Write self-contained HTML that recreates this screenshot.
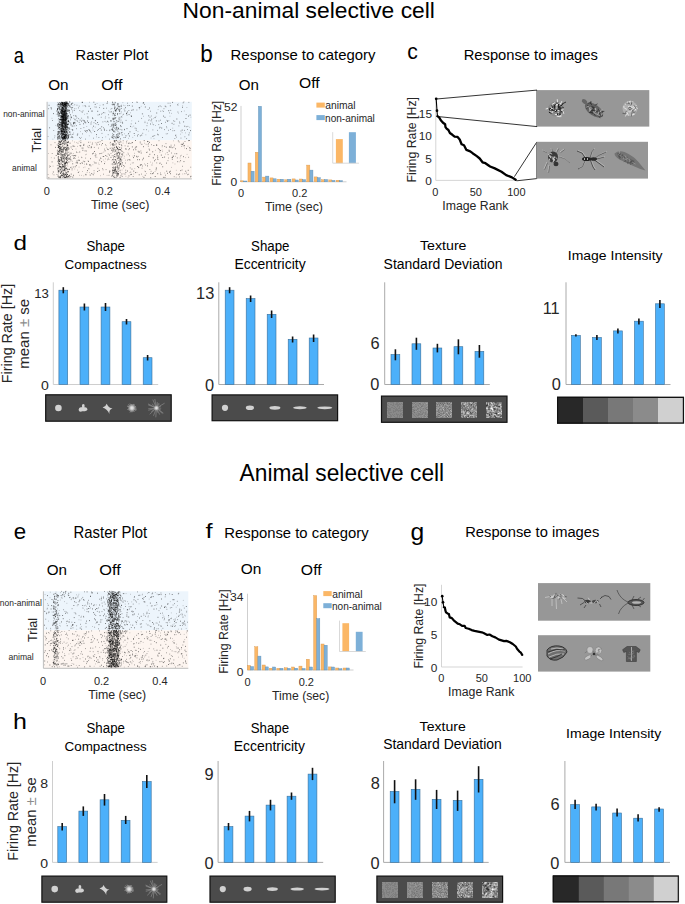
<!DOCTYPE html>
<html><head><meta charset="utf-8"><style>
html,body{margin:0;padding:0;background:#fff;}
body{width:685px;height:904px;overflow:hidden;font-family:"Liberation Sans", sans-serif;}
svg{display:block;}
svg text{font-family:"Liberation Sans", sans-serif;}
</style></head><body>
<svg width="685" height="904" viewBox="0 0 685 904" font-family='"Liberation Sans", sans-serif'>
<defs><radialGradient id="fz"><stop offset="0" stop-color="#f0f0f0"/><stop offset="0.5" stop-color="#c8c8c8"/><stop offset="1" stop-color="#8a8a8a" stop-opacity="0.6"/></radialGradient></defs>
<rect width="685" height="904" fill="#fff"/>
<text x="182.57" y="17.50" font-size="22.55" textLength="252.32" lengthAdjust="spacingAndGlyphs" fill="#000">Non-animal selective cell</text>
<text x="13.77" y="62.70" font-size="22.78" textLength="10.15" lengthAdjust="spacingAndGlyphs" fill="#000">a</text>
<text x="75.62" y="59.90" font-size="15.22" textLength="72.67" lengthAdjust="spacingAndGlyphs" fill="#000">Raster Plot</text>
<text x="48.21" y="90.40" font-size="15.00" textLength="20.36" lengthAdjust="spacingAndGlyphs" fill="#000">On</text>
<text x="101.28" y="90.40" font-size="14.94" textLength="21.15" lengthAdjust="spacingAndGlyphs" fill="#000">Off</text>
<text x="200.34" y="62.00" font-size="23.45" textLength="12.48" lengthAdjust="spacingAndGlyphs" fill="#000">b</text>
<text x="230.61" y="59.80" font-size="15.34" textLength="144.86" lengthAdjust="spacingAndGlyphs" fill="#000">Response to category</text>
<text x="238.82" y="90.20" font-size="14.57" textLength="20.15" lengthAdjust="spacingAndGlyphs" fill="#000">On</text>
<text x="299.09" y="88.10" font-size="13.89" textLength="20.63" lengthAdjust="spacingAndGlyphs" fill="#000">Off</text>
<text x="407.35" y="58.80" font-size="22.96" textLength="10.57" lengthAdjust="spacingAndGlyphs" fill="#000">c</text>
<text x="463.72" y="60.00" font-size="14.91" textLength="134.11" lengthAdjust="spacingAndGlyphs" fill="#000">Response to images</text>
<rect x="47.1" y="101.8" width="144.70000000000002" height="38.500000000000014" fill="#edf5fc"/>
<rect x="47.1" y="140.3" width="144.70000000000002" height="38.599999999999994" fill="#fdf5f0"/>
<path d="M48.7 105.3h0.75M49.3 127.8h0.75M50.7 107.7h0.75M50.9 108.9h0.75M53.2 113.6h0.75M56.4 111.0h0.75M56.9 125.9h0.75M57.1 109.8h0.75M57.3 131.9h0.75M57.3 125.9h0.75M57.3 109.8h0.75M57.2 114.1h0.75M57.1 134.3h0.75M57.4 137.9h0.75M57.6 112.8h0.75M57.7 104.4h0.75M57.5 136.2h0.75M57.7 123.7h0.75M57.7 137.9h0.75M57.5 139.3h0.75M58.2 136.3h0.75M58.0 126.8h0.75M58.3 112.2h0.75M58.1 112.1h0.75M58.1 104.6h0.75M57.9 132.9h0.75M58.8 127.5h0.75M58.6 108.5h0.75M58.6 128.6h0.75M58.6 126.2h0.75M58.8 114.9h0.75M58.4 131.8h0.75M58.5 131.3h0.75M58.6 137.4h0.75M59.3 135.6h0.75M59.1 124.5h0.75M59.0 119.5h0.75M59.1 113.7h0.75M59.2 136.5h0.75M59.2 102.7h0.75M59.0 127.6h0.75M59.0 125.0h0.75M59.1 107.8h0.75M59.6 131.4h0.75M59.6 127.5h0.75M59.4 104.4h0.75M59.6 107.3h0.75M59.8 105.4h0.75M59.6 124.3h0.75M59.7 133.5h0.75M59.8 132.0h0.75M60.1 128.9h0.75M60.0 119.4h0.75M59.9 119.5h0.75M60.1 124.7h0.75M60.1 115.5h0.75M60.2 122.8h0.75M60.2 112.9h0.75M60.0 103.4h0.75M60.6 109.4h0.75M60.7 118.9h0.75M60.7 110.7h0.75M60.7 108.9h0.75M60.4 104.1h0.75M60.6 125.2h0.75M60.6 104.5h0.75M60.5 119.7h0.75M60.7 130.6h0.75M60.4 134.6h0.75M60.7 112.4h0.75M60.6 131.9h0.75M61.2 132.0h0.75M61.1 131.4h0.75M60.9 125.6h0.75M61.2 126.1h0.75M61.2 116.6h0.75M61.0 108.1h0.75M60.9 113.4h0.75M61.2 130.9h0.75M61.3 103.2h0.75M60.9 110.0h0.75M61.2 124.1h0.75M60.9 112.3h0.75M61.3 119.8h0.75M61.3 136.1h0.75M61.2 110.7h0.75M61.2 124.5h0.75M60.9 113.9h0.75M60.9 130.7h0.75M60.9 133.0h0.75M61.0 104.7h0.75M61.4 107.1h0.75M61.7 128.4h0.75M61.4 110.3h0.75M61.4 117.1h0.75M61.7 102.5h0.75M61.5 126.2h0.75M61.8 124.7h0.75M61.5 120.6h0.75M61.7 133.1h0.75M61.8 125.3h0.75M61.5 119.2h0.75M61.8 124.4h0.75M61.4 122.3h0.75M61.8 126.5h0.75M61.6 131.9h0.75M61.4 119.4h0.75M61.5 123.2h0.75M61.5 125.9h0.75M61.8 113.8h0.75M61.6 130.0h0.75M61.6 104.4h0.75M61.6 132.0h0.75M61.4 131.5h0.75M61.6 137.5h0.75M61.5 113.0h0.75M61.8 119.5h0.75M61.4 134.8h0.75M61.4 129.0h0.75M61.6 104.8h0.75M61.5 128.4h0.75M61.8 123.9h0.75M61.5 125.8h0.75M62.0 122.4h0.75M62.3 138.8h0.75M62.3 120.5h0.75M62.1 137.5h0.75M62.2 131.5h0.75M61.9 107.5h0.75M62.0 131.7h0.75M62.2 110.7h0.75M62.0 103.4h0.75M62.2 121.5h0.75M61.9 111.4h0.75M62.0 138.2h0.75M61.9 116.5h0.75M62.1 104.7h0.75M62.2 104.0h0.75M62.0 114.8h0.75M62.1 107.9h0.75M62.0 119.3h0.75M62.0 102.5h0.75M61.9 134.9h0.75M62.2 121.3h0.75M62.0 110.7h0.75M61.9 124.1h0.75M61.9 128.3h0.75M62.2 126.8h0.75M62.0 112.8h0.75M62.0 103.3h0.75M62.0 125.5h0.75M62.1 116.5h0.75M62.0 105.3h0.75M61.9 117.0h0.75M62.0 111.3h0.75M62.0 126.9h0.75M62.1 117.4h0.75M62.4 109.0h0.75M62.7 110.6h0.75M62.6 116.6h0.75M62.8 114.3h0.75M62.5 111.1h0.75M62.4 121.1h0.75M62.4 104.4h0.75M62.7 119.8h0.75M62.8 134.4h0.75M62.5 128.6h0.75M62.7 114.1h0.75M62.5 108.7h0.75M62.4 103.4h0.75M62.7 139.1h0.75M62.6 115.8h0.75M62.8 133.3h0.75M62.6 131.8h0.75M62.5 120.1h0.75M62.4 125.2h0.75M62.5 103.7h0.75M62.8 113.4h0.75M62.8 129.0h0.75M62.4 108.1h0.75M62.5 121.1h0.75M62.5 137.8h0.75M62.4 123.4h0.75M62.5 105.3h0.75M62.6 127.3h0.75M62.5 130.1h0.75M62.8 113.9h0.75M62.5 138.9h0.75M62.6 116.2h0.75M63.1 136.7h0.75M63.1 134.3h0.75M63.3 120.2h0.75M63.3 131.7h0.75M63.0 105.6h0.75M62.9 138.8h0.75M62.9 114.5h0.75M63.2 108.6h0.75M63.2 119.3h0.75M63.0 117.1h0.75M63.0 123.5h0.75M63.0 117.2h0.75M63.1 122.3h0.75M63.0 119.2h0.75M63.1 126.4h0.75M63.2 129.6h0.75M62.9 119.4h0.75M63.0 120.8h0.75M63.1 106.7h0.75M63.0 117.3h0.75M63.1 133.7h0.75M63.2 128.5h0.75M63.1 102.9h0.75M62.9 111.6h0.75M63.5 120.0h0.75M63.7 120.1h0.75M63.6 138.0h0.75M63.6 115.6h0.75M63.7 123.9h0.75M63.4 105.3h0.75M63.8 116.9h0.75M63.8 114.1h0.75M63.4 130.4h0.75M63.7 123.5h0.75M63.8 136.2h0.75M63.7 122.4h0.75M63.6 136.4h0.75M63.4 129.6h0.75M63.6 109.4h0.75M63.6 138.6h0.75M63.7 110.6h0.75M63.7 123.4h0.75M63.6 120.1h0.75M63.7 105.6h0.75M63.6 122.5h0.75M63.7 111.7h0.75M63.4 121.9h0.75M63.5 111.3h0.75M63.6 112.0h0.75M63.7 111.5h0.75M63.6 114.9h0.75M63.4 123.0h0.75M63.4 126.8h0.75M63.6 120.0h0.75M63.6 106.9h0.75M63.8 136.9h0.75M64.2 132.1h0.75M64.3 117.1h0.75M64.0 134.9h0.75M64.2 114.3h0.75M64.0 134.7h0.75M64.0 113.1h0.75M64.1 132.5h0.75M64.1 116.1h0.75M64.3 107.2h0.75M64.0 136.7h0.75M64.2 137.3h0.75M64.0 106.3h0.75M64.3 104.5h0.75M64.0 103.6h0.75M64.1 137.3h0.75M64.0 104.7h0.75M64.1 103.7h0.75M63.9 129.4h0.75M63.9 102.4h0.75M64.3 112.6h0.75M63.9 137.3h0.75M63.9 127.6h0.75M64.1 116.0h0.75M64.2 119.1h0.75M63.9 131.8h0.75M64.3 131.7h0.75M64.1 114.6h0.75M63.9 121.0h0.75M64.3 126.0h0.75M64.3 113.4h0.75M64.5 102.7h0.75M64.5 112.0h0.75M64.8 130.8h0.75M64.6 129.7h0.75M64.4 123.6h0.75M64.5 104.4h0.75M64.8 135.6h0.75M64.4 130.5h0.75M64.4 122.5h0.75M64.7 129.1h0.75M64.6 118.0h0.75M64.4 104.5h0.75M64.7 118.2h0.75M64.5 138.7h0.75M64.6 118.8h0.75M64.7 117.2h0.75M64.6 138.5h0.75M64.4 136.0h0.75M64.6 138.8h0.75M64.6 120.4h0.75M64.8 111.2h0.75M64.5 119.6h0.75M64.7 138.8h0.75M64.5 125.0h0.75M65.0 115.5h0.75M65.1 105.4h0.75M65.3 104.1h0.75M64.9 127.9h0.75M65.0 119.3h0.75M65.0 112.8h0.75M65.1 121.0h0.75M65.2 135.3h0.75M64.9 113.1h0.75M65.2 125.1h0.75M65.3 104.6h0.75M65.1 123.6h0.75M64.9 125.7h0.75M64.9 109.4h0.75M65.0 132.7h0.75M65.3 110.8h0.75M65.3 127.1h0.75M64.9 110.7h0.75M65.2 120.3h0.75M65.0 114.2h0.75M65.1 136.1h0.75M65.1 110.8h0.75M65.2 128.9h0.75M65.3 107.3h0.75M65.0 105.0h0.75M64.9 106.0h0.75M64.9 106.0h0.75M65.2 108.1h0.75M65.1 115.9h0.75M64.9 114.4h0.75M65.1 137.0h0.75M65.2 135.9h0.75M65.7 137.8h0.75M65.6 123.0h0.75M65.4 122.7h0.75M65.4 101.8h0.75M65.5 116.7h0.75M65.5 124.9h0.75M65.4 117.3h0.75M65.8 104.0h0.75M65.4 110.4h0.75M65.7 119.4h0.75M65.6 120.9h0.75M65.8 131.5h0.75M65.4 127.2h0.75M65.7 118.5h0.75M65.5 135.1h0.75M65.4 136.9h0.75M65.4 131.1h0.75M65.8 131.5h0.75M65.5 136.2h0.75M65.8 125.0h0.75M65.4 120.7h0.75M65.5 122.5h0.75M65.7 119.2h0.75M65.5 125.9h0.75M65.8 104.9h0.75M65.5 119.6h0.75M65.5 117.7h0.75M65.8 114.0h0.75M65.6 113.8h0.75M65.9 132.1h0.75M66.1 105.4h0.75M66.2 126.9h0.75M66.2 132.7h0.75M65.9 103.6h0.75M66.1 123.0h0.75M65.9 134.9h0.75M66.0 119.1h0.75M66.2 105.8h0.75M66.3 136.9h0.75M65.9 108.0h0.75M65.9 115.0h0.75M66.0 103.0h0.75M66.3 116.1h0.75M65.9 108.9h0.75M66.2 129.4h0.75M66.0 132.0h0.75M66.3 120.9h0.75M66.0 110.3h0.75M66.0 123.0h0.75M65.9 127.1h0.75M66.1 116.0h0.75M65.9 112.9h0.75M66.6 102.7h0.75M66.8 134.0h0.75M66.5 137.4h0.75M66.6 129.4h0.75M66.8 102.1h0.75M66.5 127.0h0.75M66.7 124.5h0.75M66.8 113.5h0.75M66.8 103.4h0.75M66.5 125.8h0.75M66.8 109.7h0.75M67.3 103.4h0.75M67.1 105.9h0.75M67.0 111.0h0.75M67.3 127.2h0.75M67.2 115.1h0.75M66.9 126.7h0.75M67.3 116.7h0.75M67.5 127.7h0.75M67.5 116.6h0.75M67.5 138.4h0.75M67.6 110.3h0.75M67.5 135.4h0.75M67.6 121.4h0.75M67.6 104.3h0.75M67.7 103.9h0.75M67.7 124.5h0.75M67.8 120.9h0.75M67.8 116.2h0.75M67.7 111.5h0.75M67.5 124.6h0.75M67.8 136.4h0.75M67.9 137.4h0.75M68.2 121.6h0.75M67.9 128.0h0.75M68.1 121.5h0.75M68.0 135.1h0.75M68.2 115.6h0.75M68.3 123.9h0.75M68.2 137.6h0.75M68.0 110.1h0.75M68.6 105.7h0.75M68.7 134.6h0.75M68.8 129.1h0.75M68.8 122.1h0.75M68.5 135.9h0.75M69.1 132.1h0.75M69.2 110.2h0.75M69.5 102.0h0.75M70.0 114.8h0.75M70.5 124.9h0.75M70.4 123.1h0.75M71.1 117.1h0.75M71.1 104.2h0.75M70.9 117.7h0.75M71.1 107.8h0.75M71.6 136.7h0.75M72.3 107.6h0.75M72.3 129.8h0.75M72.5 126.1h0.75M72.4 130.1h0.75M73.2 123.6h0.75M73.0 123.2h0.75M73.6 122.5h0.75M73.9 110.3h0.75M75.7 116.2h0.75M76.9 135.1h0.75M77.4 134.0h0.75M79.7 120.1h0.75M79.6 124.4h0.75M81.8 102.4h0.75M81.8 112.1h0.75M81.9 102.3h0.75M83.0 123.8h0.75M84.1 120.9h0.75M84.7 105.7h0.75M84.4 122.1h0.75M85.3 131.3h0.75M85.4 122.8h0.75M87.0 130.8h0.75M87.1 121.0h0.75M87.5 116.9h0.75M88.2 122.5h0.75M88.1 111.3h0.75M88.6 129.5h0.75M88.7 106.2h0.75M89.4 130.5h0.75M90.1 108.7h0.75M91.6 111.1h0.75M92.2 117.9h0.75M93.1 126.2h0.75M93.5 102.2h0.75M94.3 131.5h0.75M94.8 104.4h0.75M94.9 120.7h0.75M95.7 107.1h0.75M96.1 134.6h0.75M97.3 122.5h0.75M97.4 111.3h0.75M100.9 130.1h0.75M101.4 126.8h0.75M102.8 104.8h0.75M103.4 108.4h0.75M103.4 112.6h0.75M104.1 130.2h0.75M103.9 129.1h0.75M106.7 103.4h0.75M107.2 121.3h0.75M107.0 101.9h0.75M109.5 130.1h0.75M110.9 111.8h0.75M111.7 124.3h0.75M111.7 125.7h0.75M111.5 129.3h0.75M112.3 128.1h0.75M112.2 102.2h0.75M112.0 137.7h0.75M112.7 130.3h0.75M112.7 118.2h0.75M112.6 113.8h0.75M112.7 104.2h0.75M112.9 118.7h0.75M113.1 113.2h0.75M113.1 127.1h0.75M113.0 125.3h0.75M113.5 113.8h0.75M113.4 134.5h0.75M113.4 136.2h0.75M113.7 104.8h0.75M113.8 121.7h0.75M114.1 108.2h0.75M113.9 118.0h0.75M114.0 114.9h0.75M114.5 128.2h0.75M114.8 118.6h0.75M114.5 125.3h0.75M114.7 107.2h0.75M115.0 110.7h0.75M114.9 123.6h0.75M115.3 137.8h0.75M115.3 125.2h0.75M115.0 115.3h0.75M114.9 110.9h0.75M115.4 117.5h0.75M116.4 109.8h0.75M116.8 136.5h0.75M116.4 138.0h0.75M116.7 130.0h0.75M116.9 108.3h0.75M117.1 113.9h0.75M117.3 104.1h0.75M117.2 137.5h0.75M117.7 103.7h0.75M117.6 129.0h0.75M117.5 108.2h0.75M118.3 137.6h0.75M117.9 135.1h0.75M118.0 121.3h0.75M118.2 128.7h0.75M118.7 136.6h0.75M118.5 109.7h0.75M119.1 111.3h0.75M118.9 110.7h0.75M119.3 106.8h0.75M119.3 134.0h0.75M119.5 117.9h0.75M119.5 113.7h0.75M120.3 125.6h0.75M120.7 126.6h0.75M120.8 108.4h0.75M120.9 116.8h0.75M121.5 129.9h0.75M121.8 122.2h0.75M121.8 134.9h0.75M124.2 129.4h0.75M124.5 110.9h0.75M125.1 107.7h0.75M125.6 135.8h0.75M126.2 113.6h0.75M126.6 128.6h0.75M127.3 112.0h0.75M127.5 105.6h0.75M128.3 133.6h0.75M128.7 114.6h0.75M129.2 136.0h0.75M129.6 131.8h0.75M130.1 126.4h0.75M130.8 115.9h0.75M131.2 116.4h0.75M131.9 106.1h0.75M132.6 110.0h0.75M133.8 133.5h0.75M135.3 123.2h0.75M135.8 130.2h0.75M136.8 102.3h0.75M137.2 135.9h0.75M138.8 107.7h0.75M139.9 135.8h0.75M141.4 135.1h0.75M142.8 103.1h0.75M143.3 102.7h0.75M144.9 107.0h0.75M148.4 115.8h0.75M149.1 108.0h0.75M150.2 124.0h0.75M150.7 120.8h0.75M151.4 119.2h0.75M152.5 136.4h0.75M155.9 120.9h0.75M156.4 113.0h0.75M157.8 134.8h0.75M159.7 106.0h0.75M159.6 127.3h0.75M161.1 123.5h0.75M161.4 128.0h0.75M163.1 116.1h0.75M164.8 106.2h0.75M164.6 117.3h0.75M167.2 121.2h0.75M168.4 110.7h0.75M169.9 105.8h0.75M171.7 123.3h0.75M172.3 102.4h0.75M176.5 119.0h0.75M181.8 130.1h0.75M182.2 107.3h0.75M183.3 121.9h0.75M184.4 126.2h0.75M185.6 118.5h0.75M188.0 116.1h0.75M188.5 134.9h0.75M189.7 115.1h0.75M190.0 130.6h0.75M48.5 177.8h0.75M51.7 161.9h0.75M52.9 172.0h0.75M55.0 147.4h0.75M55.8 155.5h0.75M57.2 153.7h0.75M56.9 150.9h0.75M57.5 154.3h0.75M57.5 168.6h0.75M57.6 145.3h0.75M57.6 176.1h0.75M57.8 172.2h0.75M57.7 161.8h0.75M57.5 152.7h0.75M58.2 154.1h0.75M57.9 171.4h0.75M58.1 147.0h0.75M58.3 159.3h0.75M57.9 143.5h0.75M57.9 151.4h0.75M58.2 147.6h0.75M58.3 156.7h0.75M58.2 145.3h0.75M58.7 167.3h0.75M58.7 146.5h0.75M58.4 162.2h0.75M58.6 141.5h0.75M58.4 163.6h0.75M58.7 151.3h0.75M58.5 165.3h0.75M58.4 168.7h0.75M59.0 148.2h0.75M59.0 142.0h0.75M59.2 144.3h0.75M59.1 159.9h0.75M59.3 163.9h0.75M59.1 150.5h0.75M59.1 166.5h0.75M59.7 159.4h0.75M59.6 141.2h0.75M59.7 144.5h0.75M59.5 176.7h0.75M59.6 160.3h0.75M59.6 142.9h0.75M59.5 152.7h0.75M59.5 148.9h0.75M59.7 151.5h0.75M59.8 166.9h0.75M59.6 163.8h0.75M59.9 177.9h0.75M60.1 148.2h0.75M59.9 153.9h0.75M60.0 169.8h0.75M60.2 173.0h0.75M60.0 166.5h0.75M60.1 176.0h0.75M60.2 142.2h0.75M60.0 173.3h0.75M60.5 169.9h0.75M60.8 153.7h0.75M60.8 141.2h0.75M60.8 171.8h0.75M60.4 149.3h0.75M60.5 160.8h0.75M60.5 144.5h0.75M60.4 177.3h0.75M60.7 141.9h0.75M60.6 166.7h0.75M60.6 144.4h0.75M61.0 151.8h0.75M61.2 158.7h0.75M61.0 159.4h0.75M60.9 154.6h0.75M61.2 171.2h0.75M61.6 160.6h0.75M61.4 149.3h0.75M61.6 175.7h0.75M61.4 168.1h0.75M61.4 149.9h0.75M61.7 162.5h0.75M62.1 175.3h0.75M62.0 164.8h0.75M62.0 164.7h0.75M62.2 161.5h0.75M62.3 154.6h0.75M62.1 155.9h0.75M62.3 170.9h0.75M62.7 149.5h0.75M62.6 150.3h0.75M62.6 145.0h0.75M62.4 173.7h0.75M62.4 166.6h0.75M62.7 157.0h0.75M62.8 166.4h0.75M62.9 152.1h0.75M63.0 154.8h0.75M63.2 143.1h0.75M62.9 166.5h0.75M63.0 174.4h0.75M63.0 173.0h0.75M63.1 158.5h0.75M62.9 159.1h0.75M63.6 161.0h0.75M63.4 148.5h0.75M63.8 165.5h0.75M63.8 174.1h0.75M63.4 170.6h0.75M63.8 163.9h0.75M64.3 175.8h0.75M64.1 163.8h0.75M64.1 143.9h0.75M64.2 148.9h0.75M64.3 167.1h0.75M63.9 168.7h0.75M64.2 169.7h0.75M64.3 170.4h0.75M64.3 147.7h0.75M64.3 177.0h0.75M64.4 169.3h0.75M64.6 164.0h0.75M64.6 166.3h0.75M64.6 155.2h0.75M64.5 174.6h0.75M64.4 177.6h0.75M64.6 153.4h0.75M64.4 163.0h0.75M64.5 167.3h0.75M64.5 140.5h0.75M64.5 144.6h0.75M64.5 154.1h0.75M64.8 147.4h0.75M64.9 158.5h0.75M65.0 140.9h0.75M65.2 149.9h0.75M65.1 163.1h0.75M65.1 168.9h0.75M65.2 163.0h0.75M65.1 150.9h0.75M65.2 163.7h0.75M65.4 177.5h0.75M65.6 163.2h0.75M65.7 168.5h0.75M65.4 174.4h0.75M65.4 171.0h0.75M65.4 140.4h0.75M65.6 168.2h0.75M65.5 153.8h0.75M66.0 157.7h0.75M66.0 149.2h0.75M66.0 168.3h0.75M66.2 162.1h0.75M66.1 157.6h0.75M66.3 177.0h0.75M66.1 176.2h0.75M66.2 158.9h0.75M66.5 148.6h0.75M66.6 144.8h0.75M66.5 154.1h0.75M66.6 162.5h0.75M66.5 172.7h0.75M66.5 177.2h0.75M67.2 145.0h0.75M67.1 142.6h0.75M66.9 160.5h0.75M66.9 174.5h0.75M67.1 174.5h0.75M67.3 155.8h0.75M67.0 163.1h0.75M67.8 149.6h0.75M67.6 152.4h0.75M67.5 169.2h0.75M67.8 171.8h0.75M67.4 171.3h0.75M67.8 141.7h0.75M67.8 147.7h0.75M67.4 145.3h0.75M67.9 142.5h0.75M68.3 176.3h0.75M68.1 176.2h0.75M68.7 169.5h0.75M68.4 148.3h0.75M69.0 175.3h0.75M69.1 169.2h0.75M69.0 175.8h0.75M69.0 158.9h0.75M69.5 154.1h0.75M69.7 143.2h0.75M70.0 159.2h0.75M70.1 156.9h0.75M70.8 174.1h0.75M70.5 153.1h0.75M70.5 176.4h0.75M71.7 168.9h0.75M72.6 146.0h0.75M72.4 163.8h0.75M73.2 175.3h0.75M73.4 158.3h0.75M73.5 146.2h0.75M73.4 155.8h0.75M73.9 155.5h0.75M73.9 157.9h0.75M74.8 166.8h0.75M75.8 162.8h0.75M75.9 165.6h0.75M76.0 152.1h0.75M76.6 161.0h0.75M77.3 163.0h0.75M77.9 172.5h0.75M77.9 160.2h0.75M79.0 160.3h0.75M79.7 145.6h0.75M79.4 152.0h0.75M80.5 142.6h0.75M82.6 148.1h0.75M82.5 150.3h0.75M83.4 145.5h0.75M84.7 150.9h0.75M85.5 174.4h0.75M86.4 164.3h0.75M87.2 170.6h0.75M88.1 161.4h0.75M88.5 168.8h0.75M88.9 145.6h0.75M89.2 164.9h0.75M89.8 164.9h0.75M90.2 158.7h0.75M90.9 146.8h0.75M91.4 173.6h0.75M92.0 153.8h0.75M93.3 153.2h0.75M94.0 151.5h0.75M94.8 155.7h0.75M94.5 162.9h0.75M95.7 163.0h0.75M96.6 144.8h0.75M97.3 171.5h0.75M98.8 170.4h0.75M99.4 160.1h0.75M100.5 158.4h0.75M100.6 153.5h0.75M101.0 161.7h0.75M101.6 140.4h0.75M102.1 143.5h0.75M103.4 156.5h0.75M104.0 163.6h0.75M104.7 150.8h0.75M105.4 155.5h0.75M107.1 149.2h0.75M109.0 171.1h0.75M109.0 172.2h0.75M109.2 155.1h0.75M109.8 148.3h0.75M110.6 157.4h0.75M111.3 150.3h0.75M111.4 176.1h0.75M112.3 144.8h0.75M112.0 159.6h0.75M112.3 175.2h0.75M112.1 173.1h0.75M112.4 170.2h0.75M112.5 143.5h0.75M112.5 150.3h0.75M112.5 167.5h0.75M112.6 164.7h0.75M112.8 168.8h0.75M112.9 173.2h0.75M113.2 144.1h0.75M113.0 176.7h0.75M113.3 170.5h0.75M113.4 172.3h0.75M113.6 159.5h0.75M114.2 156.6h0.75M114.2 170.3h0.75M114.1 140.7h0.75M114.2 171.7h0.75M114.1 141.5h0.75M114.8 163.5h0.75M114.4 169.9h0.75M114.6 164.5h0.75M114.5 144.8h0.75M114.4 154.5h0.75M114.5 177.4h0.75M115.0 169.3h0.75M114.9 169.7h0.75M115.2 167.1h0.75M114.9 151.2h0.75M115.0 167.8h0.75M115.0 159.6h0.75M115.2 170.9h0.75M115.7 172.2h0.75M115.4 157.0h0.75M115.8 173.5h0.75M115.8 143.9h0.75M116.3 146.4h0.75M116.2 161.7h0.75M116.3 147.2h0.75M116.3 171.4h0.75M116.3 147.3h0.75M116.1 140.4h0.75M116.4 153.0h0.75M116.7 155.5h0.75M116.8 153.9h0.75M116.5 175.1h0.75M116.8 167.5h0.75M117.3 173.3h0.75M116.9 173.9h0.75M116.9 163.9h0.75M117.2 153.0h0.75M117.3 148.0h0.75M117.1 148.5h0.75M117.0 166.8h0.75M117.8 171.6h0.75M117.4 175.1h0.75M117.4 165.8h0.75M117.7 174.8h0.75M117.9 169.1h0.75M118.2 162.9h0.75M117.9 156.9h0.75M118.2 173.6h0.75M118.3 152.7h0.75M118.7 157.6h0.75M118.5 162.6h0.75M118.5 155.7h0.75M118.7 149.7h0.75M119.1 154.3h0.75M118.9 165.7h0.75M119.3 149.5h0.75M119.6 158.4h0.75M119.4 153.6h0.75M119.5 159.2h0.75M119.5 164.2h0.75M119.7 177.4h0.75M119.7 170.3h0.75M120.2 149.5h0.75M120.0 163.5h0.75M120.2 164.3h0.75M120.8 161.1h0.75M120.6 175.8h0.75M120.5 142.0h0.75M120.4 158.8h0.75M121.3 148.1h0.75M121.2 145.0h0.75M121.3 154.2h0.75M121.3 166.4h0.75M121.4 159.9h0.75M121.5 174.0h0.75M121.6 163.0h0.75M123.4 165.5h0.75M124.6 174.0h0.75M125.2 148.9h0.75M125.5 172.4h0.75M127.2 171.0h0.75M127.6 146.2h0.75M128.1 143.3h0.75M128.7 159.6h0.75M128.6 175.9h0.75M129.1 148.7h0.75M129.6 160.0h0.75M131.0 174.4h0.75M131.6 169.1h0.75M132.2 142.6h0.75M131.9 146.9h0.75M133.1 157.6h0.75M133.2 149.8h0.75M133.4 171.1h0.75M134.0 155.8h0.75M135.3 172.6h0.75M135.1 140.5h0.75M135.5 149.7h0.75M135.4 147.2h0.75M136.3 156.3h0.75M136.3 146.8h0.75M137.1 166.5h0.75M137.3 159.7h0.75M137.8 151.3h0.75M138.8 174.8h0.75M138.4 167.6h0.75M139.1 159.7h0.75M139.1 152.0h0.75M139.8 142.1h0.75M140.1 164.9h0.75M140.8 153.0h0.75M141.3 164.7h0.75M141.5 144.3h0.75M143.1 146.7h0.75M143.0 158.2h0.75M143.8 140.6h0.75M143.6 177.4h0.75M144.8 175.3h0.75M147.2 165.9h0.75M147.5 141.6h0.75M147.4 141.4h0.75M148.0 143.9h0.75M148.5 156.4h0.75M149.3 150.0h0.75M149.2 142.4h0.75M149.5 154.3h0.75M150.4 177.8h0.75M152.3 173.6h0.75M152.4 151.8h0.75M153.2 172.9h0.75M153.5 145.5h0.75M154.2 160.8h0.75M154.2 154.7h0.75M154.8 176.5h0.75M155.7 169.8h0.75M156.1 168.1h0.75M156.3 144.9h0.75M156.4 145.3h0.75M157.3 159.1h0.75M157.4 173.7h0.75M157.4 157.3h0.75M157.9 148.7h0.75M159.1 149.8h0.75M159.7 163.1h0.75M160.2 150.5h0.75M160.5 174.6h0.75M160.9 155.1h0.75M162.4 166.8h0.75M162.4 157.5h0.75M163.6 177.4h0.75M164.3 157.1h0.75M166.2 163.1h0.75M166.4 171.2h0.75M167.0 173.3h0.75M168.8 151.2h0.75M169.2 172.2h0.75M169.0 146.9h0.75M169.7 171.6h0.75M170.1 173.7h0.75M170.6 146.9h0.75M171.8 157.8h0.75M171.8 147.7h0.75M171.9 157.3h0.75M175.2 148.8h0.75M176.4 174.2h0.75M176.4 153.7h0.75M177.4 161.7h0.75M177.9 140.9h0.75M179.3 174.0h0.75M180.3 160.7h0.75M180.4 170.6h0.75M180.9 144.3h0.75M182.2 144.6h0.75M183.0 156.7h0.75M182.9 143.2h0.75M183.6 145.8h0.75M183.6 161.6h0.75M185.4 171.2h0.75M186.1 148.6h0.75M187.8 170.3h0.75M188.4 140.6h0.75M189.2 147.8h0.75M188.9 140.5h0.75M189.6 150.3h0.75M190.6 176.3h0.75" stroke="#000" stroke-opacity="0.85" stroke-width="0.75" fill="none"/>
<path d="M47.6 136.5h0.75M48.1 108.7h0.75M52.2 120.5h0.75M53.4 130.5h0.75M54.5 135.9h0.75M57.2 108.5h0.75M57.3 109.7h0.75M56.9 105.2h0.75M57.0 124.3h0.75M57.1 137.8h0.75M57.3 124.4h0.75M57.6 133.8h0.75M57.4 111.9h0.75M57.4 108.4h0.75M57.6 106.7h0.75M57.8 138.6h0.75M57.8 115.0h0.75M57.8 134.5h0.75M57.7 134.2h0.75M57.7 116.1h0.75M57.7 104.8h0.75M58.2 123.6h0.75M57.9 124.3h0.75M58.0 128.0h0.75M57.9 113.1h0.75M58.3 116.2h0.75M58.0 106.9h0.75M58.1 125.3h0.75M57.9 106.9h0.75M57.9 103.6h0.75M58.5 114.8h0.75M58.4 118.8h0.75M58.8 115.9h0.75M58.7 132.5h0.75M58.8 138.5h0.75M59.1 113.5h0.75M59.3 138.1h0.75M59.1 109.3h0.75M59.3 121.2h0.75M59.3 122.9h0.75M59.2 104.3h0.75M59.2 106.4h0.75M59.0 109.2h0.75M59.1 115.9h0.75M59.2 125.7h0.75M59.8 106.1h0.75M59.7 120.7h0.75M59.4 122.5h0.75M59.5 119.3h0.75M59.6 129.5h0.75M59.4 108.0h0.75M59.7 134.1h0.75M59.6 124.3h0.75M60.0 125.8h0.75M60.0 137.2h0.75M60.0 126.5h0.75M60.3 102.7h0.75M60.2 111.4h0.75M59.9 109.1h0.75M60.1 139.1h0.75M60.3 104.7h0.75M60.3 117.6h0.75M60.7 106.1h0.75M60.6 106.5h0.75M60.8 131.2h0.75M60.5 112.0h0.75M60.6 124.0h0.75M60.7 122.4h0.75M60.8 117.8h0.75M60.4 123.0h0.75M60.4 109.8h0.75M60.5 129.0h0.75M60.4 128.4h0.75M61.0 115.4h0.75M61.0 116.6h0.75M61.1 133.2h0.75M61.0 102.6h0.75M61.0 130.5h0.75M61.3 127.0h0.75M61.3 117.6h0.75M60.9 119.0h0.75M61.2 113.5h0.75M61.1 137.7h0.75M61.3 116.2h0.75M61.3 121.2h0.75M61.3 111.8h0.75M60.9 119.8h0.75M61.0 131.4h0.75M61.0 122.2h0.75M61.1 128.6h0.75M61.2 105.8h0.75M61.2 102.3h0.75M61.2 110.7h0.75M61.2 109.6h0.75M61.0 115.9h0.75M61.5 116.5h0.75M61.5 137.2h0.75M61.6 133.2h0.75M61.8 117.8h0.75M61.5 114.2h0.75M61.4 116.8h0.75M61.8 131.4h0.75M61.7 135.7h0.75M61.7 138.8h0.75M61.4 111.0h0.75M61.6 122.8h0.75M61.7 129.5h0.75M61.6 111.7h0.75M61.7 119.4h0.75M61.8 133.9h0.75M61.6 121.5h0.75M61.6 120.6h0.75M61.4 127.9h0.75M61.5 113.3h0.75M61.5 115.2h0.75M61.4 133.2h0.75M61.8 109.4h0.75M61.4 110.6h0.75M61.7 115.8h0.75M61.5 136.6h0.75M61.8 118.3h0.75M61.6 103.5h0.75M62.1 129.9h0.75M62.1 126.0h0.75M62.2 131.2h0.75M62.1 133.5h0.75M62.2 108.0h0.75M62.1 110.1h0.75M62.1 103.1h0.75M62.1 118.1h0.75M62.3 123.1h0.75M61.9 117.2h0.75M62.0 111.3h0.75M62.2 103.3h0.75M62.2 134.2h0.75M62.3 119.1h0.75M62.1 139.0h0.75M62.3 109.5h0.75M61.9 127.7h0.75M62.2 111.9h0.75M61.9 136.9h0.75M61.9 113.9h0.75M62.0 117.7h0.75M62.3 113.0h0.75M62.3 109.9h0.75M62.0 114.1h0.75M62.0 107.7h0.75M62.1 108.1h0.75M62.1 107.5h0.75M61.9 116.5h0.75M62.1 123.8h0.75M62.0 135.2h0.75M62.2 125.3h0.75M62.3 134.8h0.75M62.4 106.9h0.75M62.6 126.2h0.75M62.8 107.8h0.75M62.6 122.9h0.75M62.5 129.9h0.75M62.7 106.0h0.75M62.4 115.9h0.75M62.4 127.6h0.75M62.5 102.8h0.75M62.8 116.4h0.75M62.5 102.5h0.75M62.5 119.9h0.75M62.5 134.3h0.75M62.6 132.1h0.75M62.4 122.4h0.75M62.8 139.1h0.75M62.4 137.4h0.75M62.5 115.6h0.75M62.8 115.5h0.75M62.4 107.2h0.75M62.6 102.2h0.75M62.6 113.9h0.75M62.4 112.1h0.75M62.7 116.0h0.75M62.8 125.4h0.75M62.7 118.8h0.75M62.7 123.3h0.75M63.2 118.6h0.75M63.3 131.7h0.75M62.9 112.3h0.75M63.3 130.7h0.75M62.9 108.6h0.75M62.9 126.9h0.75M63.2 112.2h0.75M62.9 137.1h0.75M63.2 129.4h0.75M63.1 118.9h0.75M63.0 129.7h0.75M63.1 104.2h0.75M63.0 127.9h0.75M63.3 111.2h0.75M63.3 105.1h0.75M63.0 128.9h0.75M62.9 125.5h0.75M63.3 139.0h0.75M63.3 104.3h0.75M63.3 109.7h0.75M62.9 108.1h0.75M62.9 115.0h0.75M63.0 118.7h0.75M63.1 117.0h0.75M63.3 137.9h0.75M63.0 138.0h0.75M63.3 103.5h0.75M63.3 114.1h0.75M63.0 115.6h0.75M63.1 115.2h0.75M62.9 121.6h0.75M63.5 105.5h0.75M63.6 137.8h0.75M63.5 131.6h0.75M63.8 131.4h0.75M63.7 117.5h0.75M63.5 118.6h0.75M63.4 134.6h0.75M63.4 118.0h0.75M63.7 136.6h0.75M63.4 114.9h0.75M63.6 116.4h0.75M63.8 115.2h0.75M63.4 132.7h0.75M63.7 118.0h0.75M63.8 103.1h0.75M63.5 109.3h0.75M63.5 118.8h0.75M63.7 137.2h0.75M63.6 104.7h0.75M63.4 121.6h0.75M63.6 123.9h0.75M64.2 121.3h0.75M64.0 123.8h0.75M64.0 127.1h0.75M63.9 111.3h0.75M64.2 111.6h0.75M64.0 110.0h0.75M64.3 115.7h0.75M64.3 138.9h0.75M64.0 131.4h0.75M64.2 137.4h0.75M63.9 106.4h0.75M64.2 136.5h0.75M63.9 114.2h0.75M64.1 126.3h0.75M63.9 111.6h0.75M64.0 119.5h0.75M64.1 117.4h0.75M64.3 107.9h0.75M64.2 110.6h0.75M64.1 111.9h0.75M64.1 119.9h0.75M64.3 112.3h0.75M64.3 120.7h0.75M64.1 137.3h0.75M64.3 136.2h0.75M64.2 134.6h0.75M64.3 125.8h0.75M64.7 110.4h0.75M64.7 127.8h0.75M64.5 137.5h0.75M64.5 121.4h0.75M64.4 134.1h0.75M64.7 117.3h0.75M64.4 118.0h0.75M64.7 122.6h0.75M64.6 139.2h0.75M64.6 126.2h0.75M64.4 103.9h0.75M64.4 104.5h0.75M64.8 120.0h0.75M64.6 117.2h0.75M64.7 118.6h0.75M64.7 118.9h0.75M64.8 118.8h0.75M64.7 126.9h0.75M64.7 102.4h0.75M64.7 111.5h0.75M64.7 129.8h0.75M64.5 128.2h0.75M64.8 112.1h0.75M64.7 135.3h0.75M64.5 132.0h0.75M64.4 124.5h0.75M64.6 139.0h0.75M64.4 113.1h0.75M64.7 132.9h0.75M64.5 115.2h0.75M64.4 115.8h0.75M64.7 111.7h0.75M64.6 132.3h0.75M64.8 114.6h0.75M64.7 108.2h0.75M65.2 103.6h0.75M64.9 133.3h0.75M65.0 138.7h0.75M65.0 126.8h0.75M65.1 115.1h0.75M64.9 113.4h0.75M65.3 130.1h0.75M65.2 127.8h0.75M65.1 116.4h0.75M65.1 121.6h0.75M65.1 116.7h0.75M65.3 122.2h0.75M65.0 134.1h0.75M64.9 107.4h0.75M65.2 105.9h0.75M65.1 135.6h0.75M65.0 118.6h0.75M65.0 123.5h0.75M64.9 110.1h0.75M65.0 137.7h0.75M64.9 125.6h0.75M65.3 103.4h0.75M65.2 108.7h0.75M65.2 125.3h0.75M65.1 116.2h0.75M64.9 108.9h0.75M65.1 120.8h0.75M65.1 103.3h0.75M65.3 123.8h0.75M65.0 128.4h0.75M65.2 134.3h0.75M65.7 104.1h0.75M65.5 113.9h0.75M65.8 111.6h0.75M65.8 136.9h0.75M65.7 119.2h0.75M65.7 123.3h0.75M65.5 106.0h0.75M65.4 104.2h0.75M65.5 106.3h0.75M65.7 134.9h0.75M65.6 134.2h0.75M65.6 111.7h0.75M65.4 124.6h0.75M65.5 136.3h0.75M65.5 119.8h0.75M65.8 103.5h0.75M65.4 117.7h0.75M65.4 135.0h0.75M65.7 104.2h0.75M65.5 118.5h0.75M65.4 126.2h0.75M65.4 124.4h0.75M65.5 117.6h0.75M65.6 126.0h0.75M65.6 126.1h0.75M65.6 115.5h0.75M65.8 113.2h0.75M65.4 107.1h0.75M65.7 102.9h0.75M65.7 102.4h0.75M66.0 138.3h0.75M66.3 134.4h0.75M66.2 126.0h0.75M66.1 117.3h0.75M66.2 127.6h0.75M66.3 113.4h0.75M66.3 101.8h0.75M66.0 130.6h0.75M66.2 117.3h0.75M65.9 121.8h0.75M66.3 135.9h0.75M66.1 118.9h0.75M66.0 118.9h0.75M66.2 114.0h0.75M65.9 103.5h0.75M65.9 113.7h0.75M66.0 106.9h0.75M66.1 115.1h0.75M66.0 112.8h0.75M65.9 117.3h0.75M65.9 102.9h0.75M65.9 134.8h0.75M66.7 122.7h0.75M66.5 130.0h0.75M66.7 127.1h0.75M66.6 123.5h0.75M66.7 124.9h0.75M66.8 103.7h0.75M66.6 103.1h0.75M66.8 106.5h0.75M66.5 117.2h0.75M66.5 111.0h0.75M66.8 128.7h0.75M66.7 130.6h0.75M66.5 121.5h0.75M67.3 118.6h0.75M67.2 127.8h0.75M67.2 131.9h0.75M67.0 118.7h0.75M67.0 117.4h0.75M67.2 136.0h0.75M67.3 138.9h0.75M66.9 124.8h0.75M67.3 124.8h0.75M66.9 132.9h0.75M67.2 139.0h0.75M67.7 107.7h0.75M67.8 105.2h0.75M68.3 120.4h0.75M68.1 136.5h0.75M68.0 130.7h0.75M67.9 103.6h0.75M67.9 120.3h0.75M68.7 110.5h0.75M68.5 104.9h0.75M68.5 118.1h0.75M68.7 105.4h0.75M69.3 111.0h0.75M69.2 101.9h0.75M69.1 112.4h0.75M68.9 127.8h0.75M69.4 131.9h0.75M69.6 106.1h0.75M69.4 106.8h0.75M70.0 107.2h0.75M69.9 134.3h0.75M70.7 137.5h0.75M70.6 104.8h0.75M71.6 126.0h0.75M71.4 109.3h0.75M71.8 137.2h0.75M71.5 103.5h0.75M72.1 111.0h0.75M72.0 134.4h0.75M72.5 137.6h0.75M72.4 103.3h0.75M73.4 115.6h0.75M73.8 122.3h0.75M73.7 122.5h0.75M74.0 123.4h0.75M74.4 104.8h0.75M74.4 125.9h0.75M74.7 119.8h0.75M74.5 119.2h0.75M75.0 115.8h0.75M76.1 128.7h0.75M76.2 125.6h0.75M76.6 105.2h0.75M76.9 121.0h0.75M78.3 118.6h0.75M78.1 107.9h0.75M78.8 106.1h0.75M79.0 137.6h0.75M79.4 110.5h0.75M80.0 138.4h0.75M80.5 128.5h0.75M81.3 118.2h0.75M81.1 121.4h0.75M82.2 133.9h0.75M82.7 110.8h0.75M83.4 120.8h0.75M83.5 127.6h0.75M84.5 130.6h0.75M85.2 139.1h0.75M85.4 106.6h0.75M86.1 130.6h0.75M86.7 113.7h0.75M87.6 118.0h0.75M90.1 131.8h0.75M90.6 124.2h0.75M90.7 122.9h0.75M91.7 111.1h0.75M92.5 118.6h0.75M93.2 138.2h0.75M93.6 122.7h0.75M95.4 123.6h0.75M97.0 130.4h0.75M97.6 115.0h0.75M98.1 129.5h0.75M98.3 124.6h0.75M98.5 137.5h0.75M99.2 107.6h0.75M99.0 114.4h0.75M99.5 128.5h0.75M100.8 117.3h0.75M101.0 114.1h0.75M101.6 133.4h0.75M102.1 137.6h0.75M102.5 121.9h0.75M103.1 127.7h0.75M104.6 121.4h0.75M104.9 118.0h0.75M106.1 108.2h0.75M106.4 130.4h0.75M107.8 134.7h0.75M107.8 122.0h0.75M108.1 124.7h0.75M108.2 114.7h0.75M108.6 117.8h0.75M109.1 139.1h0.75M109.6 112.0h0.75M110.3 120.8h0.75M110.6 121.0h0.75M110.9 120.9h0.75M111.4 126.0h0.75M111.5 137.5h0.75M111.6 136.6h0.75M112.1 133.8h0.75M112.3 135.9h0.75M111.9 129.6h0.75M112.3 130.3h0.75M112.3 119.1h0.75M112.5 102.9h0.75M112.7 137.8h0.75M112.9 124.5h0.75M113.1 104.4h0.75M112.9 119.9h0.75M113.3 131.5h0.75M113.4 126.2h0.75M113.8 132.0h0.75M113.4 138.6h0.75M113.4 119.5h0.75M114.1 131.1h0.75M114.0 124.1h0.75M114.2 115.7h0.75M114.3 104.6h0.75M114.0 136.8h0.75M114.6 102.3h0.75M114.4 107.0h0.75M114.6 109.8h0.75M114.8 110.1h0.75M114.4 108.5h0.75M115.0 102.8h0.75M115.0 113.4h0.75M115.2 125.3h0.75M115.5 129.6h0.75M115.7 111.2h0.75M115.7 136.3h0.75M115.7 122.4h0.75M116.0 108.9h0.75M116.0 128.6h0.75M115.9 109.6h0.75M116.0 127.3h0.75M115.9 124.9h0.75M116.2 120.8h0.75M116.3 134.5h0.75M116.8 105.3h0.75M117.2 114.7h0.75M117.6 131.4h0.75M117.4 113.6h0.75M117.7 137.6h0.75M117.8 106.6h0.75M117.5 133.6h0.75M118.1 105.0h0.75M118.0 128.0h0.75M118.2 106.6h0.75M118.5 118.7h0.75M118.6 133.2h0.75M118.8 119.5h0.75M119.0 109.2h0.75M118.9 133.1h0.75M119.8 106.0h0.75M119.7 129.4h0.75M119.9 122.2h0.75M120.0 138.7h0.75M120.6 120.1h0.75M120.8 133.1h0.75M121.3 132.5h0.75M121.0 105.3h0.75M121.1 106.5h0.75M122.2 123.1h0.75M123.2 114.3h0.75M123.6 137.5h0.75M123.8 109.1h0.75M125.0 137.4h0.75M125.7 120.4h0.75M126.7 115.1h0.75M126.4 113.7h0.75M127.1 103.2h0.75M128.5 110.5h0.75M129.0 105.5h0.75M130.8 123.9h0.75M131.0 110.3h0.75M132.1 102.5h0.75M134.7 128.1h0.75M135.8 128.4h0.75M136.5 110.0h0.75M137.8 134.5h0.75M138.3 121.3h0.75M139.4 107.6h0.75M141.3 118.4h0.75M142.3 113.9h0.75M142.4 133.3h0.75M143.5 129.6h0.75M144.2 104.4h0.75M144.6 122.6h0.75M146.0 129.7h0.75M146.6 125.7h0.75M146.9 123.1h0.75M147.7 109.5h0.75M148.3 120.2h0.75M149.6 117.2h0.75M150.1 111.2h0.75M150.9 116.0h0.75M152.5 129.9h0.75M153.3 124.7h0.75M154.4 135.6h0.75M155.2 117.6h0.75M157.1 134.2h0.75M157.2 130.4h0.75M158.0 106.7h0.75M158.4 124.6h0.75M158.6 121.0h0.75M160.0 120.2h0.75M160.4 111.2h0.75M162.0 137.5h0.75M162.9 111.5h0.75M163.6 108.7h0.75M164.1 129.6h0.75M165.0 122.3h0.75M165.6 106.8h0.75M166.1 126.8h0.75M167.7 103.2h0.75M167.5 120.8h0.75M168.1 130.3h0.75M169.0 112.9h0.75M169.7 103.2h0.75M170.2 129.5h0.75M170.4 110.4h0.75M172.5 130.7h0.75M173.1 120.8h0.75M174.3 130.6h0.75M174.5 138.5h0.75M174.4 121.3h0.75M175.0 135.7h0.75M175.5 135.1h0.75M176.1 137.1h0.75M177.0 104.7h0.75M177.5 112.0h0.75M178.5 125.9h0.75M179.0 122.0h0.75M179.5 123.2h0.75M180.6 138.1h0.75M180.6 131.0h0.75M181.2 111.6h0.75M182.7 102.9h0.75M184.2 130.4h0.75M184.5 136.8h0.75M185.8 114.6h0.75M186.3 138.6h0.75M185.9 126.7h0.75M187.2 129.5h0.75M187.5 126.4h0.75M188.5 102.4h0.75M188.9 132.9h0.75M47.6 174.5h0.75M49.2 167.0h0.75M50.2 166.5h0.75M50.6 144.8h0.75M51.8 153.5h0.75M53.6 174.8h0.75M53.9 158.1h0.75M54.6 142.6h0.75M56.9 165.4h0.75M57.5 147.4h0.75M57.7 167.5h0.75M57.7 170.4h0.75M57.6 161.4h0.75M57.7 160.1h0.75M57.5 154.1h0.75M57.9 176.1h0.75M58.0 157.2h0.75M58.3 160.5h0.75M58.1 171.0h0.75M58.3 153.8h0.75M58.2 147.1h0.75M58.1 151.7h0.75M58.1 159.0h0.75M58.3 170.8h0.75M58.7 154.6h0.75M58.7 146.0h0.75M58.5 177.1h0.75M58.5 160.9h0.75M58.4 146.1h0.75M58.6 141.0h0.75M58.4 160.1h0.75M58.4 177.4h0.75M58.7 171.7h0.75M59.0 165.9h0.75M59.3 161.4h0.75M59.2 161.4h0.75M58.9 170.4h0.75M59.1 177.5h0.75M59.2 146.5h0.75M59.1 161.6h0.75M59.0 146.6h0.75M58.9 150.0h0.75M58.9 166.3h0.75M59.5 177.8h0.75M59.4 152.2h0.75M59.8 176.7h0.75M59.5 147.1h0.75M59.4 148.4h0.75M59.8 144.6h0.75M60.3 167.2h0.75M60.3 147.7h0.75M59.9 157.7h0.75M60.3 169.1h0.75M60.3 149.3h0.75M60.0 142.7h0.75M60.2 150.6h0.75M60.2 177.1h0.75M60.7 147.2h0.75M60.8 155.3h0.75M60.7 167.4h0.75M60.5 147.0h0.75M60.6 157.4h0.75M60.8 157.6h0.75M60.8 156.8h0.75M60.5 150.6h0.75M61.1 147.7h0.75M61.0 175.0h0.75M61.1 141.2h0.75M60.9 158.3h0.75M60.9 171.8h0.75M61.0 160.6h0.75M61.3 172.4h0.75M61.0 152.2h0.75M61.2 163.6h0.75M61.2 140.5h0.75M61.8 155.3h0.75M61.4 175.6h0.75M61.8 166.2h0.75M61.5 151.5h0.75M61.4 143.8h0.75M61.6 161.5h0.75M61.7 159.2h0.75M61.9 152.4h0.75M62.2 151.8h0.75M62.1 177.3h0.75M62.1 151.1h0.75M62.0 140.4h0.75M62.3 166.1h0.75M62.1 167.8h0.75M62.2 146.2h0.75M62.2 142.9h0.75M62.8 176.6h0.75M62.6 158.1h0.75M62.6 156.7h0.75M62.4 143.5h0.75M62.6 173.1h0.75M62.7 149.0h0.75M62.5 169.4h0.75M63.3 175.9h0.75M63.2 177.0h0.75M62.9 147.8h0.75M63.1 141.5h0.75M62.9 151.1h0.75M63.0 167.0h0.75M63.3 161.4h0.75M63.1 175.9h0.75M63.2 157.0h0.75M63.7 167.2h0.75M63.5 155.8h0.75M63.5 147.3h0.75M63.7 161.8h0.75M63.6 140.9h0.75M63.9 142.2h0.75M63.9 162.2h0.75M64.3 141.4h0.75M64.2 160.7h0.75M64.1 157.0h0.75M64.2 154.8h0.75M64.0 158.9h0.75M64.5 175.7h0.75M64.7 155.4h0.75M64.4 157.1h0.75M65.3 174.8h0.75M65.1 149.7h0.75M65.2 157.1h0.75M65.2 152.3h0.75M64.9 147.4h0.75M65.2 166.1h0.75M65.1 177.0h0.75M65.1 177.5h0.75M65.0 174.3h0.75M65.8 162.2h0.75M65.7 148.2h0.75M65.4 165.4h0.75M65.4 172.6h0.75M65.6 158.9h0.75M65.8 149.0h0.75M66.0 176.2h0.75M66.2 162.1h0.75M66.2 147.2h0.75M66.3 150.2h0.75M66.0 175.3h0.75M66.3 173.8h0.75M66.1 162.6h0.75M66.3 159.7h0.75M66.2 142.0h0.75M66.4 175.5h0.75M66.4 172.7h0.75M66.5 159.6h0.75M66.5 156.7h0.75M66.8 149.9h0.75M66.6 150.4h0.75M66.8 158.7h0.75M66.6 151.3h0.75M67.0 169.4h0.75M67.0 176.5h0.75M67.3 156.2h0.75M67.3 142.5h0.75M67.1 176.7h0.75M67.0 145.5h0.75M66.9 148.0h0.75M67.3 147.6h0.75M67.1 158.0h0.75M67.2 145.9h0.75M67.6 145.9h0.75M67.4 177.8h0.75M67.4 154.9h0.75M67.7 159.2h0.75M67.9 155.2h0.75M68.3 158.1h0.75M68.1 171.7h0.75M68.3 159.1h0.75M67.9 155.2h0.75M68.8 155.2h0.75M68.5 162.2h0.75M69.5 177.3h0.75M69.4 158.1h0.75M70.5 160.9h0.75M70.5 167.4h0.75M71.8 155.4h0.75M72.2 149.5h0.75M72.3 177.2h0.75M73.2 167.0h0.75M75.1 156.0h0.75M75.4 155.4h0.75M76.8 162.6h0.75M77.6 143.2h0.75M80.3 146.0h0.75M80.2 163.6h0.75M80.5 140.8h0.75M81.6 148.1h0.75M81.5 157.6h0.75M81.9 163.4h0.75M82.9 161.2h0.75M83.3 144.4h0.75M84.0 161.7h0.75M85.3 158.1h0.75M85.6 175.0h0.75M86.0 151.0h0.75M88.0 142.3h0.75M88.5 147.6h0.75M89.7 175.0h0.75M90.6 165.9h0.75M91.2 147.6h0.75M91.8 144.3h0.75M92.2 143.0h0.75M93.1 174.8h0.75M93.7 170.7h0.75M93.7 173.1h0.75M93.9 147.4h0.75M95.1 154.0h0.75M95.4 157.0h0.75M97.8 142.3h0.75M97.5 168.3h0.75M98.1 148.1h0.75M99.1 144.4h0.75M99.0 153.7h0.75M99.7 141.7h0.75M101.1 145.0h0.75M102.3 168.6h0.75M102.7 169.8h0.75M102.7 156.5h0.75M103.1 174.2h0.75M104.1 149.1h0.75M105.1 144.8h0.75M105.7 169.6h0.75M106.6 156.4h0.75M107.7 159.1h0.75M107.8 154.0h0.75M108.0 149.6h0.75M108.6 175.3h0.75M110.0 142.4h0.75M110.6 153.4h0.75M111.8 155.7h0.75M112.3 148.2h0.75M112.1 170.2h0.75M112.3 171.7h0.75M112.4 163.6h0.75M112.5 174.7h0.75M112.6 170.6h0.75M112.4 144.5h0.75M113.2 162.3h0.75M113.1 157.3h0.75M113.1 155.9h0.75M112.9 151.1h0.75M113.3 145.3h0.75M113.4 148.8h0.75M113.8 161.8h0.75M113.4 172.7h0.75M113.7 172.8h0.75M113.4 162.7h0.75M113.8 169.0h0.75M113.6 149.4h0.75M113.7 150.0h0.75M113.9 170.5h0.75M114.2 140.8h0.75M113.9 177.3h0.75M114.3 147.7h0.75M114.2 167.7h0.75M114.0 162.0h0.75M114.7 173.4h0.75M114.6 142.6h0.75M114.8 164.1h0.75M115.0 141.0h0.75M114.9 160.6h0.75M115.3 150.4h0.75M115.1 168.6h0.75M115.8 162.6h0.75M115.6 153.9h0.75M115.6 171.2h0.75M116.3 177.0h0.75M116.6 151.1h0.75M116.8 172.5h0.75M117.3 176.3h0.75M117.2 148.2h0.75M117.2 158.8h0.75M116.9 154.0h0.75M116.9 158.4h0.75M117.6 149.1h0.75M117.7 173.5h0.75M117.8 174.0h0.75M117.7 142.1h0.75M117.4 168.9h0.75M117.9 149.4h0.75M118.1 150.9h0.75M117.9 158.5h0.75M118.6 152.3h0.75M118.8 167.1h0.75M118.4 167.7h0.75M118.7 144.1h0.75M118.5 152.6h0.75M119.3 161.7h0.75M119.3 144.4h0.75M118.9 156.2h0.75M119.1 142.3h0.75M118.9 160.6h0.75M119.0 147.5h0.75M119.6 164.3h0.75M120.1 159.5h0.75M120.1 160.2h0.75M120.6 150.3h0.75M121.1 151.1h0.75M121.5 145.8h0.75M122.1 162.7h0.75M122.3 151.4h0.75M122.2 154.3h0.75M121.9 176.4h0.75M122.4 155.7h0.75M122.4 153.9h0.75M122.8 140.7h0.75M124.3 166.6h0.75M124.7 145.8h0.75M125.2 163.0h0.75M125.4 170.2h0.75M126.1 141.8h0.75M126.2 149.1h0.75M127.1 160.1h0.75M128.2 154.1h0.75M128.4 149.7h0.75M129.1 155.8h0.75M129.1 143.1h0.75M129.8 167.9h0.75M130.1 174.6h0.75M130.5 143.5h0.75M130.4 172.1h0.75M132.8 162.8h0.75M132.8 176.5h0.75M134.7 148.3h0.75M136.8 157.1h0.75M137.8 156.4h0.75M138.1 167.1h0.75M139.8 165.3h0.75M140.5 151.0h0.75M141.2 174.1h0.75M141.7 168.2h0.75M142.2 166.0h0.75M142.0 159.9h0.75M145.2 171.6h0.75M145.3 165.1h0.75M146.2 152.5h0.75M146.8 152.1h0.75M147.3 163.6h0.75M147.9 146.2h0.75M148.7 149.0h0.75M149.5 169.5h0.75M150.2 173.6h0.75M150.7 171.3h0.75M151.1 144.7h0.75M151.6 165.0h0.75M152.8 157.4h0.75M152.9 158.1h0.75M155.1 159.7h0.75M156.4 162.9h0.75M157.2 155.8h0.75M158.6 140.7h0.75M159.5 152.1h0.75M160.2 173.0h0.75M161.3 164.4h0.75M161.9 145.7h0.75M164.1 146.4h0.75M164.8 177.4h0.75M165.1 175.2h0.75M165.6 143.6h0.75M166.0 147.3h0.75M166.8 152.6h0.75M167.6 160.6h0.75M167.7 154.6h0.75M168.1 158.0h0.75M168.7 150.2h0.75M169.7 147.4h0.75M170.7 145.2h0.75M171.1 153.0h0.75M171.9 159.5h0.75M172.8 156.0h0.75M172.9 156.4h0.75M173.5 147.1h0.75M173.8 176.7h0.75M174.5 153.7h0.75M178.4 174.7h0.75M178.8 142.0h0.75M179.0 176.9h0.75M180.0 156.0h0.75M181.4 146.4h0.75M181.7 170.0h0.75M182.0 166.3h0.75M182.6 144.1h0.75M184.1 145.6h0.75M184.5 173.7h0.75M184.6 141.5h0.75M186.3 173.0h0.75M187.0 174.7h0.75M188.3 174.3h0.75M188.3 157.3h0.75M190.0 148.3h0.75M190.1 176.9h0.75M190.4 167.2h0.75" stroke="#000" stroke-opacity="0.6" stroke-width="0.75" fill="none"/>
<path d="M51.6 118.3h0.75M52.5 139.2h0.75M54.0 137.7h0.75M55.4 125.4h0.75M55.9 114.3h0.75M57.1 109.0h0.75M56.9 135.9h0.75M57.0 108.9h0.75M57.3 109.2h0.75M57.7 111.4h0.75M57.4 102.5h0.75M57.7 119.9h0.75M57.6 129.4h0.75M57.7 128.2h0.75M57.8 134.8h0.75M58.3 104.9h0.75M58.0 108.2h0.75M58.2 118.4h0.75M58.1 132.0h0.75M58.3 133.6h0.75M58.0 133.3h0.75M58.3 103.4h0.75M58.1 113.4h0.75M58.7 126.4h0.75M58.6 124.8h0.75M58.5 131.5h0.75M58.4 136.8h0.75M58.8 131.7h0.75M58.7 109.8h0.75M58.7 113.8h0.75M58.6 122.4h0.75M58.6 102.9h0.75M58.4 121.2h0.75M58.8 127.7h0.75M59.1 112.7h0.75M59.2 121.4h0.75M59.1 137.7h0.75M59.1 132.4h0.75M59.3 124.7h0.75M59.0 129.6h0.75M59.5 113.6h0.75M59.5 139.2h0.75M59.4 110.8h0.75M59.5 105.4h0.75M59.5 127.4h0.75M59.5 133.3h0.75M59.8 119.1h0.75M59.4 135.3h0.75M59.8 129.7h0.75M59.8 117.0h0.75M60.2 130.6h0.75M60.1 116.4h0.75M60.2 128.1h0.75M59.9 111.2h0.75M60.1 120.8h0.75M60.2 103.5h0.75M60.2 116.4h0.75M60.2 103.7h0.75M60.3 104.6h0.75M60.1 119.7h0.75M60.6 136.9h0.75M60.6 138.5h0.75M60.6 117.5h0.75M60.6 139.2h0.75M60.8 136.1h0.75M60.5 129.7h0.75M60.4 106.3h0.75M60.6 111.5h0.75M60.5 126.3h0.75M60.5 122.4h0.75M60.7 113.0h0.75M60.4 113.2h0.75M60.8 137.0h0.75M60.5 116.8h0.75M60.9 122.9h0.75M60.9 130.3h0.75M61.1 123.1h0.75M60.9 129.4h0.75M61.1 128.8h0.75M61.3 117.2h0.75M61.2 133.8h0.75M61.3 135.1h0.75M61.2 121.4h0.75M60.9 129.6h0.75M61.1 112.8h0.75M61.0 103.7h0.75M61.1 112.1h0.75M61.1 115.7h0.75M61.3 133.5h0.75M60.9 111.9h0.75M61.3 123.8h0.75M61.3 105.2h0.75M61.1 138.1h0.75M61.1 102.2h0.75M61.5 109.3h0.75M61.7 114.2h0.75M61.7 130.6h0.75M61.5 120.9h0.75M61.7 114.1h0.75M61.8 106.9h0.75M61.5 135.9h0.75M61.8 112.6h0.75M61.5 123.3h0.75M61.4 108.6h0.75M61.7 107.2h0.75M61.7 127.6h0.75M61.7 120.0h0.75M61.6 123.0h0.75M61.7 135.6h0.75M61.5 104.4h0.75M61.8 126.8h0.75M61.7 123.1h0.75M61.4 135.4h0.75M61.4 103.0h0.75M61.5 120.5h0.75M61.5 136.4h0.75M61.6 108.2h0.75M61.8 134.4h0.75M61.4 127.9h0.75M61.5 111.2h0.75M61.4 112.5h0.75M62.0 118.3h0.75M62.2 123.3h0.75M62.1 105.1h0.75M62.2 133.0h0.75M62.1 130.3h0.75M61.9 118.9h0.75M61.9 110.8h0.75M62.3 130.4h0.75M62.0 119.1h0.75M62.0 114.4h0.75M62.3 116.1h0.75M62.0 116.5h0.75M62.2 128.9h0.75M62.0 112.3h0.75M62.1 116.3h0.75M62.2 123.0h0.75M62.2 137.6h0.75M62.2 122.5h0.75M62.1 124.9h0.75M62.0 123.4h0.75M62.5 115.3h0.75M62.7 122.8h0.75M62.8 113.6h0.75M62.7 127.5h0.75M62.5 120.8h0.75M62.7 133.4h0.75M62.6 117.6h0.75M62.7 133.0h0.75M62.6 137.1h0.75M62.7 116.7h0.75M62.8 103.6h0.75M62.5 125.0h0.75M62.4 105.8h0.75M62.4 119.9h0.75M62.7 112.2h0.75M62.4 115.3h0.75M62.6 132.2h0.75M62.7 116.8h0.75M62.8 130.6h0.75M62.7 111.2h0.75M62.5 112.3h0.75M62.7 109.7h0.75M62.8 109.5h0.75M62.8 117.9h0.75M62.5 117.1h0.75M62.5 124.9h0.75M62.6 106.1h0.75M63.1 139.0h0.75M63.0 129.4h0.75M63.3 126.1h0.75M63.3 104.2h0.75M63.2 111.2h0.75M63.1 121.9h0.75M62.9 122.6h0.75M63.1 110.9h0.75M63.0 134.2h0.75M63.3 124.9h0.75M63.2 134.7h0.75M63.0 109.2h0.75M63.2 117.7h0.75M63.3 114.8h0.75M63.3 112.5h0.75M63.2 118.9h0.75M63.0 118.3h0.75M63.0 132.6h0.75M63.0 135.5h0.75M63.2 124.5h0.75M63.3 126.2h0.75M62.9 116.6h0.75M63.3 129.2h0.75M63.3 137.2h0.75M63.1 106.0h0.75M63.1 112.8h0.75M63.3 107.6h0.75M62.9 107.6h0.75M63.2 135.1h0.75M63.1 120.6h0.75M63.0 113.0h0.75M63.1 103.7h0.75M63.6 121.2h0.75M63.7 105.0h0.75M63.7 122.5h0.75M63.7 102.6h0.75M63.7 118.3h0.75M63.4 113.8h0.75M63.4 106.1h0.75M63.4 113.4h0.75M63.6 121.9h0.75M63.7 116.3h0.75M63.6 138.4h0.75M63.4 137.5h0.75M63.8 105.5h0.75M63.7 106.3h0.75M63.6 135.5h0.75M63.7 115.5h0.75M63.7 112.7h0.75M63.5 120.9h0.75M63.4 134.0h0.75M63.7 122.2h0.75M63.6 126.5h0.75M63.8 115.4h0.75M63.8 105.9h0.75M63.7 104.5h0.75M63.8 113.4h0.75M63.4 123.2h0.75M63.7 133.9h0.75M63.6 109.2h0.75M63.6 122.7h0.75M63.5 128.1h0.75M63.8 137.4h0.75M63.7 124.8h0.75M63.4 121.3h0.75M63.9 134.4h0.75M63.9 103.0h0.75M63.9 131.6h0.75M64.0 102.4h0.75M64.2 127.1h0.75M64.1 104.7h0.75M63.9 131.4h0.75M64.0 124.0h0.75M64.3 137.8h0.75M63.9 127.2h0.75M64.1 123.1h0.75M64.0 131.5h0.75M64.1 124.4h0.75M64.1 109.0h0.75M64.3 102.7h0.75M63.9 110.0h0.75M64.0 115.2h0.75M64.1 114.3h0.75M64.0 136.9h0.75M64.1 120.4h0.75M64.1 112.7h0.75M64.0 133.1h0.75M64.2 128.5h0.75M64.3 108.4h0.75M64.0 111.0h0.75M64.2 124.7h0.75M64.2 105.9h0.75M64.2 130.2h0.75M64.2 106.5h0.75M63.9 134.3h0.75M64.7 127.5h0.75M64.5 136.6h0.75M64.5 121.6h0.75M64.5 119.6h0.75M64.7 126.1h0.75M64.6 137.6h0.75M64.6 123.3h0.75M64.7 103.5h0.75M64.6 105.8h0.75M64.5 110.1h0.75M64.8 111.5h0.75M64.8 138.4h0.75M64.6 127.0h0.75M64.5 129.0h0.75M64.7 110.3h0.75M64.5 116.7h0.75M64.6 132.6h0.75M64.5 123.9h0.75M64.7 114.0h0.75M64.8 115.0h0.75M64.4 113.5h0.75M64.4 105.0h0.75M64.7 102.9h0.75M64.8 109.7h0.75M64.7 114.4h0.75M64.6 132.8h0.75M64.7 109.9h0.75M65.0 106.0h0.75M64.9 134.4h0.75M65.2 127.7h0.75M65.3 139.0h0.75M65.3 104.6h0.75M65.3 118.1h0.75M65.0 104.5h0.75M65.3 129.0h0.75M64.9 103.1h0.75M64.9 119.6h0.75M65.0 111.5h0.75M65.3 128.1h0.75M64.9 102.8h0.75M65.1 120.5h0.75M65.2 104.7h0.75M65.3 125.0h0.75M64.9 102.9h0.75M65.3 124.4h0.75M65.0 112.8h0.75M65.2 128.0h0.75M64.9 116.6h0.75M65.2 106.0h0.75M65.2 137.8h0.75M65.8 139.3h0.75M65.4 118.6h0.75M65.7 108.9h0.75M65.5 112.1h0.75M65.7 104.2h0.75M65.5 119.9h0.75M65.4 131.2h0.75M65.4 119.0h0.75M65.7 122.3h0.75M65.4 124.4h0.75M65.8 112.6h0.75M65.6 120.8h0.75M65.4 106.9h0.75M65.7 104.6h0.75M65.7 135.7h0.75M65.6 137.4h0.75M65.4 129.7h0.75M65.4 108.2h0.75M65.5 108.4h0.75M65.7 106.6h0.75M65.6 124.8h0.75M65.7 134.7h0.75M65.5 115.0h0.75M65.7 127.2h0.75M65.5 105.6h0.75M65.7 110.3h0.75M65.4 104.7h0.75M66.1 107.7h0.75M66.1 135.4h0.75M66.2 114.2h0.75M65.9 138.8h0.75M66.0 107.8h0.75M66.3 108.5h0.75M66.2 128.8h0.75M66.1 137.1h0.75M65.9 102.4h0.75M66.0 128.9h0.75M66.2 111.6h0.75M66.3 124.3h0.75M66.3 108.2h0.75M66.0 118.4h0.75M66.2 109.4h0.75M66.3 124.1h0.75M65.9 111.0h0.75M66.7 133.1h0.75M66.6 107.2h0.75M66.7 134.8h0.75M66.5 104.8h0.75M66.7 104.1h0.75M66.5 105.7h0.75M66.6 124.2h0.75M66.8 135.8h0.75M66.4 109.7h0.75M66.5 131.3h0.75M66.5 105.6h0.75M66.8 137.4h0.75M66.8 133.6h0.75M66.9 129.2h0.75M67.2 120.1h0.75M67.2 104.3h0.75M67.3 124.6h0.75M67.2 132.1h0.75M67.3 124.1h0.75M67.0 115.0h0.75M67.6 117.7h0.75M67.5 132.4h0.75M67.7 124.1h0.75M67.7 133.3h0.75M67.7 135.7h0.75M68.2 104.1h0.75M67.9 128.8h0.75M67.9 137.9h0.75M68.8 113.6h0.75M68.4 138.1h0.75M68.5 103.4h0.75M69.1 128.6h0.75M68.9 106.3h0.75M69.8 116.4h0.75M69.4 129.0h0.75M69.7 131.8h0.75M70.3 120.1h0.75M70.3 132.9h0.75M70.2 119.6h0.75M70.0 118.0h0.75M70.7 134.9h0.75M70.8 129.5h0.75M71.1 103.9h0.75M71.3 124.7h0.75M71.9 102.9h0.75M72.2 112.7h0.75M72.5 105.6h0.75M73.3 132.9h0.75M73.3 124.4h0.75M73.2 134.2h0.75M73.4 118.3h0.75M74.1 108.5h0.75M75.2 123.8h0.75M75.2 122.4h0.75M75.7 108.7h0.75M75.8 120.4h0.75M76.2 118.2h0.75M76.7 117.8h0.75M77.4 121.2h0.75M78.6 122.5h0.75M79.0 122.3h0.75M80.1 131.6h0.75M80.7 111.4h0.75M81.1 137.4h0.75M81.4 120.4h0.75M82.0 120.2h0.75M82.6 105.9h0.75M83.0 120.2h0.75M84.3 114.3h0.75M85.1 122.0h0.75M86.1 132.4h0.75M86.4 126.5h0.75M88.9 135.8h0.75M89.0 102.3h0.75M89.5 131.0h0.75M91.3 121.7h0.75M91.3 132.8h0.75M92.0 127.9h0.75M92.7 130.1h0.75M94.3 106.9h0.75M94.8 127.1h0.75M95.0 120.4h0.75M96.1 136.9h0.75M96.6 124.3h0.75M96.7 103.5h0.75M98.8 114.8h0.75M99.6 105.3h0.75M100.3 128.3h0.75M102.0 113.4h0.75M104.6 112.9h0.75M105.3 116.4h0.75M105.4 136.9h0.75M105.8 122.2h0.75M108.4 110.9h0.75M109.2 130.7h0.75M109.9 126.5h0.75M110.4 109.2h0.75M110.9 124.9h0.75M111.2 108.6h0.75M111.6 129.8h0.75M111.5 104.4h0.75M111.7 108.4h0.75M112.0 104.9h0.75M111.9 129.3h0.75M112.0 104.7h0.75M112.7 123.8h0.75M112.5 135.4h0.75M112.5 115.4h0.75M112.7 130.1h0.75M112.6 112.9h0.75M113.2 111.5h0.75M113.0 124.1h0.75M113.2 121.7h0.75M113.7 118.8h0.75M113.4 131.4h0.75M114.3 103.6h0.75M113.9 105.7h0.75M114.4 118.9h0.75M115.3 132.0h0.75M115.6 110.5h0.75M115.8 120.5h0.75M115.5 130.0h0.75M115.8 124.2h0.75M115.7 127.8h0.75M115.9 127.7h0.75M116.3 126.8h0.75M116.6 135.2h0.75M116.6 135.3h0.75M116.5 135.8h0.75M116.7 137.7h0.75M116.9 127.5h0.75M116.9 121.1h0.75M117.0 121.8h0.75M116.9 134.5h0.75M118.5 109.6h0.75M118.5 117.2h0.75M119.0 120.9h0.75M119.5 106.6h0.75M119.5 111.0h0.75M120.3 139.2h0.75M119.9 109.6h0.75M120.8 113.0h0.75M120.9 111.7h0.75M121.7 117.1h0.75M122.3 115.1h0.75M122.0 132.4h0.75M122.4 123.2h0.75M122.5 102.6h0.75M123.3 105.3h0.75M124.1 130.1h0.75M124.3 133.8h0.75M124.6 105.7h0.75M126.1 112.9h0.75M127.7 134.9h0.75M128.0 138.3h0.75M130.2 112.8h0.75M131.4 120.8h0.75M131.7 126.9h0.75M132.4 137.4h0.75M132.9 109.4h0.75M133.4 126.1h0.75M134.3 135.5h0.75M136.3 102.0h0.75M137.6 131.5h0.75M139.3 108.9h0.75M140.8 106.3h0.75M141.8 113.8h0.75M143.0 116.3h0.75M144.6 121.3h0.75M145.5 134.8h0.75M148.3 131.1h0.75M149.1 119.8h0.75M150.7 138.0h0.75M151.8 122.3h0.75M152.2 124.0h0.75M153.1 135.9h0.75M153.4 118.4h0.75M153.6 138.6h0.75M154.1 117.5h0.75M155.1 125.5h0.75M155.6 116.3h0.75M157.7 109.6h0.75M159.2 128.3h0.75M161.0 106.7h0.75M162.4 110.6h0.75M165.7 133.8h0.75M166.3 120.3h0.75M166.5 127.9h0.75M166.6 134.0h0.75M167.3 133.5h0.75M168.6 120.7h0.75M169.6 116.2h0.75M171.2 113.4h0.75M172.4 128.2h0.75M172.9 124.4h0.75M173.8 124.2h0.75M177.7 105.4h0.75M178.2 113.2h0.75M177.9 103.9h0.75M180.1 134.2h0.75M181.7 132.7h0.75M182.3 105.8h0.75M183.0 102.2h0.75M183.7 101.9h0.75M183.9 111.0h0.75M185.0 132.9h0.75M186.5 107.5h0.75M189.4 127.3h0.75M190.5 117.2h0.75M48.1 153.5h0.75M49.4 165.5h0.75M50.9 157.7h0.75M52.1 173.8h0.75M52.7 166.1h0.75M56.3 174.5h0.75M56.7 144.7h0.75M57.2 149.9h0.75M57.2 169.3h0.75M57.5 157.7h0.75M57.7 156.5h0.75M57.7 152.8h0.75M57.8 158.0h0.75M57.4 174.5h0.75M58.1 147.0h0.75M58.3 163.9h0.75M58.0 163.4h0.75M57.9 158.5h0.75M58.2 173.8h0.75M58.3 147.4h0.75M58.4 145.7h0.75M58.4 142.9h0.75M58.7 148.5h0.75M58.4 142.7h0.75M58.8 150.4h0.75M58.8 144.3h0.75M59.1 142.0h0.75M59.2 150.0h0.75M59.3 164.6h0.75M59.0 169.3h0.75M59.1 164.2h0.75M59.2 161.5h0.75M59.0 149.0h0.75M59.4 171.7h0.75M59.4 151.1h0.75M59.6 146.9h0.75M59.7 141.4h0.75M59.5 154.4h0.75M59.7 145.9h0.75M60.2 164.6h0.75M59.9 162.7h0.75M60.0 173.3h0.75M59.9 144.9h0.75M60.2 143.4h0.75M60.3 148.5h0.75M60.5 155.6h0.75M60.7 146.3h0.75M60.5 148.1h0.75M60.6 157.4h0.75M60.9 164.6h0.75M61.1 150.9h0.75M61.3 173.1h0.75M61.1 151.4h0.75M61.3 168.3h0.75M61.1 157.0h0.75M61.1 175.9h0.75M61.2 167.7h0.75M61.0 175.1h0.75M61.5 160.4h0.75M61.5 175.4h0.75M61.4 141.4h0.75M61.6 169.6h0.75M61.5 140.9h0.75M61.4 159.6h0.75M61.5 168.2h0.75M61.5 149.1h0.75M61.7 174.9h0.75M61.4 149.1h0.75M62.0 158.0h0.75M62.3 161.2h0.75M62.1 143.0h0.75M62.1 154.9h0.75M62.1 175.0h0.75M62.2 146.4h0.75M62.3 143.6h0.75M62.7 153.0h0.75M62.7 171.7h0.75M62.4 158.1h0.75M62.5 167.7h0.75M62.5 149.4h0.75M62.6 170.3h0.75M62.7 149.6h0.75M62.8 140.4h0.75M62.8 164.6h0.75M63.1 150.9h0.75M62.9 147.5h0.75M63.2 162.5h0.75M63.1 143.2h0.75M63.1 141.8h0.75M63.1 174.0h0.75M63.8 157.5h0.75M63.5 149.9h0.75M63.4 165.6h0.75M63.4 170.2h0.75M63.4 154.7h0.75M63.8 171.0h0.75M63.4 173.2h0.75M63.5 174.6h0.75M63.5 170.0h0.75M63.7 148.7h0.75M63.7 173.7h0.75M63.7 146.3h0.75M64.2 177.3h0.75M64.1 169.3h0.75M64.2 164.6h0.75M64.1 159.0h0.75M64.2 166.3h0.75M64.3 159.7h0.75M64.6 170.6h0.75M64.5 142.7h0.75M64.4 154.3h0.75M64.7 174.0h0.75M64.5 177.7h0.75M64.5 177.9h0.75M64.6 143.4h0.75M65.1 143.1h0.75M65.2 149.6h0.75M65.1 168.6h0.75M65.3 164.4h0.75M65.0 162.1h0.75M64.9 155.5h0.75M65.6 152.3h0.75M65.7 142.4h0.75M65.4 173.1h0.75M65.6 142.6h0.75M65.4 163.3h0.75M65.4 143.5h0.75M65.4 140.4h0.75M65.6 167.5h0.75M65.5 159.6h0.75M66.3 143.5h0.75M66.2 176.6h0.75M65.9 169.7h0.75M66.2 174.0h0.75M66.0 146.0h0.75M66.1 152.9h0.75M66.7 144.1h0.75M66.6 148.3h0.75M66.6 169.8h0.75M66.6 157.9h0.75M66.8 149.1h0.75M66.4 161.0h0.75M66.5 149.9h0.75M66.4 161.5h0.75M66.5 165.4h0.75M67.2 164.2h0.75M66.9 153.5h0.75M67.2 155.9h0.75M67.5 166.2h0.75M67.6 141.0h0.75M67.8 177.5h0.75M68.0 176.4h0.75M68.0 141.7h0.75M68.7 152.1h0.75M68.6 161.6h0.75M68.9 149.0h0.75M69.4 159.3h0.75M70.0 167.6h0.75M70.0 147.0h0.75M71.3 148.1h0.75M71.3 146.7h0.75M71.2 153.3h0.75M70.9 159.8h0.75M71.6 167.0h0.75M71.7 170.2h0.75M72.1 140.8h0.75M72.0 161.3h0.75M72.8 176.9h0.75M72.9 153.5h0.75M74.0 142.0h0.75M74.4 146.5h0.75M74.4 169.0h0.75M75.2 158.5h0.75M75.6 149.0h0.75M76.3 142.6h0.75M77.1 170.1h0.75M77.1 146.4h0.75M77.5 152.5h0.75M78.0 157.2h0.75M78.6 171.6h0.75M78.8 141.3h0.75M78.7 167.1h0.75M79.0 175.3h0.75M79.7 163.4h0.75M80.6 145.7h0.75M81.2 157.1h0.75M81.2 175.4h0.75M81.4 162.5h0.75M82.1 171.5h0.75M82.2 162.8h0.75M83.3 167.6h0.75M83.4 175.9h0.75M83.9 144.3h0.75M84.1 164.2h0.75M84.6 167.1h0.75M84.5 161.4h0.75M85.1 154.7h0.75M86.0 154.3h0.75M86.2 163.6h0.75M86.7 172.5h0.75M87.0 146.2h0.75M87.6 160.9h0.75M87.6 147.1h0.75M89.1 172.6h0.75M89.8 142.2h0.75M90.2 175.2h0.75M90.5 147.8h0.75M92.5 164.7h0.75M92.4 174.6h0.75M93.7 161.7h0.75M94.9 142.7h0.75M96.1 143.3h0.75M96.0 154.9h0.75M96.5 157.3h0.75M96.9 142.7h0.75M98.3 163.1h0.75M98.7 164.5h0.75M100.2 175.7h0.75M100.1 157.7h0.75M101.7 153.0h0.75M102.9 160.0h0.75M103.4 152.1h0.75M104.6 161.8h0.75M105.1 158.9h0.75M106.2 147.8h0.75M105.9 145.7h0.75M106.7 175.4h0.75M107.2 159.9h0.75M108.1 158.0h0.75M108.7 159.5h0.75M109.6 143.1h0.75M110.1 145.1h0.75M110.1 171.2h0.75M110.9 164.1h0.75M110.9 144.2h0.75M111.5 147.7h0.75M111.6 149.2h0.75M111.6 160.8h0.75M112.1 152.2h0.75M112.3 151.7h0.75M112.0 175.8h0.75M112.6 148.8h0.75M112.6 145.8h0.75M112.5 145.4h0.75M112.6 167.3h0.75M113.3 140.9h0.75M113.2 158.7h0.75M113.0 160.9h0.75M113.3 172.2h0.75M113.2 167.1h0.75M113.8 152.1h0.75M113.5 166.9h0.75M113.6 147.5h0.75M113.9 162.3h0.75M113.9 175.9h0.75M114.2 162.6h0.75M114.6 151.4h0.75M114.8 169.2h0.75M114.4 147.4h0.75M114.4 156.3h0.75M114.5 146.0h0.75M115.3 149.6h0.75M115.3 170.7h0.75M115.5 140.7h0.75M115.5 159.5h0.75M115.6 177.4h0.75M115.4 166.5h0.75M115.8 140.4h0.75M115.8 149.1h0.75M115.5 172.2h0.75M116.0 154.6h0.75M116.1 175.8h0.75M116.3 171.9h0.75M116.0 167.0h0.75M116.3 162.8h0.75M116.2 175.0h0.75M116.4 160.5h0.75M116.5 165.0h0.75M116.6 156.5h0.75M116.4 149.5h0.75M116.4 170.2h0.75M116.4 163.6h0.75M117.1 141.2h0.75M117.6 149.5h0.75M117.5 157.4h0.75M117.4 156.1h0.75M117.5 170.5h0.75M118.3 143.0h0.75M118.2 174.8h0.75M118.3 168.3h0.75M118.2 160.4h0.75M118.3 157.9h0.75M118.5 157.2h0.75M118.8 140.3h0.75M118.4 146.6h0.75M119.1 153.1h0.75M118.9 168.7h0.75M119.0 163.0h0.75M119.7 171.9h0.75M119.6 144.5h0.75M119.6 147.7h0.75M119.7 162.8h0.75M120.2 152.8h0.75M120.1 172.6h0.75M120.2 141.1h0.75M120.1 161.5h0.75M119.9 159.5h0.75M120.5 157.0h0.75M120.6 156.2h0.75M120.5 164.8h0.75M120.5 150.0h0.75M121.0 165.2h0.75M120.9 157.3h0.75M121.5 156.8h0.75M121.7 170.0h0.75M122.2 164.7h0.75M122.7 143.1h0.75M122.9 173.8h0.75M122.9 152.4h0.75M123.0 168.0h0.75M123.6 152.7h0.75M123.7 158.2h0.75M124.1 156.3h0.75M125.1 160.2h0.75M125.5 176.3h0.75M126.7 140.7h0.75M126.5 154.9h0.75M126.4 143.1h0.75M127.7 177.3h0.75M127.5 153.0h0.75M129.4 172.6h0.75M130.0 164.3h0.75M131.3 142.7h0.75M131.8 163.0h0.75M132.6 156.1h0.75M133.4 174.0h0.75M134.0 153.3h0.75M134.4 168.6h0.75M136.6 172.4h0.75M138.0 152.4h0.75M139.9 143.7h0.75M142.6 159.2h0.75M142.5 176.4h0.75M144.1 163.9h0.75M144.2 143.2h0.75M144.4 171.1h0.75M145.6 144.2h0.75M146.2 173.6h0.75M146.7 144.6h0.75M150.0 162.1h0.75M151.5 173.8h0.75M152.2 163.1h0.75M154.7 171.5h0.75M155.0 150.3h0.75M155.6 168.1h0.75M157.9 159.6h0.75M159.1 163.6h0.75M161.8 150.1h0.75M161.8 146.8h0.75M162.3 151.6h0.75M162.9 177.3h0.75M164.4 173.0h0.75M165.1 154.0h0.75M165.5 146.9h0.75M170.0 170.9h0.75M171.0 167.4h0.75M172.5 162.8h0.75M173.1 140.8h0.75M174.0 144.7h0.75M174.3 145.5h0.75M174.6 164.0h0.75M175.2 156.3h0.75M175.8 177.2h0.75M175.9 170.3h0.75M176.9 157.5h0.75M176.9 158.3h0.75M178.3 174.7h0.75M179.7 158.0h0.75M179.4 161.9h0.75M181.2 155.3h0.75M182.4 174.0h0.75M184.1 148.1h0.75M185.3 157.6h0.75M186.7 154.4h0.75M187.6 146.2h0.75" stroke="#000" stroke-opacity="0.35" stroke-width="0.75" fill="none"/>
<path d="M47.1 101.8V178.9H191.8" stroke="#bdbdbd" fill="none" stroke-width="1"/>
<text x="3.15" y="116.60" font-size="8.39" textLength="41.51" lengthAdjust="spacingAndGlyphs" fill="#262626">non-animal</text>
<text x="12.06" y="170.80" font-size="8.42" textLength="24.79" lengthAdjust="spacingAndGlyphs" fill="#262626">animal</text>
<text x="0" y="0" font-size="12.86" textLength="24.52" lengthAdjust="spacingAndGlyphs" fill="#262626" transform="translate(40.70 152.46) rotate(-90)">Trial</text>
<text x="43.72" y="194.85" font-size="11.00" textLength="6.12" lengthAdjust="spacingAndGlyphs" fill="#262626">0</text>
<text x="97.61" y="194.85" font-size="11.00" textLength="15.29" lengthAdjust="spacingAndGlyphs" fill="#262626">0.2</text>
<text x="154.80" y="194.85" font-size="11.00" textLength="15.29" lengthAdjust="spacingAndGlyphs" fill="#262626">0.4</text>
<text x="90.95" y="208.60" font-size="12.46" textLength="58.36" lengthAdjust="spacingAndGlyphs" fill="#262626">Time (sec)</text>
<path d="M241 105.9V181.8H346.5" stroke="#cfcfcf" fill="none" stroke-width="1"/>
<rect x="240.60" y="180.80" width="3.1" height="1.00" fill="#fbb766" stroke="#d99a50" stroke-width="0.4"/>
<rect x="243.70" y="181.00" width="3.1" height="0.80" fill="#7db0d8" stroke="#5f8fb5" stroke-width="0.4"/>
<rect x="247.95" y="163.00" width="3.1" height="18.80" fill="#fbb766" stroke="#d99a50" stroke-width="0.4"/>
<rect x="251.05" y="171.20" width="3.1" height="10.60" fill="#7db0d8" stroke="#5f8fb5" stroke-width="0.4"/>
<rect x="255.30" y="152.20" width="3.1" height="29.60" fill="#fbb766" stroke="#d99a50" stroke-width="0.4"/>
<rect x="258.40" y="106.30" width="3.1" height="75.50" fill="#7db0d8" stroke="#5f8fb5" stroke-width="0.4"/>
<rect x="262.65" y="177.10" width="3.1" height="4.70" fill="#fbb766" stroke="#d99a50" stroke-width="0.4"/>
<rect x="265.75" y="176.10" width="3.1" height="5.70" fill="#7db0d8" stroke="#5f8fb5" stroke-width="0.4"/>
<rect x="270.00" y="177.90" width="3.1" height="3.90" fill="#fbb766" stroke="#d99a50" stroke-width="0.4"/>
<rect x="273.10" y="178.80" width="3.1" height="3.00" fill="#7db0d8" stroke="#5f8fb5" stroke-width="0.4"/>
<rect x="277.35" y="179.20" width="3.1" height="2.60" fill="#fbb766" stroke="#d99a50" stroke-width="0.4"/>
<rect x="280.45" y="179.20" width="3.1" height="2.60" fill="#7db0d8" stroke="#5f8fb5" stroke-width="0.4"/>
<rect x="284.70" y="179.80" width="3.1" height="2.00" fill="#fbb766" stroke="#d99a50" stroke-width="0.4"/>
<rect x="287.80" y="179.20" width="3.1" height="2.60" fill="#7db0d8" stroke="#5f8fb5" stroke-width="0.4"/>
<rect x="292.05" y="178.90" width="3.1" height="2.90" fill="#fbb766" stroke="#d99a50" stroke-width="0.4"/>
<rect x="295.15" y="180.00" width="3.1" height="1.80" fill="#7db0d8" stroke="#5f8fb5" stroke-width="0.4"/>
<rect x="299.40" y="179.00" width="3.1" height="2.80" fill="#fbb766" stroke="#d99a50" stroke-width="0.4"/>
<rect x="302.50" y="179.70" width="3.1" height="2.10" fill="#7db0d8" stroke="#5f8fb5" stroke-width="0.4"/>
<rect x="306.75" y="165.10" width="3.1" height="16.70" fill="#fbb766" stroke="#d99a50" stroke-width="0.4"/>
<rect x="309.85" y="170.10" width="3.1" height="11.70" fill="#7db0d8" stroke="#5f8fb5" stroke-width="0.4"/>
<rect x="314.10" y="176.90" width="3.1" height="4.90" fill="#fbb766" stroke="#d99a50" stroke-width="0.4"/>
<rect x="317.20" y="177.70" width="3.1" height="4.10" fill="#7db0d8" stroke="#5f8fb5" stroke-width="0.4"/>
<rect x="321.45" y="179.70" width="3.1" height="2.10" fill="#fbb766" stroke="#d99a50" stroke-width="0.4"/>
<rect x="324.55" y="179.50" width="3.1" height="2.30" fill="#7db0d8" stroke="#5f8fb5" stroke-width="0.4"/>
<rect x="328.80" y="179.90" width="3.1" height="1.90" fill="#fbb766" stroke="#d99a50" stroke-width="0.4"/>
<rect x="331.90" y="180.40" width="3.1" height="1.40" fill="#7db0d8" stroke="#5f8fb5" stroke-width="0.4"/>
<rect x="336.15" y="180.20" width="3.1" height="1.60" fill="#fbb766" stroke="#d99a50" stroke-width="0.4"/>
<rect x="339.25" y="180.60" width="3.1" height="1.20" fill="#7db0d8" stroke="#5f8fb5" stroke-width="0.4"/>
<rect x="316.4" y="102.6" width="8.4" height="5" fill="#fbb766"/>
<rect x="316.4" y="115.1" width="8.4" height="5" fill="#7db0d8"/>
<text x="325.29" y="109.00" font-size="10.28" textLength="30.29" lengthAdjust="spacingAndGlyphs" fill="#262626">animal</text>
<text x="325.05" y="121.50" font-size="10.07" textLength="49.83" lengthAdjust="spacingAndGlyphs" fill="#262626">non-animal</text>
<rect x="335.9" y="139.1" width="6.900000000000034" height="24.099999999999994" fill="#fbb766"/>
<rect x="348.9" y="132.2" width="7.0" height="31.0" fill="#7db0d8"/>
<path d="M332.7 132.2V163.2H359" stroke="#cfcfcf" fill="none" stroke-width="0.8"/>
<text x="224.00" y="111.43" font-size="11.50" textLength="13.43" lengthAdjust="spacingAndGlyphs" fill="#262626">52</text>
<text x="230.52" y="185.93" font-size="11.50" textLength="6.72" lengthAdjust="spacingAndGlyphs" fill="#262626">0</text>
<text x="237.92" y="197.05" font-size="11.00" textLength="6.12" lengthAdjust="spacingAndGlyphs" fill="#262626">0</text>
<text x="292.11" y="197.05" font-size="11.00" textLength="15.29" lengthAdjust="spacingAndGlyphs" fill="#262626">0.2</text>
<text x="264.95" y="211.30" font-size="12.39" textLength="58.06" lengthAdjust="spacingAndGlyphs" fill="#262626">Time (sec)</text>
<text x="0" y="0" font-size="12.24" textLength="85.05" lengthAdjust="spacingAndGlyphs" fill="#262626" transform="translate(221.10 185.78) rotate(-90)">Firing Rate [Hz]</text>
<path d="M435.8 97.5V180.4H516.5" stroke="#d0d0d0" fill="none" stroke-width="0.9"/>
<path d="M436.2 98.8 L437.0 110.7 L437.5 116.2" stroke="#000" stroke-width="1.1" fill="none"/>
<circle cx="436.2" cy="98.8" r="1.35" fill="#000"/>
<circle cx="437" cy="110.7" r="1.35" fill="#000"/>
<path d="M437.5 116.2 L439.3 117.6 L440.8 120.2 L443.0 122.7 L445.1 124.2 L445.5 127.1 L446.6 128.6 L448.4 130.0 L449.9 133.0 L452.4 134.8 L454.6 136.6 L457.4 136.8 L459.7 139.5 L461.6 144.2 L464.0 145.2 L466.4 149.9 L470.2 151.3 L472.6 153.2 L476.8 156.1 L479.7 158.5 L482.5 162.3 L485.4 163.2 L490.1 166.5 L494.8 168.4 L501.5 171.7 L506.2 175.1 L511.9 177.4 L515.7 179.8" stroke="#000" stroke-width="2.3" fill="none" stroke-linejoin="round" stroke-linecap="round"/>
<text x="425.32" y="184.85" font-size="11.00" textLength="6.61" lengthAdjust="spacingAndGlyphs" fill="#262626">0</text>
<text x="425.38" y="162.95" font-size="11.00" textLength="6.61" lengthAdjust="spacingAndGlyphs" fill="#262626">5</text>
<text x="418.73" y="139.55" font-size="11.00" textLength="13.21" lengthAdjust="spacingAndGlyphs" fill="#262626">10</text>
<text x="418.79" y="117.65" font-size="11.00" textLength="13.21" lengthAdjust="spacingAndGlyphs" fill="#262626">15</text>
<text x="432.32" y="195.85" font-size="11.00" textLength="6.12" lengthAdjust="spacingAndGlyphs" fill="#262626">0</text>
<text x="469.67" y="195.85" font-size="11.00" textLength="12.24" lengthAdjust="spacingAndGlyphs" fill="#262626">50</text>
<text x="507.22" y="195.85" font-size="11.00" textLength="18.35" lengthAdjust="spacingAndGlyphs" fill="#262626">100</text>
<text x="442.29" y="209.90" font-size="12.28" textLength="66.23" lengthAdjust="spacingAndGlyphs" fill="#262626">Image Rank</text>
<text x="0" y="0" font-size="12.30" textLength="85.46" lengthAdjust="spacingAndGlyphs" fill="#262626" transform="translate(416.40 182.48) rotate(-90)">Firing Rate [Hz]</text>
<path d="M436.5 99L537 90.1V126.6L436.5 116.4M514.4 176.7L536.8 142.1V178.6L516.6 180.8" stroke="#000" stroke-width="0.8" fill="none"/>
<rect x="537" y="90.1" width="112.29999999999995" height="36.5" fill="#979797"/>
<rect x="536.5" y="141.8" width="111.5" height="36.79999999999998" fill="#979797"/>
<ellipse cx="556" cy="109" rx="8" ry="7.5" fill="#8a8a8a" fill-opacity="1" transform="rotate(0 556 109)"/>
<path d="M560.9 114.2l-0.1 2.5M550.6 109.1l0.6 -2.2M557.1 109.7l-2.4 1.1M556.0 108.7l-0.3 -1.9M557.0 116.2l2.8 0.5M561.8 109.9l-2.1 2.0M557.1 113.8l0.2 1.0M550.8 111.0l0.2 1.5M557.1 114.0l1.6 0.2M559.1 104.2l0.9 2.1M563.4 108.7l-0.6 1.1M554.8 102.8l-2.5 1.4M559.2 103.6l-1.4 -0.8M561.4 104.4l-1.7 -1.1M559.8 109.8l-2.2 1.3M558.8 113.9l-1.1 -2.1M552.3 112.5l0.4 -2.0M551.0 108.4l1.9 0.4M562.5 110.7l-2.5 -1.6M553.4 110.9l2.0 -0.2M556.8 103.5l0.3 2.7M548.2 108.4l-2.1 0.5M555.3 114.5l2.9 0.1M557.5 102.4l-0.2 -2.8M558.1 104.0l-1.9 1.0M563.0 111.4l0.7 2.0M550.4 108.8l-1.0 1.4M549.9 107.6l-2.1 0.6M559.8 109.6l-1.2 -0.7M560.6 103.9l1.1 -2.4" stroke="#eee" stroke-width="0.9" stroke-opacity="1.0" fill="none" stroke-linecap="round"/>
<path d="M562.6 107.3l1.0 0.6M559.1 104.2l-0.8 2.2M551.7 105.9l1.2 1.8M552.0 110.7l2.4 -0.1M560.9 107.5l-0.2 1.9M557.1 109.2l-0.8 1.8M551.2 113.2l-1.9 -0.8M556.1 110.0l1.1 1.2M549.0 108.6l1.0 2.1M560.9 105.4l2.1 -1.4M556.5 103.2l1.7 -0.2M558.7 108.4l-0.5 -2.4M551.1 110.1l1.8 -0.9M549.6 109.0l1.3 -1.1M559.8 106.4l1.9 -1.0M555.2 104.5l-0.7 1.3M555.1 106.5l-0.3 2.8M559.3 107.1l-0.8 -2.8M551.0 108.9l-2.0 -1.2M554.8 111.7l1.9 -0.8M554.6 107.8l-0.4 -2.6M558.6 107.4l2.3 0.9M553.9 106.2l1.0 -1.0M560.0 111.9l0.1 2.7M557.6 114.9l-0.4 -1.8M560.1 109.8l-0.6 -1.2M561.9 112.2l-0.1 -1.0M559.5 109.4l1.4 2.2M558.4 113.9l1.7 0.5M558.7 108.8l-0.6 0.9" stroke="#222" stroke-width="1.0" stroke-opacity="1.0" fill="none" stroke-linecap="round"/>
<path d="M562 104l4 -2" stroke="#333" stroke-width="1"/>
<ellipse cx="594" cy="110" rx="10.5" ry="5.5" fill="#626262" fill-opacity="1" transform="rotate(35 594 110)"/>
<ellipse cx="584.5" cy="101.5" rx="3" ry="2" fill="#666" fill-opacity="1" transform="rotate(35 584.5 101.5)"/>
<path d="M592.3 113.3l-1.4 -1.1M593.0 108.2l0.5 -0.9M592.4 111.8l-2.9 0.6M598.6 109.6l1.3 1.8M591.0 103.6l-0.1 -2.0M593.7 108.4l-2.1 -1.4M593.1 110.4l-2.7 0.5M595.1 105.2l2.1 -1.2M586.6 108.2l1.7 -0.7M596.5 110.4l0.3 1.2M599.7 113.1l-0.7 2.1M589.0 106.3l-1.5 -0.9M588.7 103.3l2.1 -1.0M601.3 110.3l1.2 2.0M601.3 110.5l-2.5 -1.2M594.4 107.6l-2.4 -1.2M592.8 110.7l2.7 -0.2M598.9 116.3l1.1 1.5M589.6 112.1l2.6 0.8M593.1 108.5l-1.2 2.1M601.9 111.4l2.0 -0.0M592.4 110.5l2.2 0.4M594.0 113.7l1.2 1.8M600.7 116.2l1.6 -0.4M599.1 111.3l-1.9 -0.2M591.8 104.8l-1.5 -1.5M600.2 112.7l-0.3 -1.8M592.8 112.5l-2.9 -0.4M593.3 109.3l-1.6 -0.9M600.1 114.9l2.1 0.8" stroke="#333" stroke-width="0.8" stroke-opacity="1" fill="none" stroke-linecap="round"/>
<path d="M593.3 111.5l1.0 1.5M598.0 114.4l0.9 -2.7M595.7 108.3l-0.3 2.0M594.4 112.1l1.3 -0.6M599.8 109.2l0.9 2.4M589.5 111.3l1.5 -2.0M596.3 110.4l-1.0 -1.9M590.6 107.5l1.6 1.0M602.1 113.4l-0.7 2.0M600.4 112.0l1.6 -2.3M588.8 106.2l-2.0 0.9M595.0 113.6l2.5 0.7M599.6 115.3l-1.5 -0.3M589.0 107.1l1.0 2.8M590.2 108.8l-0.4 2.2" stroke="#bbb" stroke-width="0.7" stroke-opacity="1" fill="none" stroke-linecap="round"/>
<ellipse cx="630" cy="108.5" rx="7.5" ry="7.5" fill="#b0b0b0" fill-opacity="1" transform="rotate(0 630 108.5)"/>
<path d="M625.7 104.3l2.4 -0.9M629.6 101.8l-1.0 0.2M635.3 106.5l2.1 1.8M626.6 109.2l-1.9 -0.9M633.2 108.8l1.3 -0.8M630.3 105.7l1.7 2.0M628.2 106.8l0.7 -0.7M630.8 111.6l2.1 -2.1M628.3 115.2l-0.9 -1.9M631.9 115.0l2.3 -0.5M633.0 106.1l0.9 1.5M631.1 109.9l-1.3 -1.0M635.8 108.6l-0.6 1.6M632.0 104.1l-1.6 0.2M629.5 106.9l2.9 0.4M630.0 102.1l0.2 -1.0M626.4 112.5l1.0 0.3M632.9 114.7l0.1 -1.4M636.1 105.6l-1.0 1.3M623.9 107.5l-0.0 -1.2M631.9 102.3l1.0 -0.4M633.4 110.7l1.9 -1.1M626.4 114.2l-0.8 1.9M628.8 111.2l0.7 0.9M627.4 102.0l1.3 0.4" stroke="#eee" stroke-width="0.8" stroke-opacity="1.0" fill="none" stroke-linecap="round"/>
<path d="M631.7 102.4l-0.1 2.0M635.7 108.5l0.1 -1.9M625.7 112.9l0.5 -1.5M629.4 104.0l-0.9 -1.9M631.8 113.4l-0.3 2.6M631.9 103.0l-1.4 2.3M635.2 112.0l-2.5 0.9M632.6 110.2l-0.6 2.2M635.1 106.9l-0.8 -1.2M625.7 113.7l-2.8 -0.3M626.4 103.9l2.6 -0.4M634.1 109.2l-0.7 2.1" stroke="#555" stroke-width="0.7" stroke-opacity="1.0" fill="none" stroke-linecap="round"/>
<circle cx="630" cy="108.5" r="1.2" fill="none" stroke="#333" stroke-width="0.6"/>
<path d="M546 152l-4 -2M547 162l-3 7M549 165l-1 7M558 156l6 2l5 4M556 152l2 -4M560 152l4 -3M552 151l-1 -3" stroke="#ccc" stroke-width="0.7" fill="none"/>
<path d="M546 152l-4 -2M547 162l-3 7M549 165l-1 7M558 156l6 2l5 4M556 152l2 -4M560 152l4 -3M552 151l-1 -3" stroke="#444" stroke-width="0.5" fill="none" transform="translate(0.6 0.6)"/>
<ellipse cx="553" cy="157" rx="5" ry="5.5" fill="#3a3a3a" fill-opacity="1" transform="rotate(0 553 157)"/>
<ellipse cx="556" cy="164" rx="2.5" ry="2.2" fill="#333" fill-opacity="1" transform="rotate(0 556 164)"/>
<path d="M552.2 158.7l2.1 1.0M550.3 156.3l-1.1 -0.1M555.9 157.8l1.0 0.6M549.4 159.1l0.2 1.2M550.0 153.5l-1.7 1.3M554.0 156.8l-0.7 2.6M554.0 158.4l0.7 -1.5M554.4 160.5l-1.6 1.6M551.9 156.6l0.3 1.1M551.8 154.0l-1.4 -0.8M550.6 157.8l-0.8 -2.5M553.1 160.8l1.5 -1.4" stroke="#ddd" stroke-width="0.8" stroke-opacity="1.0" fill="none" stroke-linecap="round"/>
<path d="M586 159l-4 -6l-5 -2M586 159l-3 7l-5 3M590 159l2 -7l2 -3M590 159l3 8l2 3M593 159l6 -4l7 -3M593 159l7 5l4 3M596 159l8 -2" stroke="#2a2a2a" stroke-width="0.7" fill="none"/>
<path d="M586 159l-4 -6l-5 -2M586 159l-3 7l-5 3M590 159l2 -7l2 -3M590 159l3 8l2 3M593 159l6 -4l7 -3M593 159l7 5l4 3M596 159l8 -2" stroke="#ddd" stroke-width="0.4" fill="none" transform="translate(0.7 -0.7)"/>
<ellipse cx="586.5" cy="159" rx="4.5" ry="2" fill="#1e1e1e" fill-opacity="1" transform="rotate(0 586.5 159)"/>
<ellipse cx="593.5" cy="159" rx="3.5" ry="1.8" fill="#2a2a2a" fill-opacity="1" transform="rotate(0 593.5 159)"/>
<rect x="584" y="158.3" width="1" height="1.4" fill="#eee"/><rect x="587" y="158.3" width="1" height="1.4" fill="#eee"/>
<path d="M614.5 153.5q4 -3.5 10 -1.5q9 4 14 10q4 5 7 8.5q-5 -1 -11 -4q-9 -4 -15 -7q-5 -3 -5 -6z" fill="#747474"/>
<path d="M625.9 161.8l-0.4 -1.2M629.7 161.5l0.8 2.9M622.7 154.8l-1.9 0.1M627.8 162.5l0.1 1.2M630.8 161.5l1.5 -1.0M623.3 157.8l1.5 -0.1M632.5 163.3l-0.9 -1.5M620.8 157.9l-1.2 -1.6M632.6 160.8l1.2 0.5M632.6 161.5l1.3 -0.5M619.5 153.3l-0.6 2.7M619.4 157.2l0.1 -1.3M631.8 163.5l2.3 -0.7M630.6 159.1l0.8 1.1M619.5 154.3l0.9 -0.7M618.1 153.8l0.1 1.4M631.5 161.8l-1.4 0.7M618.8 156.6l1.3 2.5M622.5 157.4l2.3 -0.4M627.2 162.1l1.6 0.1M627.4 157.3l-1.2 0.5M625.7 160.6l-1.6 0.9M622.1 155.3l1.0 0.6M630.7 162.8l0.6 -1.6M618.0 153.8l2.7 1.1M629.5 160.7l-1.6 -0.8" stroke="#4a4a4a" stroke-width="0.6" stroke-opacity="1" fill="none" stroke-linecap="round"/>
<path d="M620.1 155.6l0.9 -0.9M632.7 162.5l2.4 1.4M619.3 153.7l-0.8 0.7M625.1 155.8l1.3 2.0M625.7 159.5l1.8 -0.9M619.6 153.2l-0.0 -1.8M629.6 161.7l-0.4 -2.3M623.3 157.4l0.4 1.5" stroke="#b0b0b0" stroke-width="0.5" stroke-opacity="1" fill="none" stroke-linecap="round"/>
<text x="13.43" y="250.00" font-size="20.28" textLength="13.47" lengthAdjust="spacingAndGlyphs" fill="#000">d</text>
<text x="86.50" y="250.60" font-size="13.92" textLength="38.42" lengthAdjust="spacingAndGlyphs" fill="#000">Shape</text>
<text x="64.53" y="268.80" font-size="13.35" textLength="82.13" lengthAdjust="spacingAndGlyphs" fill="#000">Compactness</text>
<text x="251.10" y="250.60" font-size="13.92" textLength="38.42" lengthAdjust="spacingAndGlyphs" fill="#000">Shape</text>
<text x="234.39" y="268.80" font-size="14.34" textLength="71.25" lengthAdjust="spacingAndGlyphs" fill="#000">Eccentricity</text>
<text x="420.02" y="250.20" font-size="12.78" textLength="46.51" lengthAdjust="spacingAndGlyphs" fill="#000">Texture</text>
<text x="383.57" y="268.80" font-size="14.27" textLength="118.95" lengthAdjust="spacingAndGlyphs" fill="#000">Standard Deviation</text>
<text x="567.84" y="260.00" font-size="13.63" textLength="94.68" lengthAdjust="spacingAndGlyphs" fill="#000">Image Intensity</text>
<text x="0" y="0" font-size="14.29" textLength="99.26" lengthAdjust="spacingAndGlyphs" fill="#262626" transform="translate(11.60 383.14) rotate(-90)">Firing Rate [Hz]</text>
<text x="0" y="0" font-size="15.01" textLength="69.98" lengthAdjust="spacingAndGlyphs" fill="#262626" transform="translate(29.20 368.78) rotate(-90)">mean <tspan fill="#8c8c8c">&#177;</tspan> se</text>
<path d="M53.3 282.3V384.5H158.2" stroke="#c8c8c8" fill="none" stroke-width="0.9"/>
<rect x="58.9" y="290.2" width="8.8" height="94.3" fill="#4cb0fa" stroke="#3a6f99" stroke-width="0.6"/>
<line x1="63.3" y1="287.2" x2="63.3" y2="293.3" stroke="#111" stroke-width="1.6"/>
<rect x="80.0" y="307.0" width="8.8" height="77.5" fill="#4cb0fa" stroke="#3a6f99" stroke-width="0.6"/>
<line x1="84.4" y1="303.5" x2="84.4" y2="310.5" stroke="#111" stroke-width="1.6"/>
<rect x="101.1" y="307.0" width="8.8" height="77.5" fill="#4cb0fa" stroke="#3a6f99" stroke-width="0.6"/>
<line x1="105.5" y1="303.0" x2="105.5" y2="311.0" stroke="#111" stroke-width="1.6"/>
<rect x="122.1" y="321.7" width="8.8" height="62.8" fill="#4cb0fa" stroke="#3a6f99" stroke-width="0.6"/>
<line x1="126.5" y1="319.0" x2="126.5" y2="324.5" stroke="#111" stroke-width="1.6"/>
<rect x="143.2" y="357.7" width="8.8" height="26.8" fill="#4cb0fa" stroke="#3a6f99" stroke-width="0.6"/>
<line x1="147.6" y1="355.0" x2="147.6" y2="360.5" stroke="#111" stroke-width="1.6"/>
<text x="34.28" y="297.80" font-size="12.00" textLength="14.68" lengthAdjust="spacingAndGlyphs" fill="#262626">13</text>
<text x="41.08" y="389.98" font-size="12.80" textLength="7.83" lengthAdjust="spacingAndGlyphs" fill="#262626">0</text>
<rect x="45.7" y="394.8" width="125.50000000000001" height="26.400000000000023" fill="#4b4b4b" stroke="#111" stroke-width="1.2"/>
<circle cx="58.4" cy="408.0" r="3.3" fill="#d2d2d2"/>
<g fill="#d2d2d2"><ellipse cx="83.1" cy="409.2" rx="4.2" ry="2.1"/><ellipse cx="83.3" cy="406.0" rx="1.4" ry="2.1"/><circle cx="80.5" cy="410.0" r="1.8"/></g>
<path d="M102.6 407.5Q105.8 406.8 106.7 403.8Q108.3 408.0 112.5 408.5Q108.8 409.3 109.4 414.0Q107.5 409.3 102.6 407.5z" fill="#d2d2d2"/>
<path d="M131.9 408.0l4.6 0.1M131.9 408.0l4.7 1.4M131.9 408.0l4.3 2.3M131.9 408.0l3.6 2.3M131.9 408.0l2.5 3.8M131.9 408.0l1.4 3.5M131.9 408.0l0.9 3.8M131.9 408.0l-0.0 4.4M131.9 408.0l-0.5 3.9M131.9 408.0l-1.9 4.5M131.9 408.0l-2.5 2.9M131.9 408.0l-3.1 2.2M131.9 408.0l-3.4 1.6M131.9 408.0l-4.6 1.5M131.9 408.0l-3.9 0.2M131.9 408.0l-4.6 -1.5M131.9 408.0l-4.5 -2.0M131.9 408.0l-3.5 -2.9M131.9 408.0l-3.3 -3.7M131.9 408.0l-2.0 -4.5M131.9 408.0l-0.6 -4.0M131.9 408.0l-0.1 -3.8M131.9 408.0l0.6 -3.6M131.9 408.0l1.8 -4.1M131.9 408.0l2.5 -3.8M131.9 408.0l3.1 -2.6M131.9 408.0l4.0 -1.6M131.9 408.0l4.1 -1.1" stroke="#9a9a9a" stroke-width="0.7"/><circle cx="131.9" cy="408.0" r="3.4" fill="url(#fz)"/>
<path d="M156.4 408.0l4.8 0.2M156.4 408.0l4.3 1.8M156.4 408.0l7.0 5.1M156.4 408.0l6.2 5.7M156.4 408.0l3.3 6.6M156.4 408.0l1.2 4.6M156.4 408.0l-0.6 9.3M156.4 408.0l-2.9 7.8M156.4 408.0l-6.7 6.3M156.4 408.0l-5.1 3.6M156.4 408.0l-8.1 2.3M156.4 408.0l-8.2 0.8M156.4 408.0l-8.2 -3.1M156.4 408.0l-8.3 -4.1M156.4 408.0l-4.5 -4.3M156.4 408.0l-3.6 -8.4M156.4 408.0l-1.6 -9.0M156.4 408.0l0.9 -6.0M156.4 408.0l2.0 -5.0M156.4 408.0l3.0 -4.3M156.4 408.0l8.2 -4.8M156.4 408.0l4.4 -1.7" stroke="#a0a0a0" stroke-width="0.5"/><circle cx="156.4" cy="408.0" r="2.6" fill="url(#fz)"/>
<path d="M218.8 282.3V384.5H324" stroke="#a0a0a0" fill="none" stroke-width="0.9"/>
<rect x="225.2" y="290.2" width="8.8" height="94.3" fill="#4cb0fa" stroke="#3a6f99" stroke-width="0.6"/>
<line x1="229.6" y1="287.2" x2="229.6" y2="293.3" stroke="#111" stroke-width="1.6"/>
<rect x="246.2" y="298.6" width="8.8" height="85.9" fill="#4cb0fa" stroke="#3a6f99" stroke-width="0.6"/>
<line x1="250.6" y1="295.5" x2="250.6" y2="302.0" stroke="#111" stroke-width="1.6"/>
<rect x="267.2" y="314.3" width="8.8" height="70.2" fill="#4cb0fa" stroke="#3a6f99" stroke-width="0.6"/>
<line x1="271.6" y1="310.5" x2="271.6" y2="318.0" stroke="#111" stroke-width="1.6"/>
<rect x="288.2" y="339.3" width="8.8" height="45.2" fill="#4cb0fa" stroke="#3a6f99" stroke-width="0.6"/>
<line x1="292.6" y1="336.5" x2="292.6" y2="342.5" stroke="#111" stroke-width="1.6"/>
<rect x="309.2" y="338.0" width="8.8" height="46.5" fill="#4cb0fa" stroke="#3a6f99" stroke-width="0.6"/>
<line x1="313.6" y1="334.5" x2="313.6" y2="342.0" stroke="#111" stroke-width="1.6"/>
<text x="196.07" y="299.46" font-size="15.60" textLength="18.22" lengthAdjust="spacingAndGlyphs" fill="#262626">13</text>
<text x="205.08" y="390.86" font-size="15.60" textLength="9.11" lengthAdjust="spacingAndGlyphs" fill="#262626">0</text>
<rect x="212.1" y="394.90000000000003" width="125.49999999999999" height="25.8" fill="#4b4b4b" stroke="#111" stroke-width="1.2"/>
<ellipse cx="225.0" cy="407.8" rx="3.1" ry="3.1" fill="#d0d0d0"/>
<ellipse cx="249.9" cy="407.8" rx="4.1" ry="2.3" fill="#d0d0d0"/>
<ellipse cx="274.9" cy="407.8" rx="5.5" ry="1.9" fill="#d0d0d0"/>
<ellipse cx="299.9" cy="407.8" rx="6.8" ry="1.5" fill="#d0d0d0"/>
<ellipse cx="324.8" cy="407.8" rx="7.5" ry="1.4" fill="#d0d0d0"/>
<path d="M384.7 282.3V384.5H489.8" stroke="#a0a0a0" fill="none" stroke-width="0.9"/>
<rect x="391.0" y="354.5" width="8.8" height="30.0" fill="#4cb0fa" stroke="#3a6f99" stroke-width="0.6"/>
<line x1="395.4" y1="349.3" x2="395.4" y2="360.3" stroke="#111" stroke-width="1.6"/>
<rect x="412.0" y="343.8" width="8.8" height="40.7" fill="#4cb0fa" stroke="#3a6f99" stroke-width="0.6"/>
<line x1="416.4" y1="337.7" x2="416.4" y2="349.8" stroke="#111" stroke-width="1.6"/>
<rect x="433.0" y="348.0" width="8.8" height="36.5" fill="#4cb0fa" stroke="#3a6f99" stroke-width="0.6"/>
<line x1="437.4" y1="343.8" x2="437.4" y2="352.4" stroke="#111" stroke-width="1.6"/>
<rect x="454.0" y="346.7" width="8.8" height="37.8" fill="#4cb0fa" stroke="#3a6f99" stroke-width="0.6"/>
<line x1="458.4" y1="339.3" x2="458.4" y2="354.3" stroke="#111" stroke-width="1.6"/>
<rect x="475.0" y="351.4" width="8.8" height="33.1" fill="#4cb0fa" stroke="#3a6f99" stroke-width="0.6"/>
<line x1="479.4" y1="345.0" x2="479.4" y2="357.7" stroke="#111" stroke-width="1.6"/>
<text x="370.46" y="349.26" font-size="15.60" textLength="9.11" lengthAdjust="spacingAndGlyphs" fill="#262626">6</text>
<text x="370.38" y="390.36" font-size="15.60" textLength="9.11" lengthAdjust="spacingAndGlyphs" fill="#262626">0</text>
<rect x="381.5" y="396.1" width="125.50000000000004" height="26.199999999999978" fill="#4b4b4b" stroke="#111" stroke-width="1.2"/>
<path d="M387 402.5h1M390 402.5h1M391 402.5h1M392 402.5h1M393 402.5h1M396 402.5h1M397 402.5h1M398 402.5h1M388 403.5h1M393 403.5h1M396 403.5h1M397 403.5h1M399 403.5h1M401 403.5h1M387 404.5h1M390 404.5h1M391 404.5h1M393 404.5h1M395 404.5h1M396 404.5h1M397 404.5h1M398 404.5h1M399 404.5h1M400 404.5h1M402 404.5h1M387 405.5h1M388 405.5h1M392 405.5h1M393 405.5h1M397 405.5h1M398 405.5h1M389 406.5h1M394 406.5h1M397 406.5h1M399 406.5h1M402 406.5h1M387 407.5h1M391 407.5h1M392 407.5h1M395 407.5h1M399 407.5h1M402 407.5h1M387 408.5h1M388 408.5h1M389 408.5h1M390 408.5h1M393 408.5h1M394 408.5h1M396 408.5h1M398 408.5h1M399 408.5h1M401 408.5h1M402 408.5h1M388 409.5h1M389 409.5h1M390 409.5h1M395 409.5h1M396 409.5h1M397 409.5h1M400 409.5h1M387 410.5h1M388 410.5h1M389 410.5h1M390 410.5h1M393 410.5h1M395 410.5h1M396 410.5h1M397 410.5h1M398 410.5h1M399 410.5h1M400 410.5h1M401 410.5h1M402 410.5h1M388 411.5h1M393 411.5h1M394 411.5h1M395 411.5h1M398 411.5h1M400 411.5h1M388 412.5h1M389 412.5h1M390 412.5h1M391 412.5h1M393 412.5h1M402 412.5h1M388 413.5h1M389 413.5h1M396 413.5h1M400 413.5h1M401 413.5h1M389 414.5h1M390 414.5h1M392 414.5h1M394 414.5h1M396 414.5h1M397 414.5h1M398 414.5h1M400 414.5h1M401 414.5h1M402 414.5h1M387 415.5h1M390 415.5h1M391 415.5h1M393 415.5h1M397 415.5h1M399 415.5h1M400 415.5h1M402 415.5h1M388 416.5h1M389 416.5h1M390 416.5h1M391 416.5h1M394 416.5h1M397 416.5h1M399 416.5h1M401 416.5h1M390 417.5h1M395 417.5h1M396 417.5h1M397 417.5h1M399 417.5h1" stroke="rgb(126,126,126)" stroke-width="1"/>
<path d="M388 402.5h1M389 402.5h1M394 402.5h1M395 402.5h1M399 402.5h1M400 402.5h1M401 402.5h1M402 402.5h1M387 403.5h1M389 403.5h1M390 403.5h1M391 403.5h1M392 403.5h1M394 403.5h1M395 403.5h1M398 403.5h1M400 403.5h1M402 403.5h1M388 404.5h1M389 404.5h1M392 404.5h1M394 404.5h1M401 404.5h1M389 405.5h1M390 405.5h1M391 405.5h1M394 405.5h1M395 405.5h1M396 405.5h1M399 405.5h1M400 405.5h1M401 405.5h1M402 405.5h1M387 406.5h1M388 406.5h1M390 406.5h1M391 406.5h1M392 406.5h1M393 406.5h1M395 406.5h1M396 406.5h1M398 406.5h1M400 406.5h1M401 406.5h1M388 407.5h1M389 407.5h1M390 407.5h1M393 407.5h1M394 407.5h1M396 407.5h1M397 407.5h1M398 407.5h1M400 407.5h1M401 407.5h1M391 408.5h1M392 408.5h1M395 408.5h1M397 408.5h1M400 408.5h1M387 409.5h1M391 409.5h1M392 409.5h1M393 409.5h1M394 409.5h1M398 409.5h1M399 409.5h1M401 409.5h1M402 409.5h1M391 410.5h1M392 410.5h1M394 410.5h1M387 411.5h1M389 411.5h1M390 411.5h1M391 411.5h1M392 411.5h1M396 411.5h1M397 411.5h1M399 411.5h1M401 411.5h1M402 411.5h1M387 412.5h1M392 412.5h1M394 412.5h1M395 412.5h1M396 412.5h1M397 412.5h1M398 412.5h1M399 412.5h1M400 412.5h1M401 412.5h1M387 413.5h1M390 413.5h1M391 413.5h1M392 413.5h1M393 413.5h1M394 413.5h1M395 413.5h1M397 413.5h1M398 413.5h1M399 413.5h1M402 413.5h1M387 414.5h1M388 414.5h1M391 414.5h1M393 414.5h1M395 414.5h1M399 414.5h1M388 415.5h1M389 415.5h1M392 415.5h1M394 415.5h1M395 415.5h1M396 415.5h1M398 415.5h1M401 415.5h1M387 416.5h1M392 416.5h1M393 416.5h1M395 416.5h1M396 416.5h1M398 416.5h1M400 416.5h1M402 416.5h1M387 417.5h1M388 417.5h1M389 417.5h1M391 417.5h1M392 417.5h1M393 417.5h1M394 417.5h1M398 417.5h1M400 417.5h1M401 417.5h1M402 417.5h1" stroke="rgb(138,138,138)" stroke-width="1"/>
<path d="M412 403.5h1M419 403.5h1M421 406.5h1M412 407.5h1M426 409.5h1M427 409.5h1M414 410.5h1M414 412.5h1M427 416.5h1" stroke="rgb(114,114,114)" stroke-width="1"/>
<path d="M415 402.5h1M424 402.5h1M414 403.5h1M420 403.5h1M415 404.5h1M420 404.5h1M423 404.5h1M418 405.5h1M422 405.5h1M413 406.5h1M415 406.5h1M416 406.5h1M422 406.5h1M413 407.5h1M420 407.5h1M426 407.5h1M417 408.5h1M418 408.5h1M423 408.5h1M425 408.5h1M412 409.5h1M413 409.5h1M417 409.5h1M420 409.5h1M413 410.5h1M416 410.5h1M421 410.5h1M427 410.5h1M412 411.5h1M413 411.5h1M417 411.5h1M419 411.5h1M420 411.5h1M420 412.5h1M423 412.5h1M425 412.5h1M412 413.5h1M418 413.5h1M419 413.5h1M422 413.5h1M425 413.5h1M413 414.5h1M416 414.5h1M418 414.5h1M419 414.5h1M420 414.5h1M421 414.5h1M422 414.5h1M425 414.5h1M427 414.5h1M414 415.5h1M417 415.5h1M418 415.5h1M424 415.5h1M415 416.5h1M424 416.5h1M425 416.5h1M416 417.5h1M418 417.5h1M419 417.5h1M421 417.5h1" stroke="rgb(126,126,126)" stroke-width="1"/>
<path d="M412 402.5h1M413 402.5h1M414 402.5h1M416 402.5h1M417 402.5h1M418 402.5h1M420 402.5h1M421 402.5h1M422 402.5h1M423 402.5h1M425 402.5h1M426 402.5h1M427 402.5h1M413 403.5h1M416 403.5h1M417 403.5h1M418 403.5h1M422 403.5h1M423 403.5h1M424 403.5h1M425 403.5h1M412 404.5h1M413 404.5h1M416 404.5h1M417 404.5h1M418 404.5h1M419 404.5h1M421 404.5h1M422 404.5h1M425 404.5h1M426 404.5h1M427 404.5h1M412 405.5h1M414 405.5h1M415 405.5h1M416 405.5h1M417 405.5h1M420 405.5h1M421 405.5h1M423 405.5h1M424 405.5h1M425 405.5h1M426 405.5h1M412 406.5h1M414 406.5h1M418 406.5h1M419 406.5h1M423 406.5h1M424 406.5h1M425 406.5h1M427 406.5h1M414 407.5h1M415 407.5h1M416 407.5h1M417 407.5h1M419 407.5h1M421 407.5h1M424 407.5h1M425 407.5h1M427 407.5h1M412 408.5h1M414 408.5h1M419 408.5h1M420 408.5h1M421 408.5h1M422 408.5h1M424 408.5h1M426 408.5h1M414 409.5h1M415 409.5h1M416 409.5h1M418 409.5h1M422 409.5h1M423 409.5h1M424 409.5h1M425 409.5h1M412 410.5h1M415 410.5h1M418 410.5h1M420 410.5h1M422 410.5h1M423 410.5h1M424 410.5h1M425 410.5h1M414 411.5h1M418 411.5h1M421 411.5h1M422 411.5h1M423 411.5h1M425 411.5h1M426 411.5h1M412 412.5h1M413 412.5h1M415 412.5h1M416 412.5h1M417 412.5h1M418 412.5h1M421 412.5h1M422 412.5h1M424 412.5h1M426 412.5h1M413 413.5h1M414 413.5h1M415 413.5h1M416 413.5h1M417 413.5h1M420 413.5h1M421 413.5h1M423 413.5h1M424 413.5h1M426 413.5h1M427 413.5h1M412 414.5h1M414 414.5h1M415 414.5h1M417 414.5h1M424 414.5h1M426 414.5h1M412 415.5h1M413 415.5h1M415 415.5h1M416 415.5h1M419 415.5h1M420 415.5h1M421 415.5h1M423 415.5h1M426 415.5h1M427 415.5h1M412 416.5h1M413 416.5h1M414 416.5h1M416 416.5h1M417 416.5h1M418 416.5h1M420 416.5h1M421 416.5h1M422 416.5h1M423 416.5h1M412 417.5h1M413 417.5h1M414 417.5h1M415 417.5h1M417 417.5h1M420 417.5h1M423 417.5h1M424 417.5h1M426 417.5h1M427 417.5h1" stroke="rgb(138,138,138)" stroke-width="1"/>
<path d="M419 402.5h1M415 403.5h1M421 403.5h1M427 403.5h1M414 404.5h1M424 404.5h1M413 405.5h1M419 405.5h1M427 405.5h1M417 406.5h1M420 406.5h1M426 406.5h1M418 407.5h1M422 407.5h1M423 407.5h1M413 408.5h1M415 408.5h1M416 408.5h1M427 408.5h1M419 409.5h1M421 409.5h1M417 410.5h1M419 410.5h1M426 410.5h1M415 411.5h1M416 411.5h1M424 411.5h1M427 411.5h1M419 412.5h1M427 412.5h1M423 414.5h1M422 415.5h1M425 415.5h1M419 416.5h1M426 416.5h1M422 417.5h1M425 417.5h1" stroke="rgb(150,150,150)" stroke-width="1"/>
<path d="M426 403.5h1" stroke="rgb(162,162,162)" stroke-width="1"/>
<path d="M440 403.5h1M447 403.5h1M443 404.5h1M439 414.5h1M448 416.5h1" stroke="rgb(102,102,102)" stroke-width="1"/>
<path d="M450 402.5h1M442 403.5h1M444 403.5h1M449 403.5h1M437 404.5h1M439 405.5h1M449 406.5h1M439 408.5h1M445 408.5h1M447 408.5h1M450 409.5h1M438 410.5h1M442 410.5h1M449 410.5h1M439 412.5h1M443 413.5h1M438 414.5h1M440 415.5h1M447 415.5h1M436 416.5h1M438 416.5h1M446 416.5h1" stroke="rgb(114,114,114)" stroke-width="1"/>
<path d="M438 402.5h1M439 402.5h1M440 402.5h1M441 402.5h1M442 402.5h1M443 402.5h1M444 402.5h1M446 402.5h1M447 402.5h1M436 403.5h1M438 403.5h1M439 404.5h1M441 404.5h1M447 404.5h1M448 404.5h1M449 404.5h1M451 404.5h1M443 405.5h1M445 405.5h1M436 406.5h1M442 406.5h1M445 406.5h1M446 406.5h1M444 407.5h1M448 407.5h1M449 407.5h1M450 407.5h1M438 409.5h1M442 409.5h1M444 409.5h1M445 409.5h1M448 409.5h1M449 409.5h1M445 410.5h1M437 411.5h1M438 411.5h1M441 411.5h1M445 411.5h1M438 412.5h1M443 412.5h1M448 412.5h1M451 412.5h1M440 413.5h1M441 413.5h1M446 413.5h1M448 413.5h1M449 413.5h1M446 414.5h1M447 414.5h1M449 414.5h1M437 415.5h1M441 415.5h1M450 415.5h1M437 416.5h1M439 416.5h1M442 416.5h1M445 416.5h1M436 417.5h1M437 417.5h1M441 417.5h1M442 417.5h1M446 417.5h1M447 417.5h1M451 417.5h1" stroke="rgb(126,126,126)" stroke-width="1"/>
<path d="M437 402.5h1M448 402.5h1M451 402.5h1M439 403.5h1M441 403.5h1M443 403.5h1M445 403.5h1M446 403.5h1M448 403.5h1M436 404.5h1M438 404.5h1M442 404.5h1M450 404.5h1M437 405.5h1M440 405.5h1M442 405.5h1M450 405.5h1M451 405.5h1M437 406.5h1M438 406.5h1M439 406.5h1M443 406.5h1M444 406.5h1M447 406.5h1M450 406.5h1M451 406.5h1M440 407.5h1M441 407.5h1M445 407.5h1M446 407.5h1M451 407.5h1M436 408.5h1M440 408.5h1M441 408.5h1M443 408.5h1M444 408.5h1M448 408.5h1M451 408.5h1M439 409.5h1M446 409.5h1M439 410.5h1M440 410.5h1M446 410.5h1M447 410.5h1M436 411.5h1M439 411.5h1M440 411.5h1M442 411.5h1M443 411.5h1M444 411.5h1M446 411.5h1M447 411.5h1M449 411.5h1M450 411.5h1M444 412.5h1M445 412.5h1M449 412.5h1M450 412.5h1M437 413.5h1M442 413.5h1M444 413.5h1M437 414.5h1M441 414.5h1M442 414.5h1M445 414.5h1M438 415.5h1M444 415.5h1M445 415.5h1M448 415.5h1M443 416.5h1M449 416.5h1M450 416.5h1M440 417.5h1M443 417.5h1M444 417.5h1M445 417.5h1M449 417.5h1" stroke="rgb(138,138,138)" stroke-width="1"/>
<path d="M436 402.5h1M445 402.5h1M449 402.5h1M437 403.5h1M450 403.5h1M440 404.5h1M445 404.5h1M446 404.5h1M436 405.5h1M441 405.5h1M444 405.5h1M446 405.5h1M448 405.5h1M449 405.5h1M440 406.5h1M448 406.5h1M436 407.5h1M437 407.5h1M438 407.5h1M439 407.5h1M447 407.5h1M437 408.5h1M442 408.5h1M446 408.5h1M450 408.5h1M437 409.5h1M441 409.5h1M447 409.5h1M451 409.5h1M436 410.5h1M437 410.5h1M441 410.5h1M443 410.5h1M444 410.5h1M448 410.5h1M451 410.5h1M448 411.5h1M436 412.5h1M440 412.5h1M441 412.5h1M436 413.5h1M438 413.5h1M439 413.5h1M445 413.5h1M450 413.5h1M436 414.5h1M440 414.5h1M443 414.5h1M451 414.5h1M436 415.5h1M439 415.5h1M443 415.5h1M446 415.5h1M449 415.5h1M451 415.5h1M440 416.5h1M451 416.5h1M438 417.5h1M439 417.5h1M448 417.5h1M450 417.5h1" stroke="rgb(150,150,150)" stroke-width="1"/>
<path d="M451 403.5h1M444 404.5h1M438 405.5h1M447 405.5h1M441 406.5h1M442 407.5h1M438 408.5h1M449 408.5h1M436 409.5h1M440 409.5h1M437 412.5h1M442 412.5h1M447 412.5h1M447 413.5h1M451 413.5h1M448 414.5h1M442 415.5h1M441 416.5h1M444 416.5h1" stroke="rgb(162,162,162)" stroke-width="1"/>
<path d="M443 407.5h1M450 410.5h1M451 411.5h1M446 412.5h1M444 414.5h1" stroke="rgb(174,174,174)" stroke-width="1"/>
<path d="M443 409.5h1M450 414.5h1M447 416.5h1" stroke="rgb(186,186,186)" stroke-width="1"/>
<path d="M471 404.5h1M470 412.5h1M468 416.5h1" stroke="rgb(78,78,78)" stroke-width="1"/>
<path d="M473 402.5h1M466 410.5h1M467 410.5h1M468 410.5h1M471 413.5h1M466 417.5h1" stroke="rgb(90,90,90)" stroke-width="1"/>
<path d="M469 404.5h1M463 405.5h1M471 405.5h1M464 406.5h1M473 406.5h1M462 407.5h1M464 410.5h1M466 411.5h1M465 412.5h1M472 412.5h1M465 413.5h1M470 413.5h1M468 415.5h1M463 416.5h1M463 417.5h1M475 417.5h1" stroke="rgb(102,102,102)" stroke-width="1"/>
<path d="M462 403.5h1M469 403.5h1M476 403.5h1M462 404.5h1M476 404.5h1M461 405.5h1M464 405.5h1M476 405.5h1M461 406.5h1M463 406.5h1M473 407.5h1M474 407.5h1M461 408.5h1M462 408.5h1M465 408.5h1M470 408.5h1M474 408.5h1M464 409.5h1M465 409.5h1M466 409.5h1M468 409.5h1M470 409.5h1M469 411.5h1M475 412.5h1M461 413.5h1M462 413.5h1M467 416.5h1M470 416.5h1M472 416.5h1M461 417.5h1M470 417.5h1" stroke="rgb(114,114,114)" stroke-width="1"/>
<path d="M466 402.5h1M468 403.5h1M472 403.5h1M475 403.5h1M470 404.5h1M473 404.5h1M462 405.5h1M468 405.5h1M470 405.5h1M473 405.5h1M475 405.5h1M462 406.5h1M467 406.5h1M475 406.5h1M465 407.5h1M466 407.5h1M469 407.5h1M471 407.5h1M463 408.5h1M464 408.5h1M467 408.5h1M471 408.5h1M475 408.5h1M462 409.5h1M463 409.5h1M469 410.5h1M464 414.5h1M465 414.5h1M470 414.5h1M471 414.5h1M461 415.5h1M476 415.5h1M465 416.5h1M466 416.5h1M471 416.5h1M464 417.5h1M465 417.5h1M469 417.5h1M472 417.5h1M476 417.5h1" stroke="rgb(126,126,126)" stroke-width="1"/>
<path d="M464 402.5h1M468 402.5h1M469 402.5h1M474 402.5h1M476 402.5h1M463 403.5h1M473 403.5h1M466 404.5h1M468 404.5h1M472 404.5h1M474 404.5h1M469 405.5h1M466 406.5h1M468 406.5h1M469 406.5h1M470 406.5h1M471 406.5h1M472 406.5h1M461 407.5h1M464 407.5h1M472 407.5h1M475 407.5h1M466 408.5h1M469 408.5h1M469 409.5h1M473 409.5h1M474 409.5h1M475 409.5h1M476 409.5h1M462 410.5h1M476 410.5h1M470 411.5h1M473 411.5h1M474 411.5h1M471 412.5h1M473 412.5h1M472 413.5h1M474 413.5h1M475 413.5h1M476 413.5h1M467 414.5h1M472 414.5h1M474 414.5h1M475 414.5h1M462 415.5h1M463 415.5h1M467 415.5h1M475 415.5h1M462 416.5h1M474 416.5h1M475 416.5h1M471 417.5h1M474 417.5h1" stroke="rgb(138,138,138)" stroke-width="1"/>
<path d="M461 402.5h1M462 402.5h1M463 402.5h1M472 402.5h1M475 402.5h1M466 403.5h1M461 404.5h1M463 404.5h1M467 404.5h1M465 405.5h1M466 405.5h1M474 406.5h1M463 407.5h1M467 407.5h1M468 408.5h1M473 408.5h1M461 410.5h1M463 410.5h1M465 410.5h1M470 410.5h1M472 410.5h1M473 410.5h1M475 410.5h1M464 411.5h1M465 411.5h1M468 411.5h1M472 411.5h1M462 412.5h1M466 412.5h1M469 413.5h1M461 414.5h1M462 414.5h1M466 414.5h1M468 414.5h1M469 414.5h1M473 414.5h1M476 414.5h1M466 415.5h1M474 415.5h1M462 417.5h1M468 417.5h1" stroke="rgb(150,150,150)" stroke-width="1"/>
<path d="M465 402.5h1M467 402.5h1M471 402.5h1M464 403.5h1M467 403.5h1M470 403.5h1M474 403.5h1M465 404.5h1M475 404.5h1M472 405.5h1M474 405.5h1M476 406.5h1M470 407.5h1M476 408.5h1M467 409.5h1M471 410.5h1M474 410.5h1M462 411.5h1M467 411.5h1M471 411.5h1M468 412.5h1M469 412.5h1M474 412.5h1M476 412.5h1M464 413.5h1M473 413.5h1M463 414.5h1M469 415.5h1M461 416.5h1M473 417.5h1" stroke="rgb(162,162,162)" stroke-width="1"/>
<path d="M461 403.5h1M465 406.5h1M476 407.5h1M472 408.5h1M461 409.5h1M471 409.5h1M461 411.5h1M475 411.5h1M476 411.5h1M461 412.5h1M464 412.5h1M463 413.5h1M466 413.5h1M471 415.5h1M473 415.5h1M469 416.5h1M473 416.5h1M476 416.5h1" stroke="rgb(174,174,174)" stroke-width="1"/>
<path d="M470 402.5h1M465 403.5h1M471 403.5h1M467 405.5h1M468 407.5h1M472 409.5h1M463 411.5h1M463 412.5h1M464 415.5h1M465 415.5h1M470 415.5h1M472 415.5h1M464 416.5h1M467 417.5h1" stroke="rgb(186,186,186)" stroke-width="1"/>
<path d="M464 404.5h1M467 412.5h1" stroke="rgb(198,198,198)" stroke-width="1"/>
<path d="M467 413.5h1M468 413.5h1" stroke="rgb(210,210,210)" stroke-width="1"/>
<path d="M486 405.5h1M496 413.5h1" stroke="rgb(54,54,54)" stroke-width="1"/>
<path d="M487 405.5h1M499 406.5h1M489 414.5h1" stroke="rgb(66,66,66)" stroke-width="1"/>
<path d="M495 402.5h1M487 404.5h1M498 406.5h1M494 408.5h1M494 409.5h1M495 413.5h1M489 415.5h1M495 417.5h1" stroke="rgb(78,78,78)" stroke-width="1"/>
<path d="M496 402.5h1M496 405.5h1M486 406.5h1M489 406.5h1M487 413.5h1M491 414.5h1M494 416.5h1M495 416.5h1M500 416.5h1M496 417.5h1" stroke="rgb(90,90,90)" stroke-width="1"/>
<path d="M497 404.5h1M494 405.5h1M495 405.5h1M497 405.5h1M497 406.5h1M488 407.5h1M489 407.5h1M493 408.5h1M488 409.5h1M489 409.5h1M495 409.5h1M497 409.5h1M499 410.5h1M486 411.5h1M486 412.5h1M490 412.5h1M486 413.5h1M491 413.5h1M496 414.5h1M494 415.5h1M498 415.5h1M501 415.5h1M490 417.5h1" stroke="rgb(102,102,102)" stroke-width="1"/>
<path d="M487 402.5h1M489 402.5h1M492 402.5h1M494 402.5h1M497 402.5h1M498 402.5h1M501 402.5h1M487 403.5h1M489 403.5h1M490 403.5h1M495 403.5h1M496 403.5h1M497 403.5h1M498 403.5h1M489 404.5h1M501 405.5h1M493 406.5h1M496 406.5h1M495 408.5h1M501 408.5h1M491 410.5h1M497 410.5h1M496 412.5h1M488 413.5h1M494 413.5h1M490 415.5h1M490 416.5h1M491 416.5h1M501 416.5h1" stroke="rgb(114,114,114)" stroke-width="1"/>
<path d="M499 402.5h1M500 402.5h1M501 403.5h1M486 404.5h1M493 404.5h1M495 404.5h1M501 404.5h1M488 406.5h1M490 406.5h1M494 406.5h1M499 407.5h1M488 408.5h1M489 408.5h1M497 408.5h1M486 410.5h1M494 410.5h1M496 410.5h1M496 411.5h1M500 411.5h1M489 412.5h1M491 412.5h1M493 412.5h1M495 412.5h1M489 413.5h1M497 414.5h1M498 414.5h1M499 414.5h1M500 414.5h1M497 415.5h1M500 415.5h1M486 416.5h1M489 417.5h1M493 417.5h1M497 417.5h1M499 417.5h1" stroke="rgb(126,126,126)" stroke-width="1"/>
<path d="M488 402.5h1M493 403.5h1M490 404.5h1M491 404.5h1M496 404.5h1M498 404.5h1M489 405.5h1M487 406.5h1M501 407.5h1M486 409.5h1M496 409.5h1M498 409.5h1M499 409.5h1M498 410.5h1M500 410.5h1M495 411.5h1M497 411.5h1M499 411.5h1M492 412.5h1M497 412.5h1M498 412.5h1M490 414.5h1M492 414.5h1M499 415.5h1M487 416.5h1M491 417.5h1M492 417.5h1M498 417.5h1" stroke="rgb(138,138,138)" stroke-width="1"/>
<path d="M493 402.5h1M499 403.5h1M500 403.5h1M494 404.5h1M488 405.5h1M498 405.5h1M492 406.5h1M490 407.5h1M493 407.5h1M498 407.5h1M490 409.5h1M493 409.5h1M501 409.5h1M490 411.5h1M494 412.5h1M490 413.5h1M492 413.5h1M497 413.5h1M487 414.5h1M488 414.5h1M486 415.5h1M491 415.5h1M493 416.5h1M494 417.5h1M500 417.5h1" stroke="rgb(150,150,150)" stroke-width="1"/>
<path d="M486 402.5h1M490 402.5h1M494 403.5h1M490 405.5h1M491 405.5h1M493 405.5h1M499 405.5h1M497 407.5h1M496 408.5h1M498 408.5h1M487 409.5h1M500 409.5h1M487 410.5h1M489 410.5h1M493 410.5h1M495 410.5h1M501 410.5h1M487 411.5h1M489 411.5h1M491 411.5h1M494 411.5h1M501 412.5h1M493 413.5h1M501 414.5h1M488 415.5h1M492 415.5h1M495 415.5h1M496 415.5h1M488 416.5h1M489 416.5h1M492 416.5h1M499 416.5h1M486 417.5h1" stroke="rgb(162,162,162)" stroke-width="1"/>
<path d="M486 403.5h1M492 404.5h1M499 404.5h1M500 405.5h1M501 406.5h1M486 407.5h1M487 407.5h1M492 407.5h1M495 407.5h1M500 407.5h1M499 408.5h1M491 409.5h1M488 410.5h1M490 410.5h1M488 411.5h1M498 411.5h1M488 412.5h1M500 412.5h1M486 414.5h1M487 415.5h1M493 415.5h1M497 416.5h1" stroke="rgb(174,174,174)" stroke-width="1"/>
<path d="M491 402.5h1M488 403.5h1M492 403.5h1M492 405.5h1M495 406.5h1M500 406.5h1M494 407.5h1M500 408.5h1M492 411.5h1M487 412.5h1M499 412.5h1M500 413.5h1M501 413.5h1M493 414.5h1M496 416.5h1M498 416.5h1M487 417.5h1M488 417.5h1M501 417.5h1" stroke="rgb(186,186,186)" stroke-width="1"/>
<path d="M488 404.5h1M491 406.5h1M496 407.5h1M492 410.5h1M493 411.5h1M499 413.5h1M494 414.5h1M495 414.5h1" stroke="rgb(198,198,198)" stroke-width="1"/>
<path d="M491 403.5h1M500 404.5h1M491 407.5h1M486 408.5h1M487 408.5h1M490 408.5h1M501 411.5h1" stroke="rgb(210,210,210)" stroke-width="1"/>
<path d="M492 408.5h1" stroke="rgb(222,222,222)" stroke-width="1"/>
<path d="M491 408.5h1M492 409.5h1M498 413.5h1" stroke="rgb(246,246,246)" stroke-width="1"/>
<path d="M566 282.3V384.5H670.5" stroke="#a0a0a0" fill="none" stroke-width="0.9"/>
<rect x="571.5" y="335.4" width="8.8" height="49.1" fill="#4cb0fa" stroke="#3a6f99" stroke-width="0.6"/>
<line x1="575.9" y1="334.3" x2="575.9" y2="336.5" stroke="#111" stroke-width="1.6"/>
<rect x="592.5" y="337.5" width="8.8" height="47.0" fill="#4cb0fa" stroke="#3a6f99" stroke-width="0.6"/>
<line x1="596.9" y1="335.0" x2="596.9" y2="340.0" stroke="#111" stroke-width="1.6"/>
<rect x="613.5" y="330.9" width="8.8" height="53.6" fill="#4cb0fa" stroke="#3a6f99" stroke-width="0.6"/>
<line x1="617.9" y1="328.5" x2="617.9" y2="333.5" stroke="#111" stroke-width="1.6"/>
<rect x="634.5" y="321.2" width="8.8" height="63.3" fill="#4cb0fa" stroke="#3a6f99" stroke-width="0.6"/>
<line x1="638.9" y1="318.5" x2="638.9" y2="324.5" stroke="#111" stroke-width="1.6"/>
<rect x="655.5" y="303.8" width="8.8" height="80.7" fill="#4cb0fa" stroke="#3a6f99" stroke-width="0.6"/>
<line x1="659.9" y1="300.0" x2="659.9" y2="308.0" stroke="#111" stroke-width="1.6"/>
<text x="542.68" y="314.06" font-size="15.60" textLength="17.00" lengthAdjust="spacingAndGlyphs" fill="#262626">11</text>
<text x="551.68" y="390.36" font-size="15.60" textLength="9.11" lengthAdjust="spacingAndGlyphs" fill="#262626">0</text>
<rect x="557.6" y="397.40000000000003" width="125.8" height="25.600000000000012" fill="#4b4b4b" stroke="#111" stroke-width="1.2"/>
<rect x="557.0" y="396.8" width="26.3" height="26.80000000000001" fill="#282828"/>
<rect x="583.0" y="396.8" width="25.3" height="26.80000000000001" fill="#5a5a5a"/>
<rect x="608.0" y="396.8" width="25.3" height="26.80000000000001" fill="#787878"/>
<rect x="633.0" y="396.8" width="25.3" height="26.80000000000001" fill="#8b8b8b"/>
<rect x="658.0" y="396.8" width="26.3" height="26.80000000000001" fill="#d0d0d0"/>
<rect x="557.6" y="397.40000000000003" width="125.8" height="25.600000000000012" fill="none" stroke="#111" stroke-width="1.2"/>
<text x="239.60" y="481.30" font-size="23.50" textLength="204.56" lengthAdjust="spacingAndGlyphs" fill="#000">Animal selective cell</text>
<text x="13.71" y="539.30" font-size="21.48" textLength="12.43" lengthAdjust="spacingAndGlyphs" fill="#000">e</text>
<text x="73.61" y="537.90" font-size="15.76" textLength="73.48" lengthAdjust="spacingAndGlyphs" fill="#000">Raster Plot</text>
<text x="46.72" y="575.20" font-size="14.71" textLength="20.25" lengthAdjust="spacingAndGlyphs" fill="#000">On</text>
<text x="99.27" y="575.20" font-size="14.94" textLength="21.46" lengthAdjust="spacingAndGlyphs" fill="#000">Off</text>
<text x="205.42" y="538.40" font-size="20.00" textLength="7.13" lengthAdjust="spacingAndGlyphs" fill="#000">f</text>
<text x="224.31" y="537.90" font-size="14.91" textLength="144.36" lengthAdjust="spacingAndGlyphs" fill="#000">Response to category</text>
<text x="240.81" y="574.20" font-size="14.29" textLength="20.58" lengthAdjust="spacingAndGlyphs" fill="#000">On</text>
<text x="300.89" y="575.10" font-size="15.03" textLength="20.74" lengthAdjust="spacingAndGlyphs" fill="#000">Off</text>
<text x="410.41" y="539.80" font-size="23.36" textLength="13.72" lengthAdjust="spacingAndGlyphs" fill="#000">g</text>
<text x="465.22" y="537.30" font-size="15.06" textLength="134.11" lengthAdjust="spacingAndGlyphs" fill="#000">Response to images</text>
<rect x="43.4" y="591.3" width="144.9" height="39.0" fill="#edf5fc"/>
<rect x="43.4" y="630.3" width="144.9" height="38.0" fill="#fdf5f0"/>
<path d="M44.1 625.2h0.75M44.4 611.4h0.75M47.2 595.6h0.75M47.8 605.3h0.75M48.5 612.2h0.75M51.1 605.6h0.75M50.7 609.0h0.75M51.6 599.5h0.75M53.1 615.6h0.75M52.7 615.3h0.75M52.9 623.0h0.75M52.7 624.3h0.75M53.5 602.4h0.75M53.3 601.9h0.75M53.7 608.9h0.75M53.8 623.6h0.75M54.1 615.4h0.75M53.7 623.1h0.75M54.1 598.2h0.75M54.3 596.4h0.75M54.5 622.9h0.75M54.9 607.0h0.75M54.8 593.5h0.75M55.0 616.7h0.75M54.7 614.2h0.75M55.2 609.3h0.75M55.4 621.3h0.75M55.4 625.5h0.75M55.2 622.7h0.75M55.7 599.6h0.75M56.0 622.9h0.75M56.1 621.5h0.75M56.5 595.1h0.75M56.2 612.2h0.75M56.5 619.3h0.75M56.7 626.6h0.75M57.3 597.1h0.75M57.3 602.7h0.75M57.6 600.6h0.75M57.5 617.6h0.75M58.0 619.1h0.75M57.7 605.6h0.75M58.0 595.7h0.75M58.1 604.8h0.75M59.4 615.6h0.75M61.0 621.9h0.75M61.5 595.7h0.75M62.3 615.5h0.75M62.3 594.6h0.75M62.8 618.7h0.75M63.7 594.9h0.75M64.3 596.6h0.75M65.1 593.0h0.75M65.3 613.3h0.75M66.8 621.2h0.75M66.8 625.7h0.75M68.4 595.5h0.75M68.4 593.3h0.75M68.7 622.0h0.75M69.3 597.6h0.75M70.6 628.3h0.75M70.5 592.2h0.75M72.1 625.4h0.75M72.3 624.5h0.75M72.8 597.6h0.75M73.5 605.5h0.75M73.8 617.6h0.75M74.3 601.7h0.75M74.4 622.5h0.75M75.6 598.1h0.75M77.7 604.7h0.75M78.7 601.7h0.75M79.5 600.2h0.75M79.8 628.1h0.75M81.3 629.2h0.75M83.2 599.7h0.75M85.6 623.3h0.75M86.2 621.1h0.75M86.7 591.9h0.75M86.7 609.1h0.75M87.4 602.2h0.75M87.4 603.9h0.75M88.3 611.8h0.75M88.3 608.5h0.75M89.1 620.6h0.75M89.2 606.3h0.75M90.2 596.2h0.75M91.0 603.9h0.75M91.3 592.1h0.75M92.0 608.9h0.75M93.3 612.6h0.75M94.1 618.8h0.75M94.4 614.3h0.75M95.0 619.9h0.75M95.0 609.6h0.75M96.2 622.2h0.75M96.3 608.5h0.75M97.0 593.2h0.75M97.2 622.1h0.75M98.6 624.6h0.75M98.9 612.0h0.75M99.3 605.0h0.75M99.7 615.6h0.75M100.5 619.9h0.75M100.9 598.6h0.75M103.1 598.0h0.75M103.2 615.7h0.75M104.2 614.1h0.75M104.9 628.3h0.75M105.2 623.5h0.75M105.7 616.2h0.75M106.5 620.8h0.75M106.2 627.4h0.75M107.1 601.0h0.75M107.5 603.9h0.75M107.4 602.5h0.75M107.5 595.1h0.75M107.9 617.8h0.75M108.0 611.8h0.75M108.1 610.5h0.75M107.7 611.1h0.75M108.5 625.9h0.75M108.2 599.6h0.75M108.4 593.4h0.75M108.5 628.3h0.75M108.4 605.8h0.75M108.2 593.8h0.75M108.6 594.3h0.75M109.1 611.2h0.75M108.9 617.8h0.75M108.9 610.9h0.75M108.8 609.5h0.75M108.9 600.2h0.75M108.8 620.3h0.75M108.9 603.2h0.75M108.7 626.3h0.75M109.5 598.2h0.75M109.2 614.8h0.75M109.3 602.9h0.75M109.4 599.6h0.75M109.3 628.1h0.75M109.2 594.2h0.75M109.2 607.1h0.75M109.6 600.9h0.75M109.5 620.6h0.75M109.2 610.9h0.75M109.9 615.6h0.75M110.0 611.3h0.75M109.7 622.2h0.75M109.9 603.0h0.75M110.1 596.6h0.75M109.7 605.2h0.75M109.9 608.4h0.75M110.1 602.8h0.75M109.9 614.5h0.75M110.0 628.6h0.75M109.9 613.8h0.75M110.1 605.1h0.75M110.6 614.4h0.75M110.4 598.3h0.75M110.3 623.9h0.75M110.4 614.5h0.75M110.4 615.1h0.75M110.3 604.8h0.75M110.3 602.6h0.75M110.5 616.0h0.75M110.2 622.0h0.75M110.4 597.2h0.75M110.3 622.5h0.75M110.3 618.8h0.75M110.6 619.2h0.75M110.4 594.3h0.75M111.1 607.5h0.75M110.7 612.7h0.75M110.9 601.6h0.75M110.7 610.7h0.75M110.8 601.4h0.75M111.0 625.8h0.75M111.0 595.6h0.75M111.0 600.7h0.75M111.0 614.1h0.75M111.5 605.4h0.75M111.5 612.2h0.75M111.3 599.8h0.75M111.3 608.1h0.75M111.3 599.6h0.75M111.2 600.5h0.75M111.5 616.5h0.75M111.5 596.9h0.75M111.9 608.4h0.75M112.1 597.7h0.75M111.8 613.5h0.75M111.7 612.2h0.75M111.8 618.1h0.75M111.8 594.4h0.75M112.1 625.4h0.75M111.9 591.6h0.75M111.9 627.1h0.75M112.1 625.5h0.75M111.8 593.0h0.75M112.2 617.4h0.75M112.2 616.3h0.75M112.3 614.6h0.75M112.3 627.8h0.75M112.2 629.0h0.75M112.5 623.1h0.75M112.3 596.7h0.75M112.2 620.0h0.75M112.2 614.2h0.75M113.0 595.9h0.75M112.7 611.6h0.75M112.9 620.8h0.75M113.1 609.8h0.75M113.0 598.5h0.75M113.1 602.4h0.75M113.0 623.9h0.75M113.0 603.6h0.75M113.0 597.8h0.75M112.7 593.6h0.75M112.7 609.1h0.75M112.7 597.2h0.75M112.9 619.7h0.75M113.4 614.4h0.75M113.6 599.0h0.75M113.5 608.0h0.75M113.6 602.9h0.75M113.5 603.8h0.75M113.4 621.7h0.75M113.4 618.1h0.75M113.3 595.7h0.75M113.8 596.8h0.75M113.8 619.2h0.75M113.8 620.5h0.75M113.9 597.1h0.75M113.8 595.5h0.75M114.1 608.9h0.75M113.7 594.3h0.75M113.9 614.2h0.75M113.7 612.9h0.75M113.8 598.0h0.75M114.0 600.8h0.75M114.2 618.0h0.75M114.5 626.5h0.75M114.4 610.7h0.75M114.2 595.3h0.75M114.6 598.4h0.75M114.4 619.7h0.75M114.5 607.0h0.75M114.3 626.4h0.75M114.5 624.2h0.75M114.7 606.9h0.75M114.7 611.2h0.75M114.7 628.0h0.75M114.8 619.0h0.75M115.1 609.3h0.75M114.9 603.0h0.75M115.0 625.0h0.75M115.1 607.7h0.75M114.9 627.2h0.75M115.0 592.5h0.75M114.8 604.2h0.75M115.0 618.7h0.75M114.8 628.9h0.75M115.3 611.8h0.75M115.6 614.6h0.75M115.2 594.5h0.75M115.5 603.4h0.75M115.6 607.7h0.75M115.6 619.7h0.75M115.5 607.2h0.75M115.3 628.0h0.75M115.5 628.3h0.75M115.6 595.1h0.75M115.2 624.1h0.75M115.6 614.7h0.75M115.9 594.3h0.75M115.8 607.9h0.75M116.1 604.2h0.75M116.1 625.9h0.75M115.9 599.0h0.75M116.0 603.6h0.75M115.7 598.0h0.75M116.1 621.0h0.75M115.9 624.0h0.75M115.9 622.9h0.75M115.7 619.5h0.75M116.4 613.8h0.75M116.2 625.9h0.75M116.4 607.1h0.75M116.3 623.5h0.75M116.3 605.6h0.75M116.2 600.8h0.75M116.4 626.3h0.75M116.6 628.6h0.75M116.6 619.7h0.75M116.5 601.3h0.75M116.3 594.5h0.75M116.3 593.6h0.75M116.6 623.4h0.75M116.8 629.0h0.75M117.0 601.5h0.75M116.8 618.6h0.75M116.9 623.9h0.75M116.8 620.3h0.75M117.0 595.5h0.75M117.0 593.0h0.75M116.8 600.7h0.75M116.8 609.2h0.75M117.2 599.0h0.75M117.5 601.2h0.75M117.2 599.9h0.75M117.5 623.5h0.75M117.6 604.2h0.75M117.4 611.7h0.75M117.8 625.8h0.75M118.0 604.9h0.75M117.9 600.3h0.75M117.9 602.8h0.75M118.0 593.3h0.75M117.9 592.0h0.75M117.8 603.3h0.75M118.1 624.2h0.75M117.8 602.3h0.75M118.4 627.1h0.75M118.3 616.0h0.75M118.4 608.9h0.75M118.4 592.2h0.75M118.4 605.1h0.75M118.3 629.0h0.75M118.4 625.6h0.75M118.2 613.8h0.75M118.5 610.4h0.75M118.8 628.1h0.75M119.1 628.4h0.75M118.7 619.8h0.75M119.1 591.9h0.75M118.9 626.9h0.75M118.7 615.0h0.75M119.5 609.5h0.75M119.2 626.3h0.75M119.6 594.3h0.75M119.4 597.6h0.75M120.0 598.9h0.75M119.9 595.5h0.75M120.0 614.5h0.75M120.5 600.2h0.75M121.6 621.3h0.75M122.0 598.1h0.75M122.6 628.3h0.75M122.2 621.1h0.75M122.9 593.6h0.75M122.7 602.1h0.75M124.3 624.8h0.75M125.5 620.8h0.75M126.5 615.0h0.75M126.9 609.8h0.75M127.1 624.6h0.75M126.7 612.7h0.75M127.4 609.7h0.75M128.4 617.0h0.75M130.7 606.7h0.75M132.4 625.2h0.75M132.4 614.8h0.75M133.6 599.8h0.75M133.9 614.0h0.75M134.2 627.8h0.75M136.2 622.3h0.75M138.5 595.4h0.75M139.2 618.0h0.75M139.9 624.1h0.75M140.8 616.3h0.75M142.3 598.6h0.75M143.7 601.7h0.75M144.5 602.0h0.75M145.0 596.5h0.75M147.6 625.0h0.75M148.5 592.5h0.75M149.5 620.8h0.75M149.9 603.1h0.75M150.5 626.6h0.75M150.4 597.4h0.75M152.3 593.1h0.75M152.3 622.5h0.75M152.8 596.6h0.75M153.6 609.1h0.75M153.3 624.0h0.75M153.8 629.1h0.75M154.2 627.8h0.75M156.3 602.6h0.75M157.6 617.3h0.75M157.9 594.7h0.75M158.4 625.0h0.75M159.4 594.5h0.75M161.2 599.0h0.75M161.3 606.0h0.75M164.1 607.5h0.75M164.5 606.9h0.75M164.2 618.9h0.75M165.2 594.7h0.75M167.0 625.3h0.75M167.4 604.3h0.75M168.3 615.5h0.75M168.5 619.9h0.75M168.9 619.9h0.75M170.6 618.6h0.75M171.9 626.5h0.75M171.8 594.5h0.75M172.6 599.7h0.75M173.6 599.7h0.75M174.2 621.5h0.75M174.7 620.0h0.75M175.7 622.6h0.75M178.3 616.3h0.75M178.9 612.2h0.75M179.4 609.2h0.75M179.4 610.9h0.75M180.1 621.2h0.75M179.8 625.5h0.75M181.8 614.8h0.75M181.9 623.0h0.75M182.6 617.1h0.75M183.5 624.2h0.75M183.4 622.9h0.75M184.2 621.2h0.75M185.9 606.5h0.75M44.4 661.0h0.75M44.8 650.8h0.75M44.8 644.9h0.75M45.9 638.4h0.75M46.0 655.7h0.75M46.2 633.2h0.75M46.9 643.5h0.75M47.2 653.7h0.75M48.9 650.6h0.75M49.5 665.0h0.75M50.9 643.4h0.75M51.8 666.7h0.75M53.0 635.6h0.75M53.1 662.6h0.75M52.7 651.0h0.75M53.3 634.3h0.75M53.2 662.9h0.75M53.6 663.0h0.75M53.5 649.2h0.75M53.3 645.5h0.75M53.6 663.7h0.75M53.6 661.5h0.75M53.7 647.5h0.75M54.0 666.8h0.75M53.7 641.7h0.75M54.1 663.3h0.75M54.0 647.9h0.75M54.0 633.2h0.75M54.0 657.6h0.75M53.7 655.4h0.75M54.2 631.9h0.75M54.3 643.6h0.75M54.2 659.6h0.75M54.5 652.3h0.75M54.4 652.1h0.75M54.2 639.2h0.75M54.3 643.0h0.75M54.8 636.7h0.75M55.0 651.8h0.75M54.9 644.8h0.75M55.1 663.7h0.75M55.0 632.5h0.75M54.9 645.4h0.75M55.2 641.8h0.75M55.6 643.0h0.75M55.4 653.4h0.75M55.5 651.0h0.75M55.3 633.3h0.75M55.6 657.2h0.75M55.9 664.6h0.75M56.0 649.3h0.75M56.0 639.0h0.75M55.8 634.5h0.75M56.6 649.8h0.75M56.4 638.4h0.75M56.9 655.7h0.75M57.1 652.0h0.75M56.8 635.5h0.75M56.9 640.6h0.75M56.7 644.3h0.75M57.6 645.3h0.75M57.4 664.9h0.75M57.3 641.4h0.75M57.3 646.4h0.75M57.4 630.5h0.75M57.6 656.6h0.75M58.1 664.4h0.75M57.7 632.3h0.75M57.7 664.1h0.75M58.6 642.4h0.75M59.9 643.1h0.75M60.2 639.1h0.75M60.8 664.0h0.75M61.8 663.9h0.75M62.6 658.0h0.75M63.0 647.8h0.75M62.8 663.3h0.75M63.5 665.1h0.75M64.5 655.6h0.75M64.8 665.2h0.75M64.7 663.8h0.75M65.6 634.5h0.75M66.5 663.8h0.75M68.1 666.1h0.75M70.8 665.5h0.75M71.3 660.3h0.75M72.0 633.9h0.75M72.5 653.9h0.75M72.2 640.4h0.75M72.7 640.3h0.75M73.5 653.1h0.75M76.4 643.7h0.75M76.9 635.1h0.75M76.8 658.1h0.75M78.3 639.2h0.75M79.5 645.4h0.75M80.2 642.5h0.75M81.4 643.7h0.75M82.0 637.0h0.75M83.6 643.3h0.75M84.2 638.0h0.75M84.3 666.9h0.75M85.2 659.0h0.75M86.2 632.0h0.75M86.9 661.7h0.75M87.7 656.2h0.75M88.4 631.9h0.75M89.5 657.3h0.75M90.3 648.1h0.75M90.9 639.7h0.75M91.7 642.1h0.75M93.6 656.6h0.75M94.3 638.7h0.75M96.0 657.7h0.75M96.3 661.4h0.75M96.9 639.9h0.75M97.6 651.4h0.75M97.6 659.9h0.75M98.4 662.1h0.75M99.4 656.7h0.75M100.6 634.4h0.75M101.0 641.8h0.75M101.2 665.2h0.75M102.2 635.9h0.75M103.1 666.6h0.75M102.8 650.2h0.75M103.6 641.4h0.75M103.4 652.3h0.75M104.0 632.6h0.75M105.0 653.0h0.75M105.5 648.5h0.75M106.4 663.4h0.75M106.2 665.3h0.75M106.6 652.2h0.75M107.1 657.2h0.75M106.7 640.2h0.75M107.1 648.2h0.75M106.9 652.9h0.75M106.8 633.0h0.75M107.5 638.5h0.75M107.5 651.1h0.75M107.3 657.6h0.75M107.5 650.0h0.75M107.9 630.6h0.75M107.7 661.9h0.75M108.0 666.4h0.75M108.1 645.2h0.75M107.9 665.9h0.75M107.7 650.2h0.75M108.1 661.7h0.75M107.8 663.5h0.75M108.4 658.2h0.75M108.2 652.0h0.75M108.6 645.6h0.75M108.4 632.5h0.75M108.3 635.9h0.75M108.6 653.8h0.75M108.3 651.0h0.75M108.6 666.7h0.75M108.7 633.3h0.75M108.9 640.8h0.75M109.0 658.0h0.75M108.7 630.8h0.75M109.1 653.7h0.75M108.9 635.2h0.75M109.0 655.7h0.75M108.9 650.3h0.75M108.7 641.6h0.75M109.0 665.4h0.75M109.5 666.0h0.75M109.4 633.2h0.75M109.5 663.4h0.75M109.6 654.5h0.75M109.5 639.3h0.75M109.3 635.6h0.75M109.4 652.0h0.75M109.3 637.5h0.75M109.4 652.6h0.75M109.2 641.7h0.75M109.2 661.0h0.75M109.6 651.0h0.75M109.5 655.6h0.75M109.4 661.5h0.75M109.6 633.5h0.75M109.4 642.7h0.75M109.6 637.0h0.75M109.2 641.2h0.75M109.6 639.1h0.75M109.5 646.4h0.75M109.3 655.1h0.75M109.3 633.8h0.75M109.6 649.7h0.75M110.0 641.1h0.75M109.7 633.0h0.75M110.0 649.9h0.75M110.0 643.9h0.75M110.1 664.8h0.75M109.7 641.4h0.75M109.8 641.7h0.75M110.0 645.2h0.75M110.0 650.2h0.75M109.9 648.8h0.75M110.1 654.2h0.75M109.9 657.7h0.75M110.1 657.5h0.75M109.9 649.1h0.75M110.1 659.9h0.75M110.0 656.2h0.75M110.5 659.7h0.75M110.3 653.2h0.75M110.6 635.0h0.75M110.2 640.0h0.75M110.4 654.2h0.75M110.4 644.4h0.75M110.6 655.1h0.75M110.6 644.8h0.75M110.5 654.1h0.75M110.6 641.6h0.75M110.5 633.0h0.75M111.0 650.4h0.75M111.1 635.3h0.75M110.8 662.4h0.75M111.0 667.0h0.75M111.1 640.3h0.75M111.0 657.5h0.75M110.9 656.7h0.75M110.9 655.7h0.75M110.8 667.1h0.75M110.9 663.5h0.75M111.1 657.2h0.75M111.0 657.7h0.75M110.7 662.9h0.75M110.8 630.7h0.75M111.2 654.8h0.75M111.4 643.7h0.75M111.4 659.7h0.75M111.6 663.1h0.75M111.4 665.0h0.75M111.5 652.9h0.75M111.4 651.9h0.75M111.2 659.2h0.75M111.4 632.1h0.75M111.4 642.9h0.75M111.5 635.7h0.75M111.2 643.9h0.75M111.3 640.5h0.75M111.9 662.5h0.75M111.8 663.6h0.75M112.1 642.8h0.75M112.1 643.4h0.75M111.7 637.1h0.75M111.8 645.1h0.75M112.1 637.0h0.75M112.1 664.6h0.75M112.0 642.5h0.75M112.0 660.1h0.75M112.5 650.2h0.75M112.4 654.8h0.75M112.4 655.1h0.75M112.5 661.5h0.75M112.2 646.3h0.75M112.6 641.9h0.75M112.2 647.6h0.75M112.2 638.8h0.75M112.4 641.2h0.75M112.9 653.7h0.75M112.7 656.2h0.75M112.7 649.1h0.75M112.8 648.8h0.75M113.1 633.8h0.75M112.9 649.2h0.75M113.1 636.5h0.75M112.7 641.7h0.75M112.7 655.7h0.75M113.1 631.4h0.75M113.0 632.8h0.75M112.7 662.6h0.75M112.7 656.9h0.75M112.8 655.0h0.75M113.3 664.6h0.75M113.2 645.3h0.75M113.6 666.1h0.75M113.4 643.0h0.75M113.5 642.4h0.75M113.2 659.7h0.75M113.3 663.2h0.75M113.4 634.8h0.75M113.2 631.0h0.75M113.6 666.0h0.75M113.2 651.6h0.75M113.2 648.4h0.75M113.5 631.2h0.75M113.2 665.6h0.75M113.6 653.8h0.75M113.3 664.9h0.75M113.6 651.1h0.75M113.7 639.3h0.75M114.1 660.4h0.75M113.7 651.7h0.75M114.1 648.8h0.75M113.9 630.7h0.75M114.0 666.2h0.75M113.9 648.6h0.75M113.8 643.9h0.75M114.1 646.1h0.75M113.9 658.9h0.75M113.9 636.5h0.75M113.7 663.9h0.75M113.7 663.6h0.75M114.0 648.1h0.75M114.3 635.1h0.75M114.3 634.7h0.75M114.2 664.8h0.75M114.2 659.0h0.75M114.3 638.7h0.75M114.4 633.7h0.75M114.3 661.7h0.75M114.2 666.7h0.75M114.4 630.9h0.75M114.4 654.8h0.75M114.6 661.9h0.75M114.2 632.6h0.75M114.2 650.4h0.75M114.4 636.9h0.75M114.2 657.9h0.75M115.1 643.1h0.75M114.7 648.9h0.75M115.0 632.3h0.75M114.9 642.1h0.75M114.8 635.4h0.75M114.7 634.3h0.75M114.8 648.6h0.75M114.7 639.8h0.75M115.1 643.8h0.75M114.9 640.8h0.75M114.9 653.5h0.75M114.7 661.9h0.75M115.6 639.4h0.75M115.3 649.9h0.75M115.2 662.6h0.75M115.4 646.6h0.75M115.5 655.6h0.75M115.3 631.7h0.75M115.2 632.1h0.75M115.6 649.1h0.75M115.3 651.1h0.75M115.6 665.1h0.75M115.4 667.1h0.75M115.3 649.2h0.75M115.5 667.0h0.75M115.7 632.0h0.75M115.9 659.4h0.75M115.8 630.8h0.75M115.7 640.8h0.75M116.0 651.7h0.75M116.1 649.6h0.75M116.0 631.0h0.75M116.0 660.3h0.75M115.8 653.6h0.75M115.8 650.3h0.75M115.7 664.9h0.75M116.0 659.1h0.75M115.8 664.0h0.75M116.0 646.6h0.75M115.8 637.7h0.75M115.9 650.6h0.75M115.7 642.4h0.75M115.8 656.2h0.75M115.7 654.7h0.75M115.7 643.7h0.75M115.8 650.4h0.75M116.3 651.3h0.75M116.3 635.5h0.75M116.4 636.7h0.75M116.2 664.2h0.75M116.2 633.3h0.75M116.2 640.2h0.75M116.5 656.1h0.75M116.4 632.7h0.75M116.2 661.2h0.75M116.3 633.7h0.75M116.4 649.1h0.75M116.4 651.7h0.75M116.3 636.1h0.75M116.3 636.5h0.75M116.4 657.6h0.75M116.2 648.1h0.75M116.3 642.2h0.75M116.3 644.5h0.75M116.3 661.3h0.75M116.8 647.2h0.75M117.1 654.9h0.75M116.9 642.2h0.75M117.1 665.3h0.75M117.1 659.1h0.75M117.0 657.1h0.75M116.8 634.6h0.75M116.8 640.4h0.75M116.7 666.5h0.75M116.9 635.6h0.75M116.8 641.6h0.75M116.8 635.8h0.75M116.7 652.0h0.75M116.8 667.0h0.75M116.9 637.7h0.75M116.9 646.5h0.75M116.9 647.5h0.75M116.7 665.8h0.75M117.4 633.0h0.75M117.2 664.8h0.75M117.6 653.5h0.75M117.6 663.9h0.75M117.3 643.9h0.75M117.2 640.3h0.75M117.6 632.0h0.75M117.5 655.8h0.75M117.4 655.5h0.75M117.3 645.4h0.75M117.5 659.2h0.75M117.4 634.3h0.75M117.3 652.8h0.75M117.5 653.1h0.75M117.5 649.1h0.75M118.0 645.4h0.75M117.7 643.9h0.75M118.1 639.0h0.75M117.8 633.0h0.75M118.0 656.5h0.75M117.7 666.1h0.75M118.0 657.7h0.75M117.7 631.8h0.75M118.0 654.8h0.75M117.7 636.5h0.75M117.8 650.7h0.75M117.7 642.7h0.75M117.7 638.2h0.75M117.7 633.5h0.75M117.7 636.7h0.75M118.3 634.1h0.75M118.2 666.6h0.75M118.3 655.6h0.75M118.2 638.6h0.75M118.2 644.9h0.75M118.6 641.2h0.75M118.3 666.7h0.75M118.3 630.9h0.75M118.5 655.3h0.75M118.3 650.9h0.75M118.4 630.9h0.75M119.0 663.0h0.75M119.1 643.4h0.75M119.1 650.7h0.75M118.7 651.9h0.75M118.7 648.5h0.75M119.2 640.5h0.75M119.6 663.1h0.75M119.4 644.2h0.75M120.1 646.8h0.75M120.1 630.9h0.75M120.3 631.9h0.75M120.3 633.4h0.75M121.1 659.7h0.75M120.9 663.0h0.75M120.8 659.0h0.75M121.2 633.0h0.75M122.1 630.9h0.75M122.6 635.9h0.75M124.0 652.3h0.75M124.3 631.4h0.75M124.6 640.2h0.75M124.8 652.8h0.75M125.0 661.0h0.75M125.4 632.0h0.75M126.0 661.8h0.75M126.9 662.3h0.75M128.3 651.7h0.75M129.2 655.4h0.75M129.9 661.9h0.75M130.7 650.5h0.75M132.2 654.1h0.75M133.1 638.7h0.75M133.6 643.5h0.75M133.2 639.2h0.75M133.8 647.2h0.75M134.3 656.1h0.75M135.2 655.6h0.75M135.7 650.4h0.75M137.9 633.7h0.75M138.0 651.7h0.75M138.5 638.5h0.75M138.8 667.0h0.75M140.6 641.4h0.75M140.2 649.4h0.75M141.2 634.7h0.75M141.5 659.2h0.75M142.0 657.1h0.75M142.4 655.6h0.75M142.3 634.4h0.75M145.0 666.6h0.75M146.6 664.8h0.75M146.9 638.6h0.75M146.7 636.9h0.75M148.8 660.3h0.75M149.6 633.5h0.75M149.2 631.3h0.75M149.8 666.8h0.75M149.7 640.2h0.75M150.4 666.7h0.75M151.0 664.1h0.75M151.5 658.7h0.75M151.9 635.1h0.75M154.8 634.2h0.75M155.3 630.9h0.75M155.9 642.7h0.75M156.3 630.4h0.75M156.6 650.2h0.75M156.9 666.5h0.75M157.5 655.2h0.75M158.9 653.2h0.75M160.4 645.1h0.75M160.8 639.4h0.75M162.5 648.2h0.75M163.5 658.3h0.75M164.0 632.1h0.75M164.8 638.9h0.75M165.6 635.3h0.75M166.8 634.2h0.75M167.3 634.7h0.75M167.6 631.9h0.75M167.9 646.4h0.75M168.0 664.5h0.75M168.9 661.0h0.75M169.9 658.8h0.75M170.2 638.1h0.75M170.6 631.0h0.75M171.5 663.1h0.75M173.0 663.4h0.75M174.2 643.0h0.75M174.4 634.7h0.75M177.1 631.9h0.75M176.7 631.0h0.75M177.8 648.1h0.75M178.5 651.7h0.75M178.8 664.8h0.75M178.8 632.5h0.75M179.3 649.8h0.75M180.9 653.9h0.75M181.5 653.7h0.75M181.2 647.6h0.75M182.9 662.9h0.75M183.5 642.0h0.75M184.6 650.2h0.75M185.1 646.4h0.75M185.6 651.6h0.75M185.3 661.8h0.75M185.8 663.3h0.75M186.2 637.2h0.75M186.8 631.1h0.75" stroke="#000" stroke-opacity="0.85" stroke-width="0.75" fill="none"/>
<path d="M44.9 599.7h0.75M45.4 619.2h0.75M46.0 613.7h0.75M46.0 628.2h0.75M46.3 613.0h0.75M46.9 608.3h0.75M52.4 625.5h0.75M53.0 607.0h0.75M53.1 594.3h0.75M52.9 600.2h0.75M53.2 608.4h0.75M53.2 617.9h0.75M53.5 611.8h0.75M53.4 620.8h0.75M53.3 606.0h0.75M53.6 609.5h0.75M54.1 601.8h0.75M54.0 606.3h0.75M53.9 618.2h0.75M54.6 614.2h0.75M54.6 599.1h0.75M54.3 614.8h0.75M54.6 607.9h0.75M54.6 596.2h0.75M54.4 599.3h0.75M54.2 603.3h0.75M54.8 616.8h0.75M54.7 622.5h0.75M55.1 611.7h0.75M55.1 616.4h0.75M54.7 623.2h0.75M54.9 610.9h0.75M55.5 603.1h0.75M55.5 614.3h0.75M55.3 602.1h0.75M55.5 627.3h0.75M55.6 615.3h0.75M55.9 629.0h0.75M55.8 613.5h0.75M55.7 603.7h0.75M56.4 628.4h0.75M56.4 611.7h0.75M56.2 610.6h0.75M56.3 624.9h0.75M57.0 620.1h0.75M56.8 594.8h0.75M56.9 621.4h0.75M56.7 602.6h0.75M57.6 615.5h0.75M57.5 627.2h0.75M57.5 614.1h0.75M57.3 595.7h0.75M57.3 628.7h0.75M57.6 628.3h0.75M57.7 595.7h0.75M58.4 619.2h0.75M60.9 597.8h0.75M61.3 591.4h0.75M63.1 592.9h0.75M63.5 592.3h0.75M63.3 609.7h0.75M64.6 611.4h0.75M65.0 591.6h0.75M65.6 591.3h0.75M66.1 612.1h0.75M67.3 613.0h0.75M67.8 594.8h0.75M70.8 599.6h0.75M70.9 626.2h0.75M71.5 622.2h0.75M71.7 608.7h0.75M72.6 627.8h0.75M72.9 624.8h0.75M73.4 598.7h0.75M74.9 613.0h0.75M75.0 598.1h0.75M75.5 613.9h0.75M75.7 602.6h0.75M76.3 625.8h0.75M77.5 597.0h0.75M78.7 615.6h0.75M80.0 624.3h0.75M80.6 617.2h0.75M81.4 598.8h0.75M82.1 605.5h0.75M82.4 597.4h0.75M83.0 616.4h0.75M83.4 617.1h0.75M83.8 605.7h0.75M83.8 600.2h0.75M84.2 591.8h0.75M85.7 626.9h0.75M86.6 611.6h0.75M88.1 600.3h0.75M90.1 596.5h0.75M91.6 593.2h0.75M92.0 592.7h0.75M93.1 605.3h0.75M94.1 604.9h0.75M94.3 627.2h0.75M95.4 615.5h0.75M96.9 611.4h0.75M98.1 628.8h0.75M98.3 607.9h0.75M99.0 599.2h0.75M100.5 622.1h0.75M100.8 600.1h0.75M101.3 597.2h0.75M101.6 611.6h0.75M101.7 603.1h0.75M102.2 606.0h0.75M103.1 596.9h0.75M103.5 609.4h0.75M104.1 610.1h0.75M103.8 602.1h0.75M104.2 591.5h0.75M104.8 604.1h0.75M105.3 618.3h0.75M106.2 598.9h0.75M106.7 620.7h0.75M106.7 619.7h0.75M107.4 613.5h0.75M107.6 609.3h0.75M107.3 601.1h0.75M108.1 623.9h0.75M107.7 629.0h0.75M108.1 602.4h0.75M107.9 597.7h0.75M107.7 620.0h0.75M107.8 601.7h0.75M108.1 614.7h0.75M107.8 599.6h0.75M108.1 620.6h0.75M108.2 610.4h0.75M108.4 611.8h0.75M108.2 604.1h0.75M108.4 620.4h0.75M108.5 620.0h0.75M108.4 605.0h0.75M108.4 626.0h0.75M108.6 604.3h0.75M109.1 591.4h0.75M109.1 608.6h0.75M108.9 593.8h0.75M108.7 598.3h0.75M109.1 607.8h0.75M109.1 626.6h0.75M109.0 629.0h0.75M109.1 612.3h0.75M109.0 601.2h0.75M109.2 600.8h0.75M109.3 613.0h0.75M109.5 613.3h0.75M109.6 626.5h0.75M109.4 617.3h0.75M109.3 624.3h0.75M109.5 621.2h0.75M109.4 609.2h0.75M109.3 607.2h0.75M109.7 614.2h0.75M110.0 595.9h0.75M109.7 597.2h0.75M110.1 595.6h0.75M110.0 597.1h0.75M109.8 606.8h0.75M109.8 616.4h0.75M109.9 611.5h0.75M109.8 600.6h0.75M110.0 601.4h0.75M109.7 608.3h0.75M110.5 596.4h0.75M110.4 614.6h0.75M110.3 624.3h0.75M110.6 609.8h0.75M110.5 592.6h0.75M110.3 609.7h0.75M110.4 607.1h0.75M110.4 623.2h0.75M110.5 622.8h0.75M110.6 603.9h0.75M110.6 598.1h0.75M111.1 593.8h0.75M111.1 603.8h0.75M111.1 622.2h0.75M111.1 621.8h0.75M110.9 622.5h0.75M110.9 606.8h0.75M111.1 612.6h0.75M110.9 605.0h0.75M111.1 628.3h0.75M110.7 614.9h0.75M110.7 624.9h0.75M110.9 604.0h0.75M111.1 601.0h0.75M110.8 592.7h0.75M111.0 624.3h0.75M111.5 593.1h0.75M111.2 617.5h0.75M111.2 609.3h0.75M111.3 624.2h0.75M111.5 602.3h0.75M111.5 620.5h0.75M111.6 617.1h0.75M111.5 607.7h0.75M111.2 617.4h0.75M111.2 627.1h0.75M111.4 591.3h0.75M111.6 628.1h0.75M112.1 616.5h0.75M111.7 627.2h0.75M112.1 615.6h0.75M111.8 617.7h0.75M111.7 621.6h0.75M111.8 620.9h0.75M112.0 604.2h0.75M111.7 605.9h0.75M112.0 608.0h0.75M111.7 599.5h0.75M112.5 607.5h0.75M112.6 621.5h0.75M112.5 594.9h0.75M112.2 625.2h0.75M112.5 594.6h0.75M112.4 596.0h0.75M112.4 621.6h0.75M112.6 620.2h0.75M112.2 602.8h0.75M112.4 623.6h0.75M112.2 620.4h0.75M112.2 597.2h0.75M112.2 598.1h0.75M112.3 596.9h0.75M112.4 619.7h0.75M112.6 593.5h0.75M112.7 624.4h0.75M112.7 593.5h0.75M113.1 591.6h0.75M112.7 617.1h0.75M112.7 625.8h0.75M112.8 600.4h0.75M113.1 593.3h0.75M113.1 610.1h0.75M113.0 628.8h0.75M113.2 609.5h0.75M113.2 599.7h0.75M113.3 603.1h0.75M113.3 604.9h0.75M113.4 607.2h0.75M113.6 618.5h0.75M113.2 606.8h0.75M113.5 624.0h0.75M113.6 613.0h0.75M113.6 620.9h0.75M113.4 605.0h0.75M113.3 609.6h0.75M113.6 615.9h0.75M113.4 621.4h0.75M113.9 592.4h0.75M113.8 595.0h0.75M114.0 603.4h0.75M113.9 599.4h0.75M114.1 610.1h0.75M114.1 624.9h0.75M114.1 600.5h0.75M113.8 626.0h0.75M113.7 600.5h0.75M114.0 598.7h0.75M114.0 595.3h0.75M113.7 605.5h0.75M113.7 609.5h0.75M114.5 602.6h0.75M114.6 607.0h0.75M114.5 605.5h0.75M114.4 610.2h0.75M114.3 610.9h0.75M114.3 593.2h0.75M114.5 600.4h0.75M114.4 615.3h0.75M114.2 619.2h0.75M115.1 610.2h0.75M114.7 603.4h0.75M115.0 600.8h0.75M114.9 626.3h0.75M114.8 600.0h0.75M114.9 624.8h0.75M115.0 596.5h0.75M115.1 608.0h0.75M115.0 611.5h0.75M115.2 616.1h0.75M115.3 595.8h0.75M115.5 605.5h0.75M115.5 594.7h0.75M115.4 602.7h0.75M115.3 597.3h0.75M115.4 600.6h0.75M115.2 618.9h0.75M115.2 594.6h0.75M115.2 596.3h0.75M115.4 611.1h0.75M115.2 604.8h0.75M115.6 617.5h0.75M116.0 617.4h0.75M115.8 612.1h0.75M116.1 629.3h0.75M115.7 615.7h0.75M115.7 609.6h0.75M116.0 613.4h0.75M115.9 613.0h0.75M116.1 596.9h0.75M116.0 594.6h0.75M116.2 602.7h0.75M116.5 609.6h0.75M116.2 613.3h0.75M116.4 612.4h0.75M116.4 594.7h0.75M116.4 600.5h0.75M116.6 597.5h0.75M116.6 614.3h0.75M116.6 625.2h0.75M116.9 605.6h0.75M116.7 620.0h0.75M116.9 617.8h0.75M116.7 604.8h0.75M116.9 608.5h0.75M117.1 619.4h0.75M117.1 605.7h0.75M116.7 611.3h0.75M116.9 606.8h0.75M116.9 623.9h0.75M117.6 606.8h0.75M117.3 596.0h0.75M117.4 607.0h0.75M117.3 628.6h0.75M117.5 625.8h0.75M117.2 595.3h0.75M117.6 623.5h0.75M117.3 599.6h0.75M117.2 618.8h0.75M117.7 624.7h0.75M118.1 620.0h0.75M118.0 618.5h0.75M117.7 598.9h0.75M117.7 601.7h0.75M117.9 619.3h0.75M117.7 617.1h0.75M118.1 616.4h0.75M117.8 595.1h0.75M117.9 595.8h0.75M118.5 605.7h0.75M118.2 621.7h0.75M118.4 625.5h0.75M118.2 617.5h0.75M118.8 620.2h0.75M119.5 612.0h0.75M119.6 606.5h0.75M119.6 597.6h0.75M119.5 616.7h0.75M119.4 617.2h0.75M119.8 597.6h0.75M119.9 627.2h0.75M120.0 609.9h0.75M119.9 617.2h0.75M120.3 625.0h0.75M120.5 607.7h0.75M120.6 596.3h0.75M121.1 605.3h0.75M120.9 621.0h0.75M121.1 623.0h0.75M121.2 626.5h0.75M121.2 605.3h0.75M121.6 613.7h0.75M122.1 627.0h0.75M122.7 617.6h0.75M123.4 628.6h0.75M123.5 622.6h0.75M123.7 600.7h0.75M124.4 621.1h0.75M125.2 606.5h0.75M125.2 601.1h0.75M126.1 621.9h0.75M126.2 624.2h0.75M126.5 616.5h0.75M128.3 603.8h0.75M129.1 622.2h0.75M128.7 606.7h0.75M129.2 609.0h0.75M129.3 629.3h0.75M130.9 627.5h0.75M131.4 611.5h0.75M132.0 611.9h0.75M133.1 611.7h0.75M132.8 604.1h0.75M133.9 597.4h0.75M134.2 596.5h0.75M135.1 608.7h0.75M135.3 600.8h0.75M135.3 621.8h0.75M136.1 602.0h0.75M137.6 599.4h0.75M137.2 591.9h0.75M138.1 614.1h0.75M139.5 595.2h0.75M140.6 627.2h0.75M141.2 623.8h0.75M142.5 620.5h0.75M143.0 599.2h0.75M143.5 615.1h0.75M145.2 616.3h0.75M146.6 612.2h0.75M146.7 613.3h0.75M147.7 616.9h0.75M148.8 613.5h0.75M150.9 606.0h0.75M151.3 596.7h0.75M151.6 593.9h0.75M151.8 605.8h0.75M154.5 605.5h0.75M155.8 623.0h0.75M156.1 608.9h0.75M157.8 628.7h0.75M158.6 610.6h0.75M159.1 622.0h0.75M160.0 613.4h0.75M159.9 608.1h0.75M160.3 626.0h0.75M160.6 593.0h0.75M161.0 626.2h0.75M160.8 594.6h0.75M162.0 613.1h0.75M162.1 617.8h0.75M162.5 628.3h0.75M163.6 617.1h0.75M164.8 596.8h0.75M165.8 622.6h0.75M166.5 609.3h0.75M167.0 622.8h0.75M167.6 603.5h0.75M169.3 593.9h0.75M169.9 607.9h0.75M170.6 625.9h0.75M171.4 607.5h0.75M172.5 625.1h0.75M172.7 605.0h0.75M174.0 626.4h0.75M174.2 603.6h0.75M175.2 625.8h0.75M176.9 601.3h0.75M177.3 619.6h0.75M177.9 593.9h0.75M178.4 593.3h0.75M178.8 615.3h0.75M181.0 610.1h0.75M181.3 629.0h0.75M182.2 625.4h0.75M183.9 608.1h0.75M184.9 625.1h0.75M186.3 612.0h0.75M187.0 622.2h0.75M43.9 652.4h0.75M45.2 637.0h0.75M45.5 639.9h0.75M47.0 662.0h0.75M48.1 656.6h0.75M48.0 632.6h0.75M48.2 641.9h0.75M49.9 645.3h0.75M50.1 643.6h0.75M50.4 640.6h0.75M50.4 630.8h0.75M51.0 649.7h0.75M51.3 640.1h0.75M52.4 642.9h0.75M52.9 636.4h0.75M52.9 665.0h0.75M52.9 649.4h0.75M53.1 642.7h0.75M52.7 637.5h0.75M53.0 648.3h0.75M52.7 662.6h0.75M52.9 649.2h0.75M53.1 651.5h0.75M53.6 643.0h0.75M53.5 634.4h0.75M53.4 656.4h0.75M53.6 637.9h0.75M54.0 664.6h0.75M54.0 653.1h0.75M53.7 643.6h0.75M53.8 652.6h0.75M54.2 636.1h0.75M54.3 633.3h0.75M54.5 654.5h0.75M54.4 648.5h0.75M54.7 641.9h0.75M54.8 657.4h0.75M54.8 653.5h0.75M55.1 650.6h0.75M54.7 645.8h0.75M55.1 651.1h0.75M54.7 656.8h0.75M55.6 651.9h0.75M55.5 649.1h0.75M55.6 649.4h0.75M55.4 664.3h0.75M56.1 639.9h0.75M55.8 656.2h0.75M55.9 665.7h0.75M55.7 649.9h0.75M56.1 644.5h0.75M55.8 649.3h0.75M55.7 630.5h0.75M56.6 640.9h0.75M56.6 657.3h0.75M56.5 661.0h0.75M56.5 653.9h0.75M56.2 651.7h0.75M56.4 661.0h0.75M56.6 656.8h0.75M56.6 635.4h0.75M56.2 641.8h0.75M56.5 644.7h0.75M56.2 644.1h0.75M56.9 660.3h0.75M56.7 631.4h0.75M56.9 646.3h0.75M57.6 632.3h0.75M57.4 667.1h0.75M57.5 654.5h0.75M57.7 658.6h0.75M57.8 634.3h0.75M58.1 653.1h0.75M57.9 640.6h0.75M58.1 657.9h0.75M58.5 630.6h0.75M59.3 635.7h0.75M59.4 648.8h0.75M60.3 641.4h0.75M60.9 634.9h0.75M61.3 656.6h0.75M61.5 631.5h0.75M62.2 652.1h0.75M63.2 649.3h0.75M63.7 642.1h0.75M64.0 660.4h0.75M66.1 633.2h0.75M67.0 635.2h0.75M67.3 666.1h0.75M67.9 638.9h0.75M68.2 645.1h0.75M68.7 630.5h0.75M69.2 650.4h0.75M69.9 648.7h0.75M70.5 650.0h0.75M71.6 646.6h0.75M72.7 656.8h0.75M73.4 664.2h0.75M73.7 634.3h0.75M74.5 645.9h0.75M74.6 649.8h0.75M74.9 644.9h0.75M75.5 631.6h0.75M75.5 658.7h0.75M75.8 656.7h0.75M77.3 667.3h0.75M77.7 647.7h0.75M77.9 655.5h0.75M78.4 643.8h0.75M78.7 636.0h0.75M78.8 665.5h0.75M79.4 643.1h0.75M79.7 658.8h0.75M79.7 641.7h0.75M80.5 653.8h0.75M81.2 651.7h0.75M82.0 654.3h0.75M82.6 641.2h0.75M83.5 661.3h0.75M85.1 648.6h0.75M85.3 633.5h0.75M85.7 633.8h0.75M86.0 663.6h0.75M88.3 660.5h0.75M89.7 651.4h0.75M90.6 642.5h0.75M90.7 658.3h0.75M91.3 630.9h0.75M92.0 635.6h0.75M92.6 637.2h0.75M92.5 648.2h0.75M92.8 651.7h0.75M92.9 655.8h0.75M94.1 660.6h0.75M94.4 654.6h0.75M95.3 646.9h0.75M98.0 642.3h0.75M99.0 630.9h0.75M98.8 662.4h0.75M99.7 666.3h0.75M100.7 652.3h0.75M101.3 637.6h0.75M102.0 645.4h0.75M102.4 658.6h0.75M104.1 648.6h0.75M104.1 636.1h0.75M104.2 662.4h0.75M104.7 643.4h0.75M105.6 638.7h0.75M105.8 637.0h0.75M106.4 667.0h0.75M106.2 647.7h0.75M106.2 658.4h0.75M106.8 639.9h0.75M107.0 637.1h0.75M106.8 639.5h0.75M107.5 640.7h0.75M107.2 666.2h0.75M107.4 636.8h0.75M107.2 659.7h0.75M108.0 660.3h0.75M107.9 641.3h0.75M108.4 652.2h0.75M108.6 656.4h0.75M108.5 662.2h0.75M108.2 655.2h0.75M108.6 633.0h0.75M108.3 658.6h0.75M108.3 667.0h0.75M108.8 632.4h0.75M108.7 642.3h0.75M109.1 649.6h0.75M108.9 663.7h0.75M108.8 649.1h0.75M108.7 653.8h0.75M109.1 661.9h0.75M109.0 655.6h0.75M109.0 649.1h0.75M108.8 657.3h0.75M109.1 641.7h0.75M109.5 655.6h0.75M109.5 638.0h0.75M109.3 653.3h0.75M109.3 637.7h0.75M109.3 645.0h0.75M109.5 642.7h0.75M109.6 632.6h0.75M109.6 664.3h0.75M109.2 666.5h0.75M109.3 652.0h0.75M109.5 651.3h0.75M109.3 666.4h0.75M109.6 665.1h0.75M109.5 649.8h0.75M109.4 643.5h0.75M109.9 667.1h0.75M109.8 641.5h0.75M109.8 665.7h0.75M110.1 661.5h0.75M110.1 661.4h0.75M109.8 641.6h0.75M110.1 646.1h0.75M110.1 634.6h0.75M110.0 641.6h0.75M110.1 646.5h0.75M109.9 649.6h0.75M110.1 642.8h0.75M109.8 650.6h0.75M109.8 659.6h0.75M109.7 666.6h0.75M109.8 661.0h0.75M110.4 659.4h0.75M110.3 647.8h0.75M110.2 666.2h0.75M110.2 652.7h0.75M110.4 639.4h0.75M110.6 640.7h0.75M110.4 641.5h0.75M110.5 654.8h0.75M110.4 631.9h0.75M110.4 645.0h0.75M110.5 663.3h0.75M110.6 665.3h0.75M110.4 639.9h0.75M110.4 636.2h0.75M110.5 651.2h0.75M110.2 647.2h0.75M110.8 635.7h0.75M110.9 641.2h0.75M110.9 658.1h0.75M111.0 657.3h0.75M111.0 666.7h0.75M110.7 662.8h0.75M111.1 665.9h0.75M110.9 659.4h0.75M110.9 631.6h0.75M111.0 665.8h0.75M110.9 655.9h0.75M111.0 648.3h0.75M110.8 663.7h0.75M110.8 646.9h0.75M111.0 650.3h0.75M111.0 659.7h0.75M111.5 635.8h0.75M111.5 660.8h0.75M111.6 639.4h0.75M111.2 649.3h0.75M111.4 653.9h0.75M111.2 654.1h0.75M111.2 662.9h0.75M111.5 652.2h0.75M111.2 666.9h0.75M111.6 664.2h0.75M111.6 666.5h0.75M111.3 638.9h0.75M112.0 656.3h0.75M112.1 640.5h0.75M112.1 659.7h0.75M112.0 659.2h0.75M112.0 663.1h0.75M111.7 661.0h0.75M112.0 650.0h0.75M111.7 638.5h0.75M111.8 667.1h0.75M112.0 661.2h0.75M112.0 649.9h0.75M111.7 633.8h0.75M111.8 652.0h0.75M111.7 632.9h0.75M111.9 641.7h0.75M111.7 632.4h0.75M112.2 653.4h0.75M112.6 656.8h0.75M112.3 649.0h0.75M112.2 643.7h0.75M112.2 637.9h0.75M112.3 639.6h0.75M112.2 661.6h0.75M112.6 657.0h0.75M112.3 651.7h0.75M112.6 661.5h0.75M112.4 636.5h0.75M112.5 644.5h0.75M112.5 659.4h0.75M112.4 641.6h0.75M112.2 650.1h0.75M112.2 644.6h0.75M112.4 665.3h0.75M112.3 659.6h0.75M112.6 660.0h0.75M112.3 644.0h0.75M112.5 640.7h0.75M112.5 663.7h0.75M112.6 659.1h0.75M112.6 652.0h0.75M113.0 664.2h0.75M113.1 654.0h0.75M112.8 641.3h0.75M113.0 658.9h0.75M113.1 664.0h0.75M112.8 661.6h0.75M112.8 660.6h0.75M112.8 664.9h0.75M113.0 644.1h0.75M113.0 633.0h0.75M113.1 633.4h0.75M112.8 665.2h0.75M112.8 656.0h0.75M113.0 643.2h0.75M113.1 656.6h0.75M113.1 630.5h0.75M113.4 667.0h0.75M113.4 645.8h0.75M113.3 641.3h0.75M113.6 661.7h0.75M113.6 654.9h0.75M113.5 650.4h0.75M113.3 640.3h0.75M113.6 632.8h0.75M113.3 650.6h0.75M113.2 634.2h0.75M113.4 662.7h0.75M113.6 635.0h0.75M113.5 659.7h0.75M113.3 638.0h0.75M113.3 644.0h0.75M114.1 646.1h0.75M113.8 647.5h0.75M114.1 663.4h0.75M114.0 642.5h0.75M113.8 654.3h0.75M114.0 656.2h0.75M113.8 634.7h0.75M113.7 661.2h0.75M113.7 659.7h0.75M114.0 631.0h0.75M113.7 650.2h0.75M114.5 655.4h0.75M114.6 660.8h0.75M114.2 650.4h0.75M114.4 634.9h0.75M114.5 656.9h0.75M114.2 657.6h0.75M114.2 645.6h0.75M114.5 664.2h0.75M114.2 660.1h0.75M114.4 656.0h0.75M114.3 661.5h0.75M114.2 661.1h0.75M114.2 645.7h0.75M114.3 666.8h0.75M114.2 653.9h0.75M114.5 659.8h0.75M114.6 648.5h0.75M114.7 666.4h0.75M115.1 665.9h0.75M115.0 655.3h0.75M114.7 661.9h0.75M114.7 645.6h0.75M114.8 661.7h0.75M115.1 635.5h0.75M114.8 646.3h0.75M114.7 659.6h0.75M115.0 644.7h0.75M114.8 657.4h0.75M115.1 631.1h0.75M114.7 654.3h0.75M115.3 645.9h0.75M115.6 646.9h0.75M115.3 654.5h0.75M115.6 645.6h0.75M115.3 666.7h0.75M115.6 644.6h0.75M115.6 645.9h0.75M115.3 663.5h0.75M115.2 665.3h0.75M115.8 652.9h0.75M115.9 636.2h0.75M116.0 658.6h0.75M115.8 630.5h0.75M115.9 641.1h0.75M115.9 663.3h0.75M115.8 644.9h0.75M116.0 633.7h0.75M115.8 631.4h0.75M115.9 664.7h0.75M115.9 630.6h0.75M116.5 642.7h0.75M116.4 665.8h0.75M116.4 663.3h0.75M116.6 634.6h0.75M116.4 665.6h0.75M116.4 643.0h0.75M116.3 645.3h0.75M116.5 633.0h0.75M116.2 651.7h0.75M116.4 663.5h0.75M116.6 645.6h0.75M117.0 641.9h0.75M117.0 640.6h0.75M116.9 655.7h0.75M116.7 648.2h0.75M117.0 658.4h0.75M116.7 645.3h0.75M116.8 660.5h0.75M117.0 632.4h0.75M117.0 639.0h0.75M117.0 638.0h0.75M116.9 654.2h0.75M116.8 647.9h0.75M117.0 662.7h0.75M117.4 658.4h0.75M117.6 665.5h0.75M117.5 656.5h0.75M117.4 658.7h0.75M117.3 644.6h0.75M117.2 642.4h0.75M117.3 644.6h0.75M117.2 632.1h0.75M117.5 638.5h0.75M117.6 635.0h0.75M117.2 654.6h0.75M117.9 638.8h0.75M117.9 636.3h0.75M117.9 655.5h0.75M118.0 649.8h0.75M117.8 649.7h0.75M117.9 634.9h0.75M117.8 635.9h0.75M117.8 651.3h0.75M118.1 634.4h0.75M118.2 649.3h0.75M118.5 660.8h0.75M118.3 656.9h0.75M118.5 636.0h0.75M118.5 652.7h0.75M118.2 660.6h0.75M118.5 643.4h0.75M118.5 642.5h0.75M118.2 641.6h0.75M118.2 663.9h0.75M118.9 644.0h0.75M119.0 658.6h0.75M118.7 664.6h0.75M118.7 660.4h0.75M118.9 662.0h0.75M118.8 662.9h0.75M118.8 650.4h0.75M119.5 645.7h0.75M119.3 642.6h0.75M119.5 647.5h0.75M119.5 630.4h0.75M119.5 647.7h0.75M119.3 632.3h0.75M119.6 635.9h0.75M119.8 660.3h0.75M120.1 638.6h0.75M119.7 647.6h0.75M119.9 660.0h0.75M119.7 634.3h0.75M120.5 639.7h0.75M120.3 632.3h0.75M120.7 648.8h0.75M121.0 664.9h0.75M120.8 645.3h0.75M121.2 633.8h0.75M121.3 659.5h0.75M121.6 637.2h0.75M122.0 656.5h0.75M122.5 633.0h0.75M123.4 661.3h0.75M123.7 636.3h0.75M124.7 646.4h0.75M125.2 633.5h0.75M125.3 630.6h0.75M126.0 659.3h0.75M126.6 630.8h0.75M126.4 631.7h0.75M127.4 649.9h0.75M127.3 638.6h0.75M127.9 666.6h0.75M127.7 638.9h0.75M129.0 652.2h0.75M129.0 664.7h0.75M130.1 655.2h0.75M130.2 658.0h0.75M130.5 657.3h0.75M132.1 651.6h0.75M132.3 655.0h0.75M134.2 664.9h0.75M135.1 656.8h0.75M136.1 642.8h0.75M136.3 635.3h0.75M136.6 657.9h0.75M136.7 655.4h0.75M137.4 666.2h0.75M137.2 665.9h0.75M138.4 648.4h0.75M138.3 643.3h0.75M138.8 662.6h0.75M139.2 659.2h0.75M139.9 661.6h0.75M140.9 657.3h0.75M143.2 658.9h0.75M144.0 651.5h0.75M144.0 638.6h0.75M145.5 655.1h0.75M145.3 665.3h0.75M146.1 660.2h0.75M146.1 632.0h0.75M146.6 653.6h0.75M147.3 660.0h0.75M148.8 648.4h0.75M150.6 644.1h0.75M150.7 636.5h0.75M152.5 661.4h0.75M152.7 663.5h0.75M152.9 664.8h0.75M153.4 648.9h0.75M154.1 666.3h0.75M154.0 641.5h0.75M155.1 632.5h0.75M155.6 636.3h0.75M157.2 667.1h0.75M157.7 656.3h0.75M158.5 631.1h0.75M158.4 653.3h0.75M158.8 637.7h0.75M159.6 661.6h0.75M159.7 650.4h0.75M160.2 635.8h0.75M161.0 655.7h0.75M161.3 630.3h0.75M161.5 661.4h0.75M162.0 638.7h0.75M161.9 666.3h0.75M163.0 658.6h0.75M163.3 662.6h0.75M164.1 661.6h0.75M164.6 634.3h0.75M164.7 639.4h0.75M165.5 644.4h0.75M166.1 652.8h0.75M165.7 639.2h0.75M166.4 666.0h0.75M166.4 640.3h0.75M167.0 647.9h0.75M168.2 632.4h0.75M168.2 659.8h0.75M169.6 663.7h0.75M169.4 654.1h0.75M170.9 631.7h0.75M170.9 655.7h0.75M172.0 656.4h0.75M171.7 650.9h0.75M173.0 642.8h0.75M173.5 659.9h0.75M175.0 632.2h0.75M175.2 667.1h0.75M175.5 651.7h0.75M176.6 648.0h0.75M177.5 652.8h0.75M177.5 665.7h0.75M178.4 632.9h0.75M180.3 634.3h0.75M181.8 666.3h0.75M182.5 645.0h0.75M182.3 655.9h0.75M185.0 660.7h0.75M186.2 655.1h0.75" stroke="#000" stroke-opacity="0.6" stroke-width="0.75" fill="none"/>
<path d="M44.7 594.6h0.75M46.7 609.3h0.75M47.2 603.6h0.75M47.8 613.1h0.75M48.2 621.1h0.75M48.8 612.0h0.75M49.6 597.7h0.75M49.9 592.2h0.75M50.0 628.3h0.75M50.4 628.9h0.75M51.7 612.0h0.75M52.3 625.2h0.75M52.8 606.9h0.75M52.9 612.2h0.75M52.9 608.4h0.75M52.7 605.6h0.75M53.4 602.6h0.75M53.2 624.6h0.75M53.3 602.8h0.75M53.3 601.3h0.75M53.9 608.1h0.75M53.8 594.3h0.75M54.0 597.7h0.75M54.0 596.6h0.75M54.5 619.6h0.75M54.3 625.0h0.75M54.3 618.8h0.75M54.9 614.4h0.75M54.8 628.3h0.75M55.2 604.5h0.75M55.6 592.1h0.75M55.2 626.3h0.75M55.2 621.5h0.75M56.1 598.8h0.75M56.0 594.0h0.75M56.0 596.7h0.75M55.7 622.1h0.75M55.9 613.0h0.75M56.0 596.6h0.75M56.1 607.0h0.75M56.4 610.6h0.75M56.6 621.7h0.75M56.3 614.1h0.75M56.5 627.5h0.75M56.3 610.3h0.75M56.2 613.8h0.75M57.0 608.9h0.75M57.0 605.6h0.75M56.7 624.7h0.75M56.7 623.9h0.75M57.0 595.3h0.75M57.0 615.1h0.75M57.1 615.4h0.75M57.4 604.6h0.75M57.5 616.6h0.75M58.1 596.9h0.75M57.9 613.6h0.75M58.3 613.0h0.75M59.0 625.5h0.75M58.8 610.5h0.75M59.5 623.3h0.75M60.0 626.0h0.75M59.9 600.0h0.75M60.2 592.7h0.75M60.4 595.5h0.75M62.1 598.1h0.75M64.1 601.6h0.75M66.1 623.4h0.75M66.2 621.5h0.75M66.5 603.3h0.75M68.7 621.9h0.75M69.2 619.6h0.75M70.0 597.3h0.75M71.5 598.5h0.75M73.8 612.7h0.75M76.0 594.8h0.75M76.4 629.3h0.75M76.8 605.8h0.75M77.8 595.7h0.75M78.5 594.3h0.75M78.6 619.8h0.75M79.2 600.2h0.75M80.6 620.1h0.75M81.0 616.2h0.75M80.9 626.6h0.75M82.3 608.0h0.75M82.9 608.2h0.75M84.3 610.0h0.75M85.0 605.2h0.75M86.0 606.2h0.75M89.1 603.8h0.75M89.6 608.5h0.75M90.3 607.7h0.75M92.2 626.5h0.75M93.4 605.7h0.75M95.6 623.4h0.75M95.9 604.9h0.75M97.3 608.7h0.75M99.8 622.0h0.75M101.7 619.7h0.75M105.9 608.7h0.75M107.1 605.9h0.75M107.1 621.5h0.75M107.4 592.3h0.75M107.5 596.9h0.75M107.6 619.7h0.75M107.5 606.7h0.75M107.6 591.8h0.75M107.7 600.2h0.75M107.7 606.5h0.75M108.0 604.7h0.75M108.6 628.3h0.75M108.2 627.8h0.75M108.5 607.0h0.75M108.4 614.9h0.75M108.2 605.5h0.75M108.6 616.1h0.75M109.1 625.0h0.75M109.0 628.9h0.75M108.9 628.1h0.75M108.7 617.5h0.75M109.1 619.5h0.75M109.1 591.4h0.75M108.7 592.5h0.75M109.1 603.0h0.75M109.3 628.6h0.75M109.3 627.7h0.75M109.2 601.5h0.75M109.3 606.5h0.75M109.5 600.5h0.75M109.2 598.9h0.75M109.4 604.4h0.75M109.6 610.4h0.75M109.5 608.9h0.75M109.2 597.7h0.75M109.3 613.1h0.75M109.3 626.5h0.75M109.7 617.3h0.75M109.7 614.1h0.75M109.7 613.3h0.75M109.7 591.3h0.75M109.9 592.0h0.75M109.8 606.9h0.75M109.7 624.8h0.75M109.8 616.6h0.75M110.3 624.2h0.75M110.5 610.7h0.75M110.3 603.7h0.75M110.5 612.6h0.75M110.6 613.8h0.75M110.5 607.1h0.75M110.9 616.0h0.75M111.0 601.7h0.75M110.7 616.8h0.75M111.0 603.7h0.75M110.9 616.9h0.75M110.7 597.9h0.75M110.9 608.0h0.75M111.2 617.8h0.75M111.5 604.3h0.75M111.4 600.2h0.75M111.3 627.4h0.75M111.2 597.3h0.75M111.2 622.8h0.75M111.3 614.8h0.75M111.2 610.5h0.75M111.5 613.1h0.75M111.6 615.8h0.75M111.2 597.8h0.75M111.3 625.8h0.75M112.0 594.5h0.75M112.0 592.4h0.75M112.1 595.6h0.75M112.1 603.6h0.75M111.9 615.2h0.75M112.0 606.8h0.75M111.9 609.7h0.75M111.8 605.3h0.75M111.7 608.5h0.75M111.9 614.2h0.75M112.4 614.6h0.75M112.2 628.0h0.75M112.5 594.0h0.75M112.2 621.3h0.75M112.2 604.2h0.75M112.3 593.6h0.75M113.1 595.9h0.75M112.8 621.1h0.75M113.0 601.6h0.75M112.7 595.4h0.75M113.1 602.6h0.75M112.8 598.0h0.75M112.9 612.6h0.75M112.9 609.1h0.75M112.7 592.7h0.75M113.6 594.6h0.75M113.4 627.5h0.75M113.3 627.3h0.75M113.5 618.7h0.75M113.2 595.2h0.75M113.3 597.0h0.75M113.6 628.7h0.75M113.3 627.3h0.75M113.4 605.6h0.75M113.7 618.6h0.75M114.1 623.2h0.75M113.8 598.9h0.75M113.9 600.6h0.75M113.7 591.8h0.75M114.1 621.5h0.75M113.8 609.9h0.75M114.6 591.5h0.75M114.6 625.5h0.75M114.5 603.3h0.75M114.5 596.3h0.75M114.4 602.1h0.75M114.2 608.6h0.75M114.4 609.3h0.75M114.6 627.4h0.75M114.6 616.2h0.75M114.5 607.9h0.75M114.5 602.5h0.75M114.6 620.0h0.75M114.6 613.8h0.75M114.9 613.0h0.75M115.0 616.9h0.75M115.1 609.3h0.75M115.0 610.5h0.75M114.8 597.4h0.75M114.8 616.9h0.75M114.9 626.5h0.75M114.8 594.8h0.75M114.9 594.0h0.75M115.4 599.2h0.75M115.5 615.7h0.75M115.2 605.1h0.75M115.5 628.0h0.75M115.6 615.1h0.75M115.5 627.5h0.75M115.6 597.4h0.75M115.8 598.9h0.75M116.0 603.7h0.75M116.1 609.2h0.75M115.7 614.1h0.75M115.9 595.2h0.75M116.1 626.6h0.75M116.1 622.5h0.75M115.9 600.4h0.75M116.1 592.9h0.75M116.0 607.5h0.75M116.1 604.9h0.75M116.2 600.7h0.75M116.2 606.9h0.75M116.6 623.3h0.75M116.5 602.0h0.75M116.2 628.2h0.75M116.2 598.5h0.75M116.2 616.7h0.75M116.6 597.5h0.75M116.5 623.7h0.75M116.8 607.0h0.75M117.0 608.0h0.75M116.8 628.6h0.75M116.8 619.0h0.75M116.9 607.4h0.75M116.7 593.9h0.75M116.8 593.5h0.75M116.8 612.0h0.75M116.7 610.6h0.75M116.9 601.0h0.75M116.8 612.3h0.75M117.1 626.9h0.75M117.2 625.3h0.75M117.6 597.3h0.75M117.2 605.9h0.75M117.5 599.5h0.75M117.5 604.4h0.75M117.2 610.3h0.75M117.4 607.0h0.75M117.6 626.5h0.75M117.2 592.5h0.75M117.3 610.6h0.75M117.5 620.6h0.75M117.5 600.6h0.75M117.2 608.0h0.75M117.2 623.9h0.75M117.6 605.0h0.75M118.0 592.0h0.75M118.1 615.1h0.75M117.9 609.8h0.75M117.7 595.1h0.75M117.9 595.8h0.75M117.7 624.0h0.75M118.6 603.6h0.75M118.4 593.1h0.75M118.5 613.6h0.75M118.4 613.6h0.75M118.3 615.6h0.75M118.6 594.9h0.75M118.2 598.5h0.75M119.1 604.8h0.75M119.0 617.9h0.75M119.1 619.3h0.75M118.7 622.0h0.75M119.1 599.9h0.75M119.0 616.0h0.75M119.1 598.1h0.75M118.8 625.6h0.75M119.2 626.2h0.75M119.9 592.2h0.75M119.7 603.1h0.75M120.3 625.7h0.75M120.2 611.1h0.75M120.5 595.6h0.75M120.9 600.8h0.75M120.7 611.5h0.75M121.0 605.6h0.75M121.7 601.3h0.75M122.4 599.7h0.75M123.4 608.8h0.75M123.8 593.6h0.75M125.1 625.1h0.75M124.8 604.1h0.75M125.7 593.6h0.75M127.3 601.6h0.75M127.7 617.2h0.75M127.7 621.2h0.75M130.1 594.3h0.75M130.2 607.0h0.75M130.3 624.8h0.75M131.4 601.9h0.75M131.7 610.7h0.75M133.4 614.9h0.75M136.3 624.2h0.75M137.1 616.5h0.75M136.9 620.6h0.75M138.7 603.8h0.75M141.3 626.8h0.75M141.8 594.9h0.75M142.1 594.2h0.75M143.1 613.6h0.75M143.6 597.5h0.75M143.7 597.4h0.75M145.9 623.9h0.75M146.2 613.8h0.75M146.8 605.7h0.75M147.3 593.3h0.75M147.9 615.7h0.75M148.2 610.1h0.75M148.8 599.1h0.75M149.4 625.8h0.75M151.0 597.3h0.75M154.9 592.5h0.75M155.6 605.1h0.75M156.4 628.7h0.75M156.7 594.0h0.75M156.7 604.3h0.75M157.3 623.2h0.75M162.7 615.2h0.75M163.6 620.0h0.75M165.1 606.4h0.75M166.1 607.3h0.75M168.0 617.0h0.75M168.0 620.8h0.75M169.4 622.3h0.75M169.9 601.6h0.75M171.0 618.0h0.75M170.9 612.9h0.75M173.2 619.7h0.75M173.8 623.8h0.75M174.8 618.7h0.75M175.8 607.2h0.75M176.4 617.2h0.75M176.2 613.7h0.75M177.1 605.6h0.75M177.9 629.2h0.75M180.2 614.4h0.75M181.6 613.4h0.75M182.9 600.4h0.75M182.7 605.7h0.75M184.1 615.2h0.75M184.6 623.7h0.75M185.2 615.9h0.75M185.8 628.4h0.75M186.4 611.1h0.75M44.1 664.8h0.75M44.4 636.2h0.75M48.3 657.2h0.75M49.0 633.2h0.75M49.2 641.4h0.75M51.4 650.4h0.75M52.1 651.4h0.75M52.5 641.2h0.75M52.8 640.2h0.75M52.8 660.3h0.75M53.6 659.3h0.75M53.4 646.0h0.75M53.3 657.2h0.75M53.3 651.6h0.75M53.2 632.5h0.75M54.1 647.6h0.75M53.8 646.9h0.75M54.1 648.3h0.75M54.6 647.7h0.75M54.5 658.0h0.75M54.3 655.0h0.75M54.2 634.0h0.75M55.1 648.2h0.75M54.7 630.4h0.75M54.7 660.3h0.75M55.4 640.0h0.75M55.4 650.7h0.75M55.2 658.9h0.75M55.4 662.9h0.75M55.3 648.9h0.75M55.8 633.6h0.75M55.9 654.9h0.75M55.8 636.1h0.75M55.8 656.3h0.75M56.5 659.0h0.75M56.4 658.6h0.75M56.7 646.6h0.75M56.7 638.3h0.75M56.9 641.3h0.75M57.1 646.1h0.75M56.9 636.1h0.75M56.8 663.5h0.75M56.8 631.6h0.75M57.4 653.1h0.75M57.6 653.6h0.75M57.4 635.1h0.75M57.5 640.3h0.75M57.6 632.3h0.75M58.0 644.0h0.75M58.4 647.5h0.75M59.0 666.8h0.75M58.7 661.9h0.75M59.3 652.6h0.75M59.9 632.5h0.75M62.0 643.4h0.75M64.1 653.7h0.75M64.3 631.5h0.75M65.2 648.1h0.75M65.7 643.5h0.75M66.4 637.6h0.75M66.7 642.7h0.75M67.2 646.2h0.75M68.6 654.0h0.75M69.1 666.1h0.75M69.5 650.6h0.75M70.1 643.6h0.75M70.6 658.5h0.75M70.8 652.7h0.75M71.7 663.5h0.75M73.7 650.5h0.75M75.1 639.4h0.75M75.9 665.4h0.75M76.3 636.3h0.75M77.6 642.0h0.75M80.7 641.3h0.75M80.8 639.0h0.75M82.6 657.4h0.75M83.1 636.4h0.75M82.9 640.7h0.75M83.7 633.9h0.75M84.0 634.1h0.75M84.9 635.4h0.75M86.4 661.9h0.75M87.0 656.9h0.75M87.5 637.6h0.75M88.1 637.4h0.75M89.1 666.4h0.75M88.7 658.7h0.75M89.6 665.8h0.75M90.1 666.5h0.75M93.2 640.9h0.75M93.8 666.3h0.75M95.0 663.9h0.75M97.1 662.7h0.75M97.8 653.2h0.75M99.3 647.5h0.75M99.7 657.9h0.75M100.5 634.7h0.75M102.1 660.2h0.75M104.4 648.9h0.75M104.9 656.1h0.75M105.7 645.9h0.75M106.1 636.9h0.75M105.7 648.9h0.75M105.7 632.2h0.75M106.2 640.9h0.75M106.4 662.7h0.75M106.9 630.9h0.75M107.0 650.3h0.75M107.1 660.4h0.75M107.1 662.6h0.75M107.2 646.4h0.75M107.5 661.2h0.75M107.3 663.0h0.75M107.2 635.6h0.75M107.3 659.5h0.75M107.5 648.6h0.75M107.5 634.8h0.75M107.2 660.4h0.75M107.7 661.6h0.75M108.0 658.2h0.75M108.1 646.2h0.75M108.0 630.6h0.75M107.9 641.9h0.75M108.1 648.5h0.75M107.7 658.4h0.75M108.0 648.4h0.75M108.1 632.6h0.75M107.8 655.8h0.75M108.6 650.1h0.75M108.3 662.6h0.75M108.6 663.9h0.75M108.5 654.7h0.75M108.5 662.8h0.75M108.2 632.6h0.75M108.6 640.5h0.75M108.3 655.8h0.75M108.2 666.8h0.75M108.4 641.1h0.75M108.2 647.9h0.75M108.7 634.4h0.75M108.7 631.7h0.75M109.0 633.2h0.75M109.0 650.4h0.75M108.7 630.4h0.75M109.1 648.0h0.75M108.9 656.2h0.75M108.8 630.3h0.75M108.8 650.8h0.75M108.7 640.0h0.75M108.8 666.6h0.75M109.1 666.8h0.75M109.3 656.2h0.75M109.2 656.5h0.75M110.0 652.1h0.75M109.7 634.3h0.75M109.9 644.9h0.75M110.0 654.5h0.75M110.0 642.9h0.75M109.8 644.6h0.75M109.7 643.8h0.75M109.9 663.3h0.75M110.0 633.2h0.75M110.2 652.8h0.75M110.6 647.6h0.75M110.6 659.5h0.75M110.4 632.0h0.75M110.2 634.7h0.75M110.4 632.6h0.75M110.4 646.6h0.75M110.6 633.1h0.75M110.5 652.0h0.75M110.5 632.2h0.75M110.6 647.1h0.75M110.4 650.2h0.75M110.5 667.2h0.75M110.2 632.5h0.75M111.1 631.7h0.75M110.9 643.2h0.75M111.1 650.2h0.75M110.9 645.2h0.75M110.8 640.9h0.75M110.8 633.8h0.75M110.7 637.1h0.75M110.9 646.8h0.75M111.1 657.8h0.75M110.8 654.7h0.75M111.0 652.1h0.75M111.3 645.7h0.75M111.3 649.6h0.75M111.4 631.0h0.75M111.2 639.1h0.75M111.3 637.0h0.75M111.5 632.8h0.75M111.2 653.6h0.75M111.6 659.7h0.75M111.3 648.3h0.75M111.5 638.5h0.75M111.3 651.8h0.75M111.5 663.6h0.75M111.2 650.3h0.75M111.3 665.3h0.75M111.4 665.9h0.75M111.5 634.6h0.75M112.0 650.0h0.75M112.1 654.9h0.75M111.9 642.2h0.75M111.7 665.0h0.75M111.7 657.9h0.75M111.7 636.7h0.75M111.7 644.2h0.75M112.0 658.4h0.75M111.8 646.7h0.75M111.7 644.1h0.75M111.9 630.5h0.75M111.9 666.6h0.75M111.8 664.6h0.75M112.0 649.4h0.75M111.8 630.8h0.75M112.6 642.3h0.75M112.4 661.9h0.75M112.2 656.5h0.75M112.2 661.0h0.75M112.5 657.2h0.75M112.2 638.8h0.75M112.6 663.0h0.75M112.6 648.1h0.75M113.1 661.5h0.75M112.9 660.5h0.75M113.1 654.8h0.75M112.9 634.7h0.75M113.1 638.5h0.75M112.9 649.5h0.75M112.8 661.7h0.75M112.7 664.5h0.75M112.7 662.3h0.75M113.0 655.2h0.75M112.9 632.6h0.75M113.2 635.5h0.75M113.2 639.7h0.75M113.4 653.8h0.75M113.2 650.0h0.75M113.2 637.4h0.75M113.3 654.7h0.75M113.4 649.4h0.75M113.4 632.1h0.75M113.6 649.2h0.75M114.0 630.4h0.75M114.1 637.4h0.75M114.0 638.9h0.75M113.8 653.3h0.75M114.0 652.9h0.75M113.8 656.9h0.75M114.0 666.0h0.75M114.1 655.4h0.75M113.9 634.2h0.75M114.1 664.5h0.75M113.8 630.6h0.75M113.7 631.5h0.75M113.9 660.6h0.75M113.7 647.8h0.75M113.7 640.7h0.75M114.0 654.7h0.75M114.3 651.4h0.75M114.5 632.2h0.75M114.6 661.3h0.75M114.5 663.4h0.75M114.6 632.9h0.75M114.5 653.4h0.75M114.4 643.7h0.75M114.2 631.5h0.75M114.6 658.3h0.75M115.0 635.0h0.75M114.8 642.1h0.75M115.0 643.2h0.75M115.0 632.8h0.75M115.1 649.2h0.75M115.0 648.2h0.75M114.8 654.0h0.75M114.9 638.8h0.75M114.7 640.0h0.75M114.7 630.5h0.75M115.1 657.2h0.75M114.8 664.2h0.75M115.0 644.6h0.75M115.0 664.3h0.75M115.0 634.4h0.75M114.9 659.7h0.75M115.2 647.8h0.75M115.5 640.7h0.75M115.4 635.6h0.75M115.5 642.2h0.75M115.4 665.8h0.75M115.5 658.9h0.75M115.4 659.0h0.75M115.2 647.1h0.75M115.3 641.1h0.75M115.2 640.1h0.75M115.4 656.5h0.75M115.4 665.6h0.75M115.2 645.9h0.75M115.5 642.9h0.75M115.4 641.6h0.75M115.6 633.8h0.75M115.4 635.4h0.75M115.2 656.5h0.75M115.4 653.1h0.75M115.8 631.3h0.75M116.0 648.6h0.75M115.8 631.0h0.75M115.8 667.2h0.75M116.0 662.2h0.75M116.1 630.8h0.75M115.9 630.4h0.75M115.7 630.4h0.75M115.8 648.2h0.75M116.4 632.0h0.75M116.5 643.2h0.75M116.4 634.2h0.75M116.5 664.1h0.75M116.2 646.1h0.75M116.2 631.4h0.75M116.2 631.2h0.75M116.3 664.2h0.75M116.2 649.8h0.75M116.2 662.7h0.75M116.5 662.7h0.75M117.1 651.2h0.75M116.8 660.8h0.75M117.1 631.4h0.75M117.0 639.4h0.75M116.7 639.0h0.75M117.1 658.2h0.75M117.0 644.8h0.75M117.0 642.0h0.75M117.1 664.8h0.75M116.9 635.6h0.75M117.2 659.9h0.75M117.2 659.0h0.75M117.3 648.9h0.75M117.2 655.1h0.75M117.5 655.7h0.75M117.4 644.8h0.75M117.5 639.5h0.75M117.2 645.3h0.75M117.2 643.9h0.75M117.2 662.6h0.75M117.2 666.5h0.75M117.4 638.5h0.75M117.6 642.4h0.75M118.1 652.2h0.75M117.8 653.9h0.75M118.1 666.1h0.75M118.1 661.3h0.75M117.8 647.7h0.75M117.8 637.8h0.75M118.0 650.0h0.75M118.0 638.7h0.75M117.7 636.6h0.75M118.5 631.1h0.75M118.4 662.3h0.75M118.4 634.5h0.75M118.6 653.4h0.75M118.5 637.3h0.75M118.5 635.9h0.75M119.1 634.0h0.75M118.8 654.7h0.75M119.0 650.7h0.75M118.8 666.6h0.75M118.8 644.6h0.75M118.9 659.0h0.75M119.1 660.7h0.75M118.7 631.2h0.75M119.5 665.4h0.75M119.6 636.0h0.75M119.4 642.6h0.75M119.2 643.5h0.75M119.9 653.3h0.75M119.9 638.8h0.75M119.8 649.1h0.75M119.8 653.7h0.75M120.2 651.0h0.75M120.4 649.1h0.75M120.4 666.0h0.75M120.4 666.2h0.75M120.2 638.2h0.75M121.1 660.8h0.75M121.8 652.0h0.75M122.5 631.5h0.75M123.1 635.6h0.75M122.9 642.0h0.75M122.8 646.9h0.75M123.2 663.0h0.75M123.6 631.9h0.75M123.9 667.1h0.75M124.2 654.9h0.75M125.9 644.8h0.75M126.3 655.7h0.75M126.9 642.7h0.75M127.0 637.2h0.75M127.6 652.9h0.75M128.1 662.6h0.75M128.3 663.0h0.75M128.9 658.8h0.75M129.5 632.8h0.75M130.8 641.5h0.75M131.5 662.3h0.75M131.5 663.7h0.75M132.1 660.3h0.75M132.8 661.5h0.75M133.4 644.4h0.75M134.1 637.0h0.75M134.9 650.2h0.75M135.6 653.6h0.75M137.0 666.4h0.75M139.6 643.0h0.75M140.1 663.3h0.75M140.8 631.8h0.75M142.1 661.6h0.75M142.8 642.4h0.75M142.9 648.4h0.75M143.3 652.7h0.75M144.2 666.4h0.75M144.2 657.0h0.75M144.7 655.8h0.75M147.5 639.4h0.75M147.7 651.5h0.75M147.7 661.0h0.75M148.5 657.0h0.75M148.3 637.7h0.75M151.4 640.3h0.75M152.0 666.6h0.75M152.3 662.8h0.75M153.5 663.3h0.75M154.5 650.6h0.75M154.4 665.6h0.75M155.7 660.3h0.75M157.1 637.7h0.75M158.0 635.3h0.75M159.5 661.8h0.75M160.1 633.0h0.75M162.5 662.2h0.75M163.1 662.5h0.75M164.2 641.6h0.75M168.8 661.2h0.75M170.1 649.5h0.75M171.4 663.9h0.75M172.2 638.6h0.75M172.4 641.6h0.75M173.6 640.4h0.75M173.8 651.6h0.75M173.9 665.1h0.75M175.0 630.6h0.75M175.9 634.6h0.75M175.9 646.7h0.75M176.3 644.2h0.75M178.0 657.2h0.75M179.5 664.5h0.75M179.9 664.9h0.75M181.0 649.1h0.75M182.1 657.2h0.75M183.6 641.3h0.75M183.8 634.4h0.75M183.8 658.3h0.75M184.4 639.5h0.75M186.1 632.8h0.75M186.9 630.5h0.75" stroke="#000" stroke-opacity="0.35" stroke-width="0.75" fill="none"/>
<path d="M43.4 591.3V668.3H188.3" stroke="#bdbdbd" fill="none" stroke-width="1"/>
<text x="-0.15" y="606.40" font-size="8.47" textLength="41.92" lengthAdjust="spacingAndGlyphs" fill="#262626">non-animal</text>
<text x="8.46" y="660.40" font-size="8.59" textLength="25.31" lengthAdjust="spacingAndGlyphs" fill="#262626">animal</text>
<text x="0" y="0" font-size="12.64" textLength="24.10" lengthAdjust="spacingAndGlyphs" fill="#262626" transform="translate(36.90 642.05) rotate(-90)">Trial</text>
<text x="40.02" y="684.75" font-size="11.00" textLength="6.12" lengthAdjust="spacingAndGlyphs" fill="#262626">0</text>
<text x="93.91" y="684.75" font-size="11.00" textLength="15.29" lengthAdjust="spacingAndGlyphs" fill="#262626">0.2</text>
<text x="152.30" y="684.75" font-size="11.00" textLength="15.29" lengthAdjust="spacingAndGlyphs" fill="#262626">0.4</text>
<text x="88.15" y="698.60" font-size="12.37" textLength="57.95" lengthAdjust="spacingAndGlyphs" fill="#262626">Time (sec)</text>
<path d="M247.5 593.7V670H353.5" stroke="#cfcfcf" fill="none" stroke-width="1"/>
<rect x="247.40" y="665.40" width="3.1" height="4.60" fill="#fbb766" stroke="#d99a50" stroke-width="0.4"/>
<rect x="250.50" y="666.60" width="3.1" height="3.40" fill="#7db0d8" stroke="#5f8fb5" stroke-width="0.4"/>
<rect x="254.76" y="646.80" width="3.1" height="23.20" fill="#fbb766" stroke="#d99a50" stroke-width="0.4"/>
<rect x="257.86" y="656.10" width="3.1" height="13.90" fill="#7db0d8" stroke="#5f8fb5" stroke-width="0.4"/>
<rect x="262.12" y="665.00" width="3.1" height="5.00" fill="#fbb766" stroke="#d99a50" stroke-width="0.4"/>
<rect x="265.22" y="666.90" width="3.1" height="3.10" fill="#7db0d8" stroke="#5f8fb5" stroke-width="0.4"/>
<rect x="269.48" y="668.20" width="3.1" height="1.80" fill="#fbb766" stroke="#d99a50" stroke-width="0.4"/>
<rect x="272.58" y="667.00" width="3.1" height="3.00" fill="#7db0d8" stroke="#5f8fb5" stroke-width="0.4"/>
<rect x="276.84" y="668.30" width="3.1" height="1.70" fill="#fbb766" stroke="#d99a50" stroke-width="0.4"/>
<rect x="279.94" y="668.30" width="3.1" height="1.70" fill="#7db0d8" stroke="#5f8fb5" stroke-width="0.4"/>
<rect x="284.20" y="667.80" width="3.1" height="2.20" fill="#fbb766" stroke="#d99a50" stroke-width="0.4"/>
<rect x="287.30" y="668.30" width="3.1" height="1.70" fill="#7db0d8" stroke="#5f8fb5" stroke-width="0.4"/>
<rect x="291.56" y="667.00" width="3.1" height="3.00" fill="#fbb766" stroke="#d99a50" stroke-width="0.4"/>
<rect x="294.66" y="668.20" width="3.1" height="1.80" fill="#7db0d8" stroke="#5f8fb5" stroke-width="0.4"/>
<rect x="298.92" y="666.10" width="3.1" height="3.90" fill="#fbb766" stroke="#d99a50" stroke-width="0.4"/>
<rect x="302.02" y="668.50" width="3.1" height="1.50" fill="#7db0d8" stroke="#5f8fb5" stroke-width="0.4"/>
<rect x="306.28" y="659.20" width="3.1" height="10.80" fill="#fbb766" stroke="#d99a50" stroke-width="0.4"/>
<rect x="309.38" y="667.00" width="3.1" height="3.00" fill="#7db0d8" stroke="#5f8fb5" stroke-width="0.4"/>
<rect x="313.64" y="595.60" width="3.1" height="74.40" fill="#fbb766" stroke="#d99a50" stroke-width="0.4"/>
<rect x="316.74" y="618.60" width="3.1" height="51.40" fill="#7db0d8" stroke="#5f8fb5" stroke-width="0.4"/>
<rect x="321.00" y="644.00" width="3.1" height="26.00" fill="#fbb766" stroke="#d99a50" stroke-width="0.4"/>
<rect x="324.10" y="645.20" width="3.1" height="24.80" fill="#7db0d8" stroke="#5f8fb5" stroke-width="0.4"/>
<rect x="328.36" y="666.90" width="3.1" height="3.10" fill="#fbb766" stroke="#d99a50" stroke-width="0.4"/>
<rect x="331.46" y="667.00" width="3.1" height="3.00" fill="#7db0d8" stroke="#5f8fb5" stroke-width="0.4"/>
<rect x="335.72" y="668.00" width="3.1" height="2.00" fill="#fbb766" stroke="#d99a50" stroke-width="0.4"/>
<rect x="338.82" y="668.70" width="3.1" height="1.30" fill="#7db0d8" stroke="#5f8fb5" stroke-width="0.4"/>
<rect x="343.08" y="668.00" width="3.1" height="2.00" fill="#fbb766" stroke="#d99a50" stroke-width="0.4"/>
<rect x="346.18" y="668.00" width="3.1" height="2.00" fill="#7db0d8" stroke="#5f8fb5" stroke-width="0.4"/>
<rect x="323.3" y="591.1" width="8.4" height="5" fill="#fbb766"/>
<rect x="323.3" y="603.2" width="8.4" height="5" fill="#7db0d8"/>
<text x="332.19" y="597.50" font-size="10.28" textLength="30.29" lengthAdjust="spacingAndGlyphs" fill="#262626">animal</text>
<text x="331.95" y="609.60" font-size="10.07" textLength="49.83" lengthAdjust="spacingAndGlyphs" fill="#262626">non-animal</text>
<rect x="342.4" y="623.2" width="6.7000000000000455" height="28.299999999999955" fill="#fbb766"/>
<rect x="355.8" y="631.8" width="6.800000000000011" height="19.700000000000045" fill="#7db0d8"/>
<path d="M339.5 620.6V651.5H365.8" stroke="#cfcfcf" fill="none" stroke-width="0.8"/>
<text x="230.06" y="600.73" font-size="11.50" textLength="13.43" lengthAdjust="spacingAndGlyphs" fill="#262626">34</text>
<text x="236.82" y="675.62" font-size="11.50" textLength="6.72" lengthAdjust="spacingAndGlyphs" fill="#262626">0</text>
<text x="244.42" y="685.85" font-size="11.00" textLength="6.12" lengthAdjust="spacingAndGlyphs" fill="#262626">0</text>
<text x="298.71" y="685.85" font-size="11.00" textLength="15.29" lengthAdjust="spacingAndGlyphs" fill="#262626">0.2</text>
<text x="272.06" y="699.80" font-size="12.22" textLength="57.24" lengthAdjust="spacingAndGlyphs" fill="#262626">Time (sec)</text>
<text x="0" y="0" font-size="12.19" textLength="84.64" lengthAdjust="spacingAndGlyphs" fill="#262626" transform="translate(227.80 673.87) rotate(-90)">Firing Rate [Hz]</text>
<path d="M441.5 584.8V667H522.6" stroke="#d0d0d0" fill="none" stroke-width="0.9"/>
<path d="M442.2 596.2 L443.0 602.3 L443.8 607.2" stroke="#000" stroke-width="1.1" fill="none"/>
<circle cx="442.2" cy="596.2" r="1.35" fill="#000"/>
<circle cx="443" cy="602.3" r="1.35" fill="#000"/>
<path d="M443.8 607.2 L444.9 607.5 L445.3 610.1 L446.0 612.3 L447.5 613.4 L448.9 614.1 L449.7 617.4 L451.9 618.1 L453.7 620.3 L455.9 622.1 L457.7 623.6 L459.9 624.3 L462.1 625.8 L464.6 625.8 L465.7 628.0 L468.7 628.7 L471.6 630.1 L474.5 630.9 L478.1 631.6 L481.8 632.3 L483.6 633.0 L487.3 634.9 L489.5 634.5 L492.4 636.3 L495.3 637.4 L499.0 639.6 L504.1 641.1 L506.3 640.9 L509.9 642.2 L512.8 644.0 L515.8 646.5 L517.2 649.1 L519.4 651.6 L520.9 652.7 L522.2 654.9" stroke="#000" stroke-width="2.2" fill="none" stroke-linejoin="round" stroke-linecap="round"/>
<text x="430.72" y="672.05" font-size="11.00" textLength="6.61" lengthAdjust="spacingAndGlyphs" fill="#262626">0</text>
<text x="430.78" y="638.75" font-size="11.00" textLength="6.61" lengthAdjust="spacingAndGlyphs" fill="#262626">5</text>
<text x="424.13" y="605.55" font-size="11.00" textLength="13.21" lengthAdjust="spacingAndGlyphs" fill="#262626">10</text>
<text x="438.22" y="682.05" font-size="11.00" textLength="6.12" lengthAdjust="spacingAndGlyphs" fill="#262626">0</text>
<text x="475.67" y="682.05" font-size="11.00" textLength="12.24" lengthAdjust="spacingAndGlyphs" fill="#262626">50</text>
<text x="513.02" y="682.05" font-size="11.00" textLength="18.35" lengthAdjust="spacingAndGlyphs" fill="#262626">100</text>
<text x="448.09" y="696.40" font-size="12.28" textLength="66.23" lengthAdjust="spacingAndGlyphs" fill="#262626">Image Rank</text>
<text x="0" y="0" font-size="12.24" textLength="85.05" lengthAdjust="spacingAndGlyphs" fill="#262626" transform="translate(422.50 668.58) rotate(-90)">Firing Rate [Hz]</text>
<rect x="538" y="583.1" width="112.29999999999995" height="37.60000000000002" fill="#979797"/>
<rect x="538" y="635.2" width="112.29999999999995" height="36.39999999999998" fill="#979797"/>
<path d="M545 597.5l5 -1M552 599v7M556 599l0.5 10M561 599l1 5M563 598l4 4M558 596l3 -2" stroke="#d8d8d8" stroke-width="0.6" fill="none"/>
<ellipse cx="558" cy="596.5" rx="6.5" ry="2.6" fill="#a9a9a9" fill-opacity="1" transform="rotate(-5 558 596.5)"/>
<path d="M554.2 595.8l0.6 2.1M560.3 594.3l1.2 1.9M554.3 596.3l1.4 -0.4M559.4 596.5l-2.2 -1.6M555.5 597.4l-2.3 0.6M555.9 594.6l0.1 -1.3M564.4 596.2l2.1 0.6M560.4 596.5l-0.9 2.7M553.9 598.3l-1.6 -0.5M556.5 596.8l1.2 -1.8M559.7 597.5l1.8 0.4M552.1 596.6l-2.3 -0.5" stroke="#4a4a4a" stroke-width="0.6" stroke-opacity="1.0" fill="none" stroke-linecap="round"/>
<path d="M553.4 597.1l-2.8 0.6M553.0 596.4l-1.4 -0.1M554.0 594.8l-0.4 1.1M562.9 597.8l2.3 0.6M564.3 596.2l-1.7 -1.5M558.4 596.8l1.9 0.8M559.2 597.7l-1.0 0.2M552.4 597.4l-1.3 -1.6" stroke="#eee" stroke-width="0.6" stroke-opacity="1.0" fill="none" stroke-linecap="round"/>
<path d="M577.5 598l5 0.5l3 2.5M580 605l4 -2.5M586 605l-2 3M599 603l2 4M601 597.5l4 -2l4 1l2 3M600 599l2 -2" stroke="#333" stroke-width="0.7" fill="none"/>
<ellipse cx="587.5" cy="601.5" rx="3.2" ry="1.8" fill="#3a3a3a" fill-opacity="1" transform="rotate(0 587.5 601.5)"/>
<ellipse cx="595.5" cy="601.5" rx="3.5" ry="1.7" fill="#4a4a4a" fill-opacity="1" transform="rotate(0 595.5 601.5)"/>
<path d="M585.9 601.8l1.5 1.8M595.8 601.6l0.6 -1.4M589.5 599.9l-1.1 -1.8M594.3 602.7l1.1 -0.7M597.4 602.2l-0.4 -1.1M589.2 602.7l2.7 0.3M597.7 602.3l1.7 1.1M598.3 601.3l-1.1 0.6" stroke="#e0e0e0" stroke-width="0.6" stroke-opacity="1.0" fill="none" stroke-linecap="round"/>
<path d="M628 602c-5 -2 -9 -6 -11 -12M628 603c-5 3 -8 6 -9.5 11M632 600l2 -4M632 605l2 4M638 599l3 -2M638 605l3 2M643 600l1.5 -2" stroke="#2a2a2a" stroke-width="0.55" fill="none"/>
<ellipse cx="636" cy="602.5" rx="8" ry="2.9" fill="#595959" fill-opacity="1" transform="rotate(0 636 602.5)"/>
<ellipse cx="636" cy="602.5" rx="8" ry="2.9" fill="none" stroke="#1e1e1e" stroke-width="0.8"/>
<ellipse cx="636.5" cy="602.5" rx="4.5" ry="1.3" fill="#b5b5b5" fill-opacity="1" transform="rotate(0 636.5 602.5)"/>
<path d="M547 650q4 -5 12 -4q7 1 8 6q-3 6 -10 8q-7 1 -10 -4z" fill="#6e6e6e" stroke="#2a2a2a" stroke-width="0.9"/>
<path d="M548 654q8 -5 17 -3M549 657q8 -4 15 -3M551 649q6 -2 12 0" stroke="#bdbdbd" stroke-width="0.9" fill="none"/>
<path d="M548 652q8 -4 17 -2M550 659q7 -2 12 -5" stroke="#262626" stroke-width="0.8" fill="none"/>
<g fill="#c4c4c4" stroke="#777" stroke-width="0.5"><ellipse cx="590" cy="650" rx="3.2" ry="3.5"/><ellipse cx="598.5" cy="650.5" rx="3.3" ry="3.6"/><ellipse cx="588" cy="657.5" rx="4" ry="1.8" transform="rotate(-30 588 657.5)"/><ellipse cx="599.5" cy="658" rx="4.2" ry="1.6" transform="rotate(35 599.5 658)"/></g>
<path d="M594.8 653.9l1.4 2.1M595.0 653.9l-1.2 -2.5M599.0 649.3l-0.8 1.3M592.9 650.9l0.2 1.5M598.7 649.6l0.4 2.6M599.1 652.0l-1.4 0.4M592.0 654.8l-1.4 1.6M587.0 651.5l-1.9 1.3M599.2 649.5l1.9 -0.7M597.0 654.3l1.2 -0.5" stroke="#666" stroke-width="0.5" stroke-opacity="1.0" fill="none" stroke-linecap="round"/>
<circle cx="594" cy="654" r="1.3" fill="#333"/>
<path d="M627 646.5h9l4.2 3.2l-1.2 2.8l-2.6 -1v10h-10v-10l-2.6 1l-1.2 -2.8z" fill="#555" stroke="#333" stroke-width="0.5"/>
<path d="M631.5 647v14" stroke="#aaa" stroke-width="1"/>
<path d="M629.7 658.2l-1.7 0.6M628.8 657.6l-1.0 -1.1M633.7 655.2l1.0 1.3M631.4 651.7l2.5 -0.7M631.4 660.7l-1.3 -2.3M634.2 655.7l-0.6 2.2M631.9 658.3l0.4 -1.5M630.0 658.2l2.2 -0.7M631.3 656.2l1.5 -2.6M632.2 650.8l0.8 1.2M630.6 658.8l-0.4 -1.1M631.4 654.3l-2.7 0.1M633.9 653.0l-2.5 0.7M629.4 652.2l0.6 0.8" stroke="#888" stroke-width="0.5" stroke-opacity="1.0" fill="none" stroke-linecap="round"/>
<text x="13.05" y="729.30" font-size="21.24" textLength="13.90" lengthAdjust="spacingAndGlyphs" fill="#000">h</text>
<text x="86.50" y="733.00" font-size="14.06" textLength="38.42" lengthAdjust="spacingAndGlyphs" fill="#000">Shape</text>
<text x="64.53" y="751.20" font-size="13.49" textLength="82.13" lengthAdjust="spacingAndGlyphs" fill="#000">Compactness</text>
<text x="250.70" y="733.20" font-size="13.92" textLength="38.42" lengthAdjust="spacingAndGlyphs" fill="#000">Shape</text>
<text x="233.79" y="751.40" font-size="14.91" textLength="71.15" lengthAdjust="spacingAndGlyphs" fill="#000">Eccentricity</text>
<text x="419.62" y="730.60" font-size="13.35" textLength="46.21" lengthAdjust="spacingAndGlyphs" fill="#000">Texture</text>
<text x="383.17" y="748.80" font-size="13.72" textLength="118.64" lengthAdjust="spacingAndGlyphs" fill="#000">Standard Deviation</text>
<text x="566.14" y="737.50" font-size="13.63" textLength="95.08" lengthAdjust="spacingAndGlyphs" fill="#000">Image Intensity</text>
<text x="0" y="0" font-size="14.23" textLength="98.85" lengthAdjust="spacingAndGlyphs" fill="#262626" transform="translate(18.00 860.74) rotate(-90)">Firing Rate [Hz]</text>
<text x="0" y="0" font-size="14.90" textLength="69.47" lengthAdjust="spacingAndGlyphs" fill="#262626" transform="translate(36.30 846.77) rotate(-90)">mean <tspan fill="#8c8c8c">&#177;</tspan> se</text>
<path d="M52.5 761V862.4H157.6" stroke="#c8c8c8" fill="none" stroke-width="0.9"/>
<rect x="57.8" y="826.6" width="8.8" height="35.8" fill="#4cb0fa" stroke="#3a6f99" stroke-width="0.6"/>
<line x1="62.2" y1="823.0" x2="62.2" y2="830.6" stroke="#111" stroke-width="1.6"/>
<rect x="78.9" y="811.1" width="8.8" height="51.3" fill="#4cb0fa" stroke="#3a6f99" stroke-width="0.6"/>
<line x1="83.3" y1="806.4" x2="83.3" y2="815.9" stroke="#111" stroke-width="1.6"/>
<rect x="100.1" y="799.8" width="8.8" height="62.6" fill="#4cb0fa" stroke="#3a6f99" stroke-width="0.6"/>
<line x1="104.5" y1="794.0" x2="104.5" y2="805.6" stroke="#111" stroke-width="1.6"/>
<rect x="121.2" y="820.3" width="8.8" height="42.1" fill="#4cb0fa" stroke="#3a6f99" stroke-width="0.6"/>
<line x1="125.7" y1="815.9" x2="125.7" y2="824.0" stroke="#111" stroke-width="1.6"/>
<rect x="142.4" y="781.5" width="8.8" height="80.9" fill="#4cb0fa" stroke="#3a6f99" stroke-width="0.6"/>
<line x1="146.8" y1="774.9" x2="146.8" y2="788.0" stroke="#111" stroke-width="1.6"/>
<text x="40.25" y="788.18" font-size="12.80" textLength="7.83" lengthAdjust="spacingAndGlyphs" fill="#262626">8</text>
<text x="40.18" y="867.78" font-size="12.80" textLength="7.83" lengthAdjust="spacingAndGlyphs" fill="#262626">0</text>
<rect x="41.9" y="876.1" width="124.9" height="26.099999999999955" fill="#4b4b4b" stroke="#111" stroke-width="1.2"/>
<circle cx="54.7" cy="889.1" r="3.3" fill="#d2d2d2"/>
<g fill="#d2d2d2"><ellipse cx="79.7" cy="890.4" rx="4.2" ry="2.1"/><ellipse cx="79.9" cy="887.1" rx="1.4" ry="2.1"/><circle cx="77.1" cy="891.1" r="1.8"/></g>
<path d="M99.5 888.6Q102.7 887.9 103.6 884.9Q105.2 889.1 109.4 889.6Q105.7 890.4 106.3 895.1Q104.4 890.4 99.5 888.6z" fill="#d2d2d2"/>
<path d="M129.1 889.1l4.6 0.1M129.1 889.1l4.7 1.4M129.1 889.1l4.3 2.3M129.1 889.1l3.6 2.3M129.1 889.1l2.5 3.8M129.1 889.1l1.4 3.5M129.1 889.1l0.9 3.8M129.1 889.1l-0.0 4.4M129.1 889.1l-0.5 3.9M129.1 889.1l-1.9 4.5M129.1 889.1l-2.5 2.9M129.1 889.1l-3.1 2.2M129.1 889.1l-3.4 1.6M129.1 889.1l-4.6 1.5M129.1 889.1l-3.9 0.2M129.1 889.1l-4.6 -1.5M129.1 889.1l-4.5 -2.0M129.1 889.1l-3.5 -2.9M129.1 889.1l-3.3 -3.7M129.1 889.1l-2.0 -4.5M129.1 889.1l-0.6 -4.0M129.1 889.1l-0.1 -3.8M129.1 889.1l0.6 -3.6M129.1 889.1l1.8 -4.1M129.1 889.1l2.5 -3.8M129.1 889.1l3.1 -2.6M129.1 889.1l4.0 -1.6M129.1 889.1l4.1 -1.1" stroke="#9a9a9a" stroke-width="0.7"/><circle cx="129.1" cy="889.1" r="3.4" fill="url(#fz)"/>
<path d="M153.9 889.1l4.8 0.2M153.9 889.1l4.3 1.8M153.9 889.1l7.0 5.1M153.9 889.1l6.2 5.7M153.9 889.1l3.3 6.6M153.9 889.1l1.2 4.6M153.9 889.1l-0.6 9.3M153.9 889.1l-2.9 7.8M153.9 889.1l-6.7 6.3M153.9 889.1l-5.1 3.6M153.9 889.1l-8.1 2.3M153.9 889.1l-8.2 0.8M153.9 889.1l-8.2 -3.1M153.9 889.1l-8.3 -4.1M153.9 889.1l-4.5 -4.3M153.9 889.1l-3.6 -8.4M153.9 889.1l-1.6 -9.0M153.9 889.1l0.9 -6.0M153.9 889.1l2.0 -5.0M153.9 889.1l3.0 -4.3M153.9 889.1l8.2 -4.8M153.9 889.1l4.4 -1.7" stroke="#a0a0a0" stroke-width="0.5"/><circle cx="153.9" cy="889.1" r="2.6" fill="url(#fz)"/>
<path d="M218.1 761V862.4H323.2" stroke="#a0a0a0" fill="none" stroke-width="0.9"/>
<rect x="224.1" y="826.6" width="8.8" height="35.8" fill="#4cb0fa" stroke="#3a6f99" stroke-width="0.6"/>
<line x1="228.5" y1="823.0" x2="228.5" y2="830.3" stroke="#111" stroke-width="1.6"/>
<rect x="245.1" y="816.1" width="8.8" height="46.3" fill="#4cb0fa" stroke="#3a6f99" stroke-width="0.6"/>
<line x1="249.5" y1="810.9" x2="249.5" y2="821.4" stroke="#111" stroke-width="1.6"/>
<rect x="266.1" y="805.1" width="8.8" height="57.3" fill="#4cb0fa" stroke="#3a6f99" stroke-width="0.6"/>
<line x1="270.5" y1="799.8" x2="270.5" y2="810.4" stroke="#111" stroke-width="1.6"/>
<rect x="287.1" y="796.2" width="8.8" height="66.2" fill="#4cb0fa" stroke="#3a6f99" stroke-width="0.6"/>
<line x1="291.5" y1="792.5" x2="291.5" y2="799.8" stroke="#111" stroke-width="1.6"/>
<rect x="308.1" y="774.1" width="8.8" height="88.3" fill="#4cb0fa" stroke="#3a6f99" stroke-width="0.6"/>
<line x1="312.5" y1="767.8" x2="312.5" y2="780.1" stroke="#111" stroke-width="1.6"/>
<text x="204.45" y="779.56" font-size="15.60" textLength="9.11" lengthAdjust="spacingAndGlyphs" fill="#262626">9</text>
<text x="204.48" y="868.86" font-size="15.60" textLength="9.11" lengthAdjust="spacingAndGlyphs" fill="#262626">0</text>
<rect x="210.0" y="876.1" width="125.2" height="26.099999999999955" fill="#4b4b4b" stroke="#111" stroke-width="1.2"/>
<ellipse cx="222.8" cy="889.1" rx="3.1" ry="3.1" fill="#d0d0d0"/>
<ellipse cx="247.6" cy="889.1" rx="4.1" ry="2.3" fill="#d0d0d0"/>
<ellipse cx="272.4" cy="889.1" rx="5.5" ry="1.9" fill="#d0d0d0"/>
<ellipse cx="297.2" cy="889.1" rx="6.8" ry="1.5" fill="#d0d0d0"/>
<ellipse cx="322.0" cy="889.1" rx="7.5" ry="1.4" fill="#d0d0d0"/>
<path d="M383.6 761V862.4H488.7" stroke="#a0a0a0" fill="none" stroke-width="0.9"/>
<rect x="390.2" y="791.4" width="8.8" height="71.0" fill="#4cb0fa" stroke="#3a6f99" stroke-width="0.6"/>
<line x1="394.6" y1="780.1" x2="394.6" y2="803.3" stroke="#111" stroke-width="1.6"/>
<rect x="411.2" y="789.3" width="8.8" height="73.1" fill="#4cb0fa" stroke="#3a6f99" stroke-width="0.6"/>
<line x1="415.6" y1="779.3" x2="415.6" y2="799.8" stroke="#111" stroke-width="1.6"/>
<rect x="432.2" y="799.3" width="8.8" height="63.1" fill="#4cb0fa" stroke="#3a6f99" stroke-width="0.6"/>
<line x1="436.6" y1="789.9" x2="436.6" y2="809.0" stroke="#111" stroke-width="1.6"/>
<rect x="453.2" y="800.4" width="8.8" height="62.0" fill="#4cb0fa" stroke="#3a6f99" stroke-width="0.6"/>
<line x1="457.6" y1="790.6" x2="457.6" y2="810.9" stroke="#111" stroke-width="1.6"/>
<rect x="474.2" y="779.3" width="8.8" height="83.1" fill="#4cb0fa" stroke="#3a6f99" stroke-width="0.6"/>
<line x1="478.6" y1="766.2" x2="478.6" y2="792.5" stroke="#111" stroke-width="1.6"/>
<text x="370.66" y="789.26" font-size="15.60" textLength="9.11" lengthAdjust="spacingAndGlyphs" fill="#262626">8</text>
<text x="370.48" y="868.76" font-size="15.60" textLength="9.11" lengthAdjust="spacingAndGlyphs" fill="#262626">0</text>
<rect x="376.90000000000003" y="876.1" width="125.69999999999997" height="26.099999999999955" fill="#4b4b4b" stroke="#111" stroke-width="1.2"/>
<path d="M385 882.5h1M391 882.5h1M392 882.5h1M393 882.5h1M395 882.5h1M397 882.5h1M382 883.5h1M385 883.5h1M388 883.5h1M389 883.5h1M391 883.5h1M392 883.5h1M394 883.5h1M395 883.5h1M397 883.5h1M386 884.5h1M387 884.5h1M389 884.5h1M390 884.5h1M391 884.5h1M394 884.5h1M395 884.5h1M397 884.5h1M382 885.5h1M385 885.5h1M386 885.5h1M387 885.5h1M388 885.5h1M390 885.5h1M392 885.5h1M393 885.5h1M394 885.5h1M385 886.5h1M387 886.5h1M394 886.5h1M395 886.5h1M396 886.5h1M385 887.5h1M386 887.5h1M387 887.5h1M388 887.5h1M390 887.5h1M392 887.5h1M387 888.5h1M389 888.5h1M390 888.5h1M394 888.5h1M395 888.5h1M396 888.5h1M397 888.5h1M382 889.5h1M383 889.5h1M385 889.5h1M387 889.5h1M388 889.5h1M389 889.5h1M390 889.5h1M392 889.5h1M393 889.5h1M395 889.5h1M396 889.5h1M383 890.5h1M386 890.5h1M392 890.5h1M393 890.5h1M382 891.5h1M383 891.5h1M386 891.5h1M389 891.5h1M392 891.5h1M393 891.5h1M397 891.5h1M382 892.5h1M383 892.5h1M384 892.5h1M386 892.5h1M387 892.5h1M388 892.5h1M389 892.5h1M391 892.5h1M395 892.5h1M383 893.5h1M384 893.5h1M386 893.5h1M389 893.5h1M393 893.5h1M395 893.5h1M382 894.5h1M383 894.5h1M384 894.5h1M387 894.5h1M388 894.5h1M392 894.5h1M394 894.5h1M395 894.5h1M396 894.5h1M397 894.5h1M382 895.5h1M384 895.5h1M388 895.5h1M391 895.5h1M393 895.5h1M395 895.5h1M396 895.5h1M382 896.5h1M384 896.5h1M390 896.5h1M392 896.5h1M394 896.5h1M395 896.5h1M384 897.5h1M385 897.5h1M389 897.5h1M391 897.5h1M392 897.5h1M395 897.5h1M396 897.5h1M397 897.5h1" stroke="rgb(126,126,126)" stroke-width="1"/>
<path d="M382 882.5h1M383 882.5h1M384 882.5h1M386 882.5h1M387 882.5h1M388 882.5h1M389 882.5h1M390 882.5h1M394 882.5h1M396 882.5h1M383 883.5h1M384 883.5h1M386 883.5h1M387 883.5h1M390 883.5h1M393 883.5h1M396 883.5h1M382 884.5h1M383 884.5h1M384 884.5h1M385 884.5h1M388 884.5h1M392 884.5h1M393 884.5h1M396 884.5h1M383 885.5h1M384 885.5h1M389 885.5h1M391 885.5h1M395 885.5h1M396 885.5h1M397 885.5h1M382 886.5h1M383 886.5h1M384 886.5h1M386 886.5h1M388 886.5h1M389 886.5h1M390 886.5h1M391 886.5h1M392 886.5h1M393 886.5h1M397 886.5h1M382 887.5h1M383 887.5h1M384 887.5h1M389 887.5h1M391 887.5h1M393 887.5h1M394 887.5h1M395 887.5h1M396 887.5h1M397 887.5h1M382 888.5h1M383 888.5h1M384 888.5h1M385 888.5h1M386 888.5h1M388 888.5h1M391 888.5h1M392 888.5h1M393 888.5h1M384 889.5h1M386 889.5h1M391 889.5h1M394 889.5h1M397 889.5h1M382 890.5h1M384 890.5h1M385 890.5h1M387 890.5h1M388 890.5h1M389 890.5h1M390 890.5h1M391 890.5h1M394 890.5h1M395 890.5h1M396 890.5h1M397 890.5h1M384 891.5h1M385 891.5h1M387 891.5h1M388 891.5h1M390 891.5h1M391 891.5h1M394 891.5h1M395 891.5h1M396 891.5h1M385 892.5h1M390 892.5h1M392 892.5h1M393 892.5h1M394 892.5h1M396 892.5h1M397 892.5h1M382 893.5h1M385 893.5h1M387 893.5h1M388 893.5h1M390 893.5h1M391 893.5h1M392 893.5h1M394 893.5h1M396 893.5h1M397 893.5h1M385 894.5h1M386 894.5h1M389 894.5h1M390 894.5h1M391 894.5h1M393 894.5h1M383 895.5h1M385 895.5h1M386 895.5h1M387 895.5h1M389 895.5h1M390 895.5h1M392 895.5h1M394 895.5h1M397 895.5h1M383 896.5h1M385 896.5h1M386 896.5h1M387 896.5h1M388 896.5h1M389 896.5h1M391 896.5h1M393 896.5h1M396 896.5h1M397 896.5h1M382 897.5h1M383 897.5h1M386 897.5h1M387 897.5h1M388 897.5h1M390 897.5h1M393 897.5h1M394 897.5h1" stroke="rgb(138,138,138)" stroke-width="1"/>
<path d="M414 883.5h1M418 886.5h1M416 891.5h1M420 892.5h1M414 893.5h1M415 895.5h1" stroke="rgb(114,114,114)" stroke-width="1"/>
<path d="M411 882.5h1M415 882.5h1M416 882.5h1M418 882.5h1M422 882.5h1M409 883.5h1M416 883.5h1M418 883.5h1M421 883.5h1M422 883.5h1M409 884.5h1M416 884.5h1M417 884.5h1M422 884.5h1M411 885.5h1M412 885.5h1M413 885.5h1M414 885.5h1M419 885.5h1M417 886.5h1M421 886.5h1M422 886.5h1M408 887.5h1M415 887.5h1M416 887.5h1M417 887.5h1M420 887.5h1M409 888.5h1M410 888.5h1M413 888.5h1M414 888.5h1M416 888.5h1M419 888.5h1M420 888.5h1M421 888.5h1M422 888.5h1M409 889.5h1M413 889.5h1M415 889.5h1M417 889.5h1M418 889.5h1M419 889.5h1M408 890.5h1M414 890.5h1M420 890.5h1M411 891.5h1M412 891.5h1M417 891.5h1M422 891.5h1M408 892.5h1M412 892.5h1M413 892.5h1M414 892.5h1M422 892.5h1M412 893.5h1M416 893.5h1M417 893.5h1M422 893.5h1M411 894.5h1M413 894.5h1M415 894.5h1M418 894.5h1M422 894.5h1M409 895.5h1M411 895.5h1M416 895.5h1M418 895.5h1M420 895.5h1M422 895.5h1M411 896.5h1M412 896.5h1M414 896.5h1M417 896.5h1M419 896.5h1M408 897.5h1M414 897.5h1M418 897.5h1" stroke="rgb(126,126,126)" stroke-width="1"/>
<path d="M407 882.5h1M408 882.5h1M409 882.5h1M410 882.5h1M412 882.5h1M413 882.5h1M414 882.5h1M419 882.5h1M421 882.5h1M407 883.5h1M408 883.5h1M411 883.5h1M413 883.5h1M417 883.5h1M419 883.5h1M420 883.5h1M407 884.5h1M408 884.5h1M410 884.5h1M411 884.5h1M412 884.5h1M413 884.5h1M414 884.5h1M418 884.5h1M421 884.5h1M407 885.5h1M408 885.5h1M409 885.5h1M410 885.5h1M417 885.5h1M418 885.5h1M420 885.5h1M422 885.5h1M407 886.5h1M408 886.5h1M409 886.5h1M411 886.5h1M412 886.5h1M413 886.5h1M415 886.5h1M419 886.5h1M420 886.5h1M407 887.5h1M409 887.5h1M410 887.5h1M411 887.5h1M412 887.5h1M413 887.5h1M414 887.5h1M418 887.5h1M419 887.5h1M422 887.5h1M407 888.5h1M408 888.5h1M411 888.5h1M412 888.5h1M417 888.5h1M418 888.5h1M407 889.5h1M410 889.5h1M411 889.5h1M412 889.5h1M414 889.5h1M416 889.5h1M421 889.5h1M422 889.5h1M407 890.5h1M411 890.5h1M412 890.5h1M413 890.5h1M415 890.5h1M416 890.5h1M417 890.5h1M418 890.5h1M419 890.5h1M421 890.5h1M422 890.5h1M407 891.5h1M408 891.5h1M409 891.5h1M413 891.5h1M414 891.5h1M418 891.5h1M419 891.5h1M420 891.5h1M421 891.5h1M407 892.5h1M409 892.5h1M411 892.5h1M415 892.5h1M416 892.5h1M417 892.5h1M418 892.5h1M419 892.5h1M421 892.5h1M407 893.5h1M409 893.5h1M411 893.5h1M413 893.5h1M415 893.5h1M418 893.5h1M419 893.5h1M420 893.5h1M407 894.5h1M408 894.5h1M410 894.5h1M412 894.5h1M414 894.5h1M416 894.5h1M417 894.5h1M419 894.5h1M421 894.5h1M407 895.5h1M408 895.5h1M410 895.5h1M412 895.5h1M414 895.5h1M417 895.5h1M419 895.5h1M421 895.5h1M407 896.5h1M408 896.5h1M409 896.5h1M413 896.5h1M415 896.5h1M418 896.5h1M422 896.5h1M409 897.5h1M411 897.5h1M412 897.5h1M413 897.5h1M419 897.5h1M420 897.5h1M421 897.5h1" stroke="rgb(138,138,138)" stroke-width="1"/>
<path d="M417 882.5h1M420 882.5h1M410 883.5h1M412 883.5h1M415 883.5h1M415 884.5h1M419 884.5h1M420 884.5h1M415 885.5h1M416 885.5h1M421 885.5h1M410 886.5h1M414 886.5h1M416 886.5h1M421 887.5h1M415 888.5h1M408 889.5h1M409 890.5h1M410 890.5h1M410 891.5h1M415 891.5h1M410 892.5h1M408 893.5h1M410 893.5h1M421 893.5h1M409 894.5h1M420 894.5h1M413 895.5h1M410 896.5h1M416 896.5h1M420 896.5h1M421 896.5h1M407 897.5h1M410 897.5h1M415 897.5h1M416 897.5h1M417 897.5h1M422 897.5h1" stroke="rgb(150,150,150)" stroke-width="1"/>
<path d="M420 889.5h1" stroke="rgb(162,162,162)" stroke-width="1"/>
<path d="M444 884.5h1M447 885.5h1M446 893.5h1" stroke="rgb(102,102,102)" stroke-width="1"/>
<path d="M441 882.5h1M444 882.5h1M432 883.5h1M444 883.5h1M434 884.5h1M435 884.5h1M438 884.5h1M443 884.5h1M447 884.5h1M443 885.5h1M434 886.5h1M439 886.5h1M439 888.5h1M440 888.5h1M444 888.5h1M444 889.5h1M447 890.5h1M439 892.5h1M441 892.5h1M445 892.5h1M435 894.5h1M447 895.5h1M432 896.5h1M437 896.5h1M437 897.5h1M446 897.5h1" stroke="rgb(114,114,114)" stroke-width="1"/>
<path d="M433 882.5h1M435 882.5h1M436 882.5h1M439 882.5h1M443 882.5h1M446 882.5h1M447 882.5h1M434 883.5h1M441 883.5h1M443 883.5h1M447 883.5h1M433 884.5h1M440 884.5h1M433 885.5h1M442 885.5h1M445 885.5h1M441 886.5h1M443 886.5h1M432 887.5h1M435 887.5h1M436 887.5h1M438 887.5h1M441 887.5h1M434 888.5h1M435 888.5h1M441 888.5h1M446 888.5h1M433 889.5h1M436 889.5h1M442 889.5h1M445 889.5h1M446 889.5h1M447 889.5h1M433 890.5h1M434 890.5h1M437 890.5h1M441 890.5h1M437 891.5h1M438 891.5h1M440 891.5h1M445 891.5h1M432 892.5h1M433 892.5h1M434 892.5h1M435 892.5h1M440 892.5h1M442 892.5h1M443 892.5h1M444 892.5h1M446 892.5h1M437 893.5h1M440 893.5h1M444 893.5h1M433 894.5h1M434 894.5h1M444 894.5h1M432 895.5h1M436 895.5h1M438 895.5h1M440 895.5h1M446 895.5h1M440 896.5h1M441 896.5h1M443 896.5h1M447 896.5h1M434 897.5h1M435 897.5h1M441 897.5h1" stroke="rgb(126,126,126)" stroke-width="1"/>
<path d="M434 882.5h1M440 882.5h1M442 882.5h1M435 883.5h1M439 883.5h1M440 883.5h1M442 883.5h1M445 883.5h1M446 883.5h1M436 884.5h1M437 884.5h1M441 884.5h1M435 885.5h1M441 885.5h1M432 886.5h1M433 886.5h1M435 886.5h1M436 886.5h1M437 886.5h1M444 886.5h1M445 886.5h1M434 887.5h1M437 887.5h1M444 887.5h1M445 887.5h1M447 887.5h1M433 888.5h1M438 888.5h1M445 888.5h1M434 889.5h1M435 889.5h1M438 889.5h1M439 889.5h1M441 889.5h1M436 890.5h1M438 890.5h1M439 890.5h1M440 890.5h1M444 890.5h1M446 890.5h1M432 891.5h1M433 891.5h1M439 891.5h1M442 891.5h1M447 891.5h1M447 892.5h1M434 893.5h1M438 893.5h1M436 894.5h1M438 894.5h1M440 894.5h1M442 894.5h1M445 894.5h1M446 894.5h1M435 895.5h1M439 895.5h1M443 895.5h1M444 895.5h1M445 895.5h1M433 896.5h1M434 896.5h1M439 896.5h1M432 897.5h1M436 897.5h1M438 897.5h1M445 897.5h1M447 897.5h1" stroke="rgb(138,138,138)" stroke-width="1"/>
<path d="M445 882.5h1M433 883.5h1M436 883.5h1M437 883.5h1M438 883.5h1M445 884.5h1M437 885.5h1M444 885.5h1M438 886.5h1M440 886.5h1M442 886.5h1M446 886.5h1M433 887.5h1M439 887.5h1M442 887.5h1M443 887.5h1M432 888.5h1M436 888.5h1M437 888.5h1M443 888.5h1M437 889.5h1M440 889.5h1M443 889.5h1M432 890.5h1M435 890.5h1M442 890.5h1M443 890.5h1M445 890.5h1M435 891.5h1M441 891.5h1M443 891.5h1M444 891.5h1M446 891.5h1M436 892.5h1M438 892.5h1M433 893.5h1M435 893.5h1M436 893.5h1M441 893.5h1M445 893.5h1M447 893.5h1M432 894.5h1M439 894.5h1M441 894.5h1M443 894.5h1M433 895.5h1M434 895.5h1M437 895.5h1M442 895.5h1M435 896.5h1M442 896.5h1M445 896.5h1M446 896.5h1M433 897.5h1M439 897.5h1M443 897.5h1M444 897.5h1" stroke="rgb(150,150,150)" stroke-width="1"/>
<path d="M432 882.5h1M437 882.5h1M432 884.5h1M439 884.5h1M442 884.5h1M446 884.5h1M432 885.5h1M434 885.5h1M436 885.5h1M438 885.5h1M440 885.5h1M446 885.5h1M447 886.5h1M440 887.5h1M446 887.5h1M442 888.5h1M447 888.5h1M432 889.5h1M434 891.5h1M436 891.5h1M437 892.5h1M432 893.5h1M439 893.5h1M442 893.5h1M443 893.5h1M437 894.5h1M447 894.5h1M441 895.5h1M436 896.5h1M444 896.5h1M440 897.5h1M442 897.5h1" stroke="rgb(162,162,162)" stroke-width="1"/>
<path d="M438 882.5h1M439 885.5h1M438 896.5h1" stroke="rgb(174,174,174)" stroke-width="1"/>
<path d="M462 884.5h1M457 890.5h1M458 896.5h1M461 896.5h1M462 897.5h1" stroke="rgb(78,78,78)" stroke-width="1"/>
<path d="M457 882.5h1M468 884.5h1M459 885.5h1M463 885.5h1M466 885.5h1M467 890.5h1M471 896.5h1" stroke="rgb(90,90,90)" stroke-width="1"/>
<path d="M458 882.5h1M457 883.5h1M462 885.5h1M467 885.5h1M461 887.5h1M467 888.5h1M471 892.5h1M464 895.5h1M462 896.5h1M459 897.5h1M463 897.5h1" stroke="rgb(102,102,102)" stroke-width="1"/>
<path d="M463 882.5h1M466 882.5h1M470 883.5h1M457 884.5h1M458 884.5h1M466 884.5h1M472 884.5h1M465 885.5h1M472 886.5h1M468 887.5h1M460 888.5h1M467 889.5h1M459 890.5h1M466 890.5h1M467 891.5h1M465 892.5h1M468 892.5h1M462 893.5h1M465 893.5h1M471 893.5h1M457 894.5h1M462 894.5h1M469 894.5h1M470 894.5h1M471 894.5h1M457 895.5h1M462 895.5h1M466 897.5h1M470 897.5h1" stroke="rgb(114,114,114)" stroke-width="1"/>
<path d="M459 882.5h1M467 882.5h1M470 882.5h1M460 883.5h1M464 883.5h1M466 883.5h1M467 883.5h1M468 883.5h1M463 884.5h1M464 884.5h1M470 884.5h1M464 885.5h1M472 885.5h1M457 886.5h1M460 886.5h1M462 886.5h1M463 886.5h1M457 887.5h1M458 887.5h1M472 887.5h1M458 888.5h1M459 889.5h1M468 890.5h1M469 890.5h1M472 890.5h1M459 891.5h1M460 892.5h1M469 892.5h1M460 893.5h1M461 893.5h1M467 893.5h1M470 893.5h1M459 894.5h1M460 894.5h1M463 894.5h1M466 894.5h1M467 894.5h1M468 894.5h1M472 894.5h1M471 895.5h1M457 896.5h1M472 896.5h1M467 897.5h1M471 897.5h1M472 897.5h1" stroke="rgb(126,126,126)" stroke-width="1"/>
<path d="M471 882.5h1M461 883.5h1M463 883.5h1M465 883.5h1M459 884.5h1M469 884.5h1M471 884.5h1M461 885.5h1M471 885.5h1M461 886.5h1M464 886.5h1M465 886.5h1M466 886.5h1M467 886.5h1M468 886.5h1M469 886.5h1M471 886.5h1M460 887.5h1M464 887.5h1M470 887.5h1M457 888.5h1M466 888.5h1M470 888.5h1M471 888.5h1M465 889.5h1M469 889.5h1M472 889.5h1M464 890.5h1M470 890.5h1M471 890.5h1M462 891.5h1M465 891.5h1M464 892.5h1M467 892.5h1M459 893.5h1M463 893.5h1M466 893.5h1M469 893.5h1M464 894.5h1M458 895.5h1M460 895.5h1M470 895.5h1M460 896.5h1M464 896.5h1M470 896.5h1M458 897.5h1M460 897.5h1M469 897.5h1" stroke="rgb(138,138,138)" stroke-width="1"/>
<path d="M460 882.5h1M464 882.5h1M468 882.5h1M472 882.5h1M459 883.5h1M472 883.5h1M460 884.5h1M467 884.5h1M457 885.5h1M468 885.5h1M470 885.5h1M458 886.5h1M467 887.5h1M469 887.5h1M461 888.5h1M457 889.5h1M460 889.5h1M464 889.5h1M468 889.5h1M461 890.5h1M462 890.5h1M465 890.5h1M457 891.5h1M461 891.5h1M463 891.5h1M464 891.5h1M466 891.5h1M468 891.5h1M458 892.5h1M463 892.5h1M472 892.5h1M464 893.5h1M472 893.5h1M458 894.5h1M468 895.5h1M469 895.5h1M459 896.5h1M463 896.5h1M466 896.5h1M457 897.5h1M461 897.5h1M465 897.5h1" stroke="rgb(150,150,150)" stroke-width="1"/>
<path d="M461 882.5h1M469 882.5h1M458 883.5h1M469 883.5h1M471 883.5h1M461 884.5h1M465 884.5h1M458 885.5h1M469 885.5h1M462 887.5h1M463 887.5h1M465 887.5h1M471 887.5h1M469 888.5h1M462 889.5h1M463 889.5h1M466 889.5h1M470 889.5h1M471 889.5h1M458 890.5h1M460 890.5h1M469 891.5h1M471 891.5h1M466 892.5h1M470 892.5h1M466 895.5h1M467 895.5h1M472 895.5h1M465 896.5h1M464 897.5h1M468 897.5h1" stroke="rgb(162,162,162)" stroke-width="1"/>
<path d="M462 883.5h1M460 885.5h1M459 888.5h1M463 888.5h1M464 888.5h1M465 888.5h1M468 888.5h1M472 888.5h1M458 889.5h1M463 890.5h1M458 891.5h1M460 891.5h1M459 892.5h1M461 892.5h1M457 893.5h1M458 893.5h1M468 893.5h1M461 894.5h1M465 894.5h1M463 895.5h1M467 896.5h1M469 896.5h1" stroke="rgb(174,174,174)" stroke-width="1"/>
<path d="M462 882.5h1M459 886.5h1M470 886.5h1M459 887.5h1M462 888.5h1M470 891.5h1M472 891.5h1M457 892.5h1M462 892.5h1M459 895.5h1M461 895.5h1M465 895.5h1" stroke="rgb(186,186,186)" stroke-width="1"/>
<path d="M465 882.5h1M466 887.5h1M461 889.5h1" stroke="rgb(198,198,198)" stroke-width="1"/>
<path d="M468 896.5h1" stroke="rgb(210,210,210)" stroke-width="1"/>
<path d="M488 889.5h1" stroke="rgb(42,42,42)" stroke-width="1"/>
<path d="M485 885.5h1M486 888.5h1M487 888.5h1M487 889.5h1" stroke="rgb(54,54,54)" stroke-width="1"/>
<path d="M483 882.5h1M482 883.5h1M488 883.5h1M490 885.5h1M493 896.5h1" stroke="rgb(66,66,66)" stroke-width="1"/>
<path d="M483 885.5h1M487 887.5h1M488 890.5h1M486 891.5h1M484 892.5h1M484 893.5h1" stroke="rgb(78,78,78)" stroke-width="1"/>
<path d="M487 883.5h1M491 883.5h1M486 885.5h1M484 886.5h1M485 886.5h1M494 886.5h1M494 887.5h1M486 889.5h1M487 890.5h1M497 891.5h1" stroke="rgb(90,90,90)" stroke-width="1"/>
<path d="M491 882.5h1M483 883.5h1M490 883.5h1M482 884.5h1M486 884.5h1M487 884.5h1M484 885.5h1M486 886.5h1M490 886.5h1M484 887.5h1M488 888.5h1M497 888.5h1M485 891.5h1M493 891.5h1M494 891.5h1M482 895.5h1M483 895.5h1M486 895.5h1M494 897.5h1" stroke="rgb(102,102,102)" stroke-width="1"/>
<path d="M487 882.5h1M482 885.5h1M488 886.5h1M486 887.5h1M488 887.5h1M483 889.5h1M489 889.5h1M483 890.5h1M485 890.5h1M484 891.5h1M487 891.5h1M488 891.5h1M489 891.5h1M496 891.5h1M485 892.5h1M494 892.5h1M488 893.5h1M495 893.5h1M496 893.5h1M487 894.5h1M496 894.5h1M492 896.5h1" stroke="rgb(114,114,114)" stroke-width="1"/>
<path d="M488 882.5h1M490 882.5h1M492 882.5h1M483 884.5h1M488 884.5h1M489 885.5h1M491 885.5h1M487 886.5h1M489 886.5h1M493 886.5h1M496 886.5h1M497 886.5h1M485 888.5h1M484 889.5h1M497 889.5h1M489 890.5h1M483 891.5h1M483 892.5h1M490 892.5h1M496 892.5h1M494 893.5h1M482 894.5h1M484 894.5h1M495 894.5h1M493 895.5h1M497 896.5h1M493 897.5h1M496 897.5h1M497 897.5h1" stroke="rgb(126,126,126)" stroke-width="1"/>
<path d="M482 882.5h1M492 883.5h1M495 883.5h1M484 884.5h1M485 884.5h1M491 884.5h1M483 886.5h1M495 886.5h1M490 887.5h1M491 887.5h1M493 887.5h1M495 887.5h1M497 887.5h1M483 888.5h1M484 888.5h1M485 889.5h1M486 890.5h1M491 890.5h1M493 890.5h1M496 890.5h1M497 890.5h1M488 892.5h1M489 892.5h1M495 892.5h1M497 892.5h1M487 893.5h1M489 893.5h1M483 894.5h1M488 894.5h1M494 894.5h1M494 895.5h1M496 895.5h1M486 896.5h1M494 896.5h1" stroke="rgb(138,138,138)" stroke-width="1"/>
<path d="M489 882.5h1M497 882.5h1M486 883.5h1M493 883.5h1M496 883.5h1M490 884.5h1M495 884.5h1M496 884.5h1M487 885.5h1M482 887.5h1M483 887.5h1M489 887.5h1M492 887.5h1M491 888.5h1M484 890.5h1M494 890.5h1M495 890.5h1M490 891.5h1M492 891.5h1M495 891.5h1M486 892.5h1M487 892.5h1M493 894.5h1M497 894.5h1M484 895.5h1M487 895.5h1M488 895.5h1M495 895.5h1M497 895.5h1M490 896.5h1M496 896.5h1M488 897.5h1M495 897.5h1" stroke="rgb(150,150,150)" stroke-width="1"/>
<path d="M484 882.5h1M493 882.5h1M489 883.5h1M494 883.5h1M497 883.5h1M493 884.5h1M492 885.5h1M493 885.5h1M482 886.5h1M491 886.5h1M485 887.5h1M496 887.5h1M482 888.5h1M489 888.5h1M494 888.5h1M490 889.5h1M496 889.5h1M490 890.5h1M482 891.5h1M493 892.5h1M483 893.5h1M485 893.5h1M492 893.5h1M490 895.5h1M482 896.5h1M483 896.5h1M482 897.5h1M485 897.5h1M492 897.5h1" stroke="rgb(162,162,162)" stroke-width="1"/>
<path d="M492 884.5h1M497 884.5h1M488 885.5h1M496 885.5h1M497 885.5h1M490 888.5h1M493 888.5h1M496 888.5h1M482 889.5h1M482 890.5h1M482 892.5h1M492 892.5h1M493 893.5h1M497 893.5h1M485 895.5h1M489 895.5h1M492 895.5h1M484 896.5h1M485 896.5h1M487 896.5h1M488 896.5h1M489 896.5h1M483 897.5h1M486 897.5h1M487 897.5h1" stroke="rgb(174,174,174)" stroke-width="1"/>
<path d="M486 882.5h1M494 882.5h1M484 883.5h1M494 885.5h1M495 885.5h1M492 886.5h1M495 888.5h1M491 889.5h1M495 889.5h1M492 890.5h1M491 892.5h1M490 893.5h1M486 894.5h1M489 894.5h1M490 894.5h1M491 894.5h1M492 894.5h1M491 895.5h1M491 896.5h1M484 897.5h1M489 897.5h1" stroke="rgb(186,186,186)" stroke-width="1"/>
<path d="M496 882.5h1M485 883.5h1M489 884.5h1M494 884.5h1M494 889.5h1M482 893.5h1M495 896.5h1M491 897.5h1" stroke="rgb(198,198,198)" stroke-width="1"/>
<path d="M485 882.5h1M495 882.5h1M492 888.5h1M491 893.5h1M485 894.5h1M490 897.5h1" stroke="rgb(210,210,210)" stroke-width="1"/>
<path d="M493 889.5h1M491 891.5h1M486 893.5h1" stroke="rgb(222,222,222)" stroke-width="1"/>
<path d="M492 889.5h1" stroke="rgb(246,246,246)" stroke-width="1"/>
<path d="M564.9 761V862.4H670" stroke="#a0a0a0" fill="none" stroke-width="0.9"/>
<rect x="570.7" y="804.6" width="8.8" height="57.8" fill="#4cb0fa" stroke="#3a6f99" stroke-width="0.6"/>
<line x1="575.1" y1="799.8" x2="575.1" y2="809.0" stroke="#111" stroke-width="1.6"/>
<rect x="591.7" y="806.9" width="8.8" height="55.5" fill="#4cb0fa" stroke="#3a6f99" stroke-width="0.6"/>
<line x1="596.1" y1="803.8" x2="596.1" y2="810.4" stroke="#111" stroke-width="1.6"/>
<rect x="612.7" y="813.0" width="8.8" height="49.4" fill="#4cb0fa" stroke="#3a6f99" stroke-width="0.6"/>
<line x1="617.1" y1="808.5" x2="617.1" y2="816.4" stroke="#111" stroke-width="1.6"/>
<rect x="633.7" y="818.2" width="8.8" height="44.2" fill="#4cb0fa" stroke="#3a6f99" stroke-width="0.6"/>
<line x1="638.1" y1="814.3" x2="638.1" y2="821.6" stroke="#111" stroke-width="1.6"/>
<rect x="654.7" y="809.0" width="8.8" height="53.4" fill="#4cb0fa" stroke="#3a6f99" stroke-width="0.6"/>
<line x1="659.1" y1="807.2" x2="659.1" y2="811.7" stroke="#111" stroke-width="1.6"/>
<text x="550.46" y="809.76" font-size="15.60" textLength="9.11" lengthAdjust="spacingAndGlyphs" fill="#262626">6</text>
<text x="550.38" y="868.86" font-size="15.60" textLength="9.11" lengthAdjust="spacingAndGlyphs" fill="#262626">0</text>
<rect x="553.4" y="876.1" width="124.90000000000002" height="25.599999999999955" fill="#4b4b4b" stroke="#111" stroke-width="1.2"/>
<rect x="552.8" y="875.5" width="26.3" height="26.799999999999955" fill="#282828"/>
<rect x="578.8" y="875.5" width="25.3" height="26.799999999999955" fill="#5a5a5a"/>
<rect x="603.8" y="875.5" width="25.3" height="26.799999999999955" fill="#787878"/>
<rect x="628.8" y="875.5" width="25.3" height="26.799999999999955" fill="#8b8b8b"/>
<rect x="653.8" y="875.5" width="25.4" height="26.799999999999955" fill="#d0d0d0"/>
<rect x="553.4" y="876.1" width="124.90000000000002" height="25.599999999999955" fill="none" stroke="#111" stroke-width="1.2"/>
</svg>
</body></html>
